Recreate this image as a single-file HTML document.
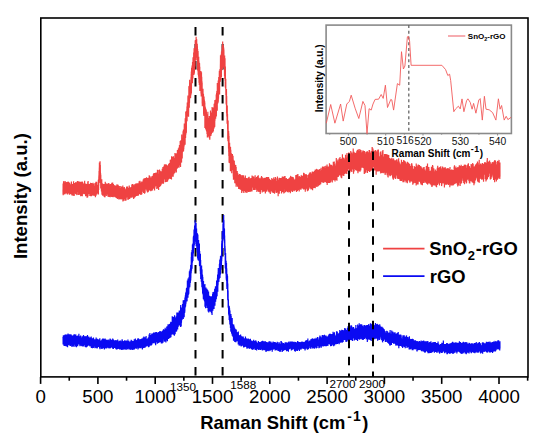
<!DOCTYPE html>
<html><head><meta charset="utf-8"><style>
html,body{margin:0;padding:0;background:#fff;}
body{width:550px;height:443px;overflow:hidden;}
svg{display:block;}
</style></head><body>
<svg width="550" height="443" viewBox="0 0 550 443">
<rect x="0" y="0" width="550" height="443" fill="#fff"/>
<line x1="195.5" y1="27.1" x2="195.5" y2="376.9" stroke="#000" stroke-width="2.0" stroke-dasharray="8.5 8.5"/>
<line x1="222.6" y1="27.1" x2="222.6" y2="376.9" stroke="#000" stroke-width="2.0" stroke-dasharray="8.5 8.5"/>
<polyline points="63.00,189.8 63.06,194.3 63.12,183.6 63.18,195.3 63.24,184.1 63.30,185.2 63.36,194.1 63.42,187.4 63.48,189.5 63.54,181.4 63.60,191.8 63.66,189.6 63.72,185.9 63.78,191.7 63.84,184.7 63.90,186.2 63.96,180.9 64.02,186.6 64.08,183.8 64.14,187.5 64.20,191.1 64.26,184.2 64.32,189.9 64.38,194.1 64.44,194.3 64.50,192.3 64.56,189.8 64.62,186.2 64.68,184.3 64.74,193.8 64.80,187.9 64.86,182.6 64.92,190.6 64.98,191.9 65.04,190.9 65.10,194.3 65.16,182.4 65.22,186.6 65.28,188.0 65.34,181.3 65.40,191.2 65.46,193.0 65.52,190.4 65.58,185.7 65.64,192.5 65.70,187.8 65.76,189.6 65.82,193.2 65.88,182.8 65.94,191.2 66.00,191.7 66.06,190.9 66.12,184.1 66.18,190.5 66.24,185.2 66.30,183.0 66.36,192.8 66.42,192.1 66.48,190.8 66.54,187.9 66.60,186.0 66.66,181.9 66.72,189.1 66.78,192.1 66.84,193.3 66.90,183.8 66.96,182.8 67.02,189.3 67.08,193.8 67.14,194.1 67.20,185.4 67.26,189.4 67.32,192.1 67.38,187.1 67.44,192.9 67.50,181.9 67.56,191.5 67.62,194.5 67.68,192.6 67.74,193.0 67.80,190.9 67.86,185.4 67.92,192.7 67.98,185.3 68.04,191.9 68.10,181.5 68.16,193.6 68.22,184.0 68.28,184.8 68.34,185.0 68.40,193.4 68.46,183.7 68.52,186.7 68.58,182.0 68.64,185.6 68.70,186.0 68.76,182.3 68.82,191.8 68.88,185.8 68.94,191.6 69.00,191.9 69.06,187.4 69.12,193.4 69.18,189.3 69.24,191.9 69.30,187.4 69.36,189.6 69.42,184.5 69.48,194.7 69.54,186.5 69.60,186.9 69.66,182.7 69.72,184.3 69.78,190.9 69.84,193.4 69.90,185.9 69.96,186.1 70.02,187.5 70.08,188.7 70.14,187.0 70.20,191.5 70.26,193.9 70.32,192.4 70.38,186.3 70.44,186.7 70.50,186.3 70.56,184.2 70.62,184.8 70.68,186.1 70.74,186.5 70.80,185.1 70.86,189.6 70.92,194.0 70.98,191.1 71.04,192.9 71.10,190.7 71.16,191.3 71.22,194.4 71.28,189.7 71.34,187.9 71.40,181.6 71.46,189.2 71.52,185.1 71.58,183.5 71.64,190.2 71.70,192.4 71.76,185.4 71.82,191.2 71.88,187.6 71.94,184.0 72.00,195.6 72.06,187.0 72.12,185.9 72.18,193.3 72.24,185.0 72.30,191.9 72.36,185.4 72.42,186.8 72.48,183.9 72.54,191.6 72.60,185.9 72.66,195.4 72.72,189.2 72.78,192.2 72.84,188.4 72.90,184.0 72.96,187.2 73.02,194.0 73.08,186.2 73.14,195.8 73.20,191.0 73.26,186.6 73.32,189.0 73.38,185.3 73.44,186.7 73.50,189.0 73.56,181.3 73.62,189.5 73.68,193.1 73.74,186.1 73.80,192.1 73.86,186.2 73.92,184.9 73.98,193.7 74.04,183.0 74.10,184.2 74.16,196.0 74.22,184.9 74.28,194.8 74.34,192.5 74.40,192.3 74.46,190.0 74.52,186.5 74.58,192.0 74.64,183.0 74.70,187.2 74.76,186.0 74.82,188.1 74.88,183.4 74.94,186.1 75.00,188.8 75.06,186.3 75.12,193.0 75.18,190.4 75.24,192.4 75.30,191.3 75.36,188.5 75.42,186.3 75.48,191.5 75.54,184.4 75.60,182.3 75.66,193.9 75.72,189.1 75.78,193.1 75.84,189.2 75.90,192.1 75.96,182.2 76.02,182.5 76.08,190.8 76.14,188.8 76.20,184.7 76.26,194.5 76.32,184.1 76.38,187.2 76.44,182.9 76.50,191.6 76.56,185.1 76.62,183.5 76.68,183.9 76.74,182.8 76.80,183.1 76.86,190.3 76.92,188.1 76.98,194.1 77.04,195.1 77.10,193.5 77.16,190.1 77.22,194.2 77.28,194.4 77.34,183.4 77.40,181.1 77.46,188.5 77.52,182.9 77.58,191.1 77.64,184.7 77.70,185.8 77.76,186.8 77.82,183.2 77.88,191.5 77.94,189.9 78.00,189.3 78.06,183.0 78.12,186.7 78.18,191.8 78.24,183.9 78.30,186.8 78.36,181.4 78.42,182.4 78.48,182.7 78.54,188.1 78.60,187.7 78.66,195.1 78.72,185.3 78.78,181.3 78.84,193.0 78.90,182.2 78.96,181.9 79.02,193.0 79.08,191.3 79.14,185.8 79.20,184.3 79.26,187.8 79.32,185.4 79.38,194.5 79.44,186.5 79.50,182.3 79.56,194.1 79.62,189.5 79.68,184.2 79.74,184.9 79.80,187.2 79.86,183.5 79.92,190.5 79.98,190.8 80.04,181.7 80.10,194.2 80.16,193.3 80.22,194.9 80.28,193.1 80.34,190.7 80.40,184.1 80.46,182.9 80.52,183.8 80.58,195.2 80.64,191.4 80.70,196.3 80.76,186.5 80.82,192.0 80.88,182.9 80.94,181.8 81.00,186.3 81.06,190.0 81.12,191.5 81.18,187.4 81.24,188.1 81.30,190.3 81.36,195.9 81.42,187.1 81.48,190.4 81.54,182.8 81.60,187.5 81.66,189.9 81.72,189.8 81.78,184.6 81.84,187.4 81.90,194.0 81.96,189.9 82.02,190.3 82.08,183.5 82.14,181.6 82.20,183.1 82.26,182.9 82.32,196.2 82.38,181.8 82.44,187.7 82.50,183.4 82.56,191.9 82.62,182.3 82.68,183.1 82.74,184.0 82.80,185.4 82.86,189.0 82.92,194.2 82.98,187.2 83.04,185.1 83.10,193.9 83.16,192.7 83.22,184.0 83.28,192.7 83.34,192.6 83.40,183.4 83.46,191.6 83.52,184.8 83.58,186.0 83.64,187.1 83.70,190.2 83.76,189.6 83.82,189.8 83.88,187.1 83.94,193.0 84.00,186.1 84.06,193.7 84.12,188.6 84.18,186.8 84.24,184.9 84.30,190.0 84.36,186.7 84.42,191.2 84.48,188.1 84.54,182.5 84.60,193.0 84.66,180.7 84.72,194.3 84.78,192.4 84.84,194.0 84.90,191.4 84.96,183.3 85.02,187.3 85.08,185.7 85.14,190.8 85.20,188.1 85.26,191.0 85.32,186.1 85.38,188.5 85.44,190.3 85.50,187.8 85.56,184.6 85.62,196.2 85.68,191.8 85.74,194.8 85.80,187.6 85.86,194.0 85.92,193.1 85.98,195.8 86.04,183.8 86.10,187.4 86.16,187.6 86.22,191.2 86.28,184.7 86.34,184.2 86.40,187.9 86.46,189.8 86.52,188.4 86.58,196.0 86.64,186.1 86.70,184.8 86.76,193.5 86.82,187.8 86.88,185.2 86.94,184.8 87.00,195.0 87.06,197.7 87.12,189.5 87.18,187.8 87.24,191.2 87.30,184.1 87.36,187.6 87.42,189.5 87.48,187.5 87.54,188.3 87.60,197.6 87.66,185.1 87.72,189.7 87.78,181.8 87.84,183.5 87.90,186.2 87.96,196.3 88.02,192.6 88.08,195.3 88.14,180.9 88.20,192.6 88.26,188.5 88.32,188.1 88.38,192.5 88.44,186.3 88.50,188.3 88.56,184.0 88.62,188.1 88.68,188.5 88.74,184.5 88.80,184.5 88.86,188.1 88.92,189.4 88.98,193.0 89.04,191.6 89.10,189.4 89.16,193.9 89.22,185.3 89.28,183.9 89.34,188.3 89.40,184.5 89.46,191.1 89.52,192.0 89.58,184.9 89.64,193.2 89.70,190.5 89.76,187.3 89.82,195.9 89.88,195.1 89.94,184.5 90.00,184.6 90.06,193.5 90.12,185.0 90.18,194.4 90.24,187.0 90.30,186.8 90.36,191.2 90.42,195.7 90.48,182.8 90.54,185.6 90.60,192.2 90.66,189.0 90.72,184.4 90.78,196.3 90.84,185.4 90.90,192.7 90.96,195.0 91.02,191.4 91.08,192.8 91.14,191.1 91.20,191.2 91.26,186.1 91.32,192.5 91.38,195.3 91.44,196.2 91.50,193.1 91.56,194.9 91.62,182.9 91.68,187.9 91.74,186.9 91.80,195.4 91.86,188.5 91.92,187.5 91.98,184.1 92.04,186.6 92.10,191.7 92.16,183.4 92.22,184.2 92.28,186.9 92.34,191.0 92.40,185.7 92.46,194.4 92.52,184.5 92.58,190.5 92.64,193.7 92.70,195.6 92.76,195.0 92.82,183.7 92.88,192.8 92.94,191.8 93.00,188.6 93.06,182.8 93.12,184.0 93.18,192.5 93.24,183.9 93.30,185.7 93.36,185.2 93.42,193.3 93.48,189.8 93.54,184.0 93.60,186.6 93.66,188.6 93.72,192.9 93.78,186.0 93.84,192.4 93.90,190.4 93.96,195.8 94.02,191.7 94.08,189.2 94.14,188.8 94.20,189.3 94.26,193.3 94.32,185.7 94.38,188.6 94.44,189.0 94.50,189.0 94.56,191.4 94.62,190.3 94.68,189.0 94.74,190.1 94.80,186.0 94.86,190.7 94.92,192.6 94.98,183.0 95.04,188.0 95.10,195.9 95.16,193.9 95.22,194.8 95.28,184.2 95.34,191.9 95.40,197.3 95.46,196.4 95.52,190.9 95.58,192.0 95.64,193.2 95.70,188.8 95.76,191.2 95.82,190.6 95.88,185.1 95.94,181.8 96.00,195.7 96.06,193.6 96.12,185.0 96.18,193.3 96.24,185.2 96.30,189.1 96.36,187.7 96.42,185.4 96.48,182.9 96.54,182.0 96.60,182.1 96.66,182.3 96.72,182.9 96.78,194.6 96.84,188.8 96.90,184.5 96.96,188.9 97.02,189.9 97.08,188.1 97.14,185.2 97.20,186.5 97.26,191.5 97.32,187.5 97.38,186.7 97.44,192.6 97.50,185.6 97.56,190.4 97.62,187.4 97.68,191.7 97.74,185.9 97.80,188.8 97.86,184.9 97.92,191.1 97.98,193.6 98.04,188.3 98.10,192.7 98.16,190.1 98.22,191.4 98.28,191.6 98.34,179.7 98.40,194.5 98.46,183.0 98.52,182.7 98.58,179.6 98.64,189.9 98.70,181.7 98.76,185.9 98.82,177.8 98.88,176.5 98.94,175.2 99.00,176.7 99.06,171.1 99.12,182.8 99.18,182.8 99.24,173.1 99.30,167.6 99.36,171.8 99.42,162.5 99.48,171.1 99.54,168.0 99.60,171.3 99.66,175.0 99.72,178.9 99.78,175.6 99.84,178.7 99.90,171.7 99.96,166.8 100.02,161.3 100.08,161.7 100.14,172.5 100.20,179.4 100.26,174.1 100.32,165.1 100.38,171.8 100.44,182.8 100.50,173.7 100.56,173.0 100.62,177.3 100.68,183.5 100.74,188.2 100.80,174.8 100.86,182.0 100.92,181.4 100.98,182.2 101.04,183.9 101.10,188.8 101.16,180.3 101.22,186.3 101.28,180.6 101.34,185.4 101.40,190.1 101.46,191.6 101.52,185.5 101.58,183.6 101.64,187.5 101.70,187.2 101.76,179.2 101.82,187.1 101.88,191.6 101.94,193.9 102.00,194.7 102.06,184.3 102.12,183.5 102.18,183.2 102.24,187.4 102.30,193.5 102.36,185.2 102.42,192.9 102.48,191.0 102.54,185.1 102.60,189.6 102.66,192.7 102.72,195.7 102.78,183.7 102.84,193.6 102.90,190.0 102.96,184.5 103.02,186.1 103.08,195.7 103.14,186.9 103.20,186.2 103.26,191.2 103.32,184.0 103.38,189.6 103.44,186.2 103.50,188.4 103.56,191.6 103.62,193.0 103.68,189.7 103.74,193.9 103.80,193.6 103.86,194.8 103.92,189.2 103.98,193.3 104.04,187.7 104.10,187.0 104.16,191.9 104.22,197.0 104.28,193.5 104.34,186.9 104.40,184.0 104.46,192.8 104.52,193.0 104.58,193.3 104.64,183.9 104.70,194.5 104.76,188.3 104.82,185.6 104.88,186.9 104.94,196.9 105.00,197.3 105.06,184.9 105.12,187.4 105.18,194.0 105.24,181.8 105.30,184.5 105.36,183.6 105.42,194.7 105.48,186.8 105.54,187.3 105.60,194.2 105.66,186.6 105.72,192.1 105.78,188.4 105.84,188.5 105.90,189.4 105.96,186.4 106.02,183.3 106.08,194.4 106.14,194.5 106.20,191.2 106.26,192.0 106.32,196.0 106.38,189.2 106.44,191.9 106.50,193.8 106.56,185.5 106.62,185.6 106.68,193.6 106.74,193.8 106.80,184.2 106.86,193.9 106.92,194.1 106.98,188.4 107.04,189.0 107.10,184.0 107.16,189.3 107.22,185.8 107.28,191.7 107.34,191.1 107.40,190.2 107.46,183.8 107.52,192.0 107.58,191.1 107.64,186.5 107.70,191.1 107.76,195.4 107.82,187.3 107.88,195.3 107.94,195.0 108.00,191.2 108.06,196.8 108.12,186.2 108.18,192.2 108.24,194.5 108.30,183.3 108.36,194.7 108.42,187.0 108.48,194.1 108.54,191.0 108.60,194.0 108.66,188.4 108.72,190.6 108.78,195.3 108.84,183.0 108.90,185.8 108.96,195.6 109.02,197.0 109.08,186.6 109.14,196.2 109.20,186.5 109.26,196.1 109.32,194.0 109.38,184.6 109.44,184.7 109.50,188.0 109.56,196.1 109.62,193.5 109.68,187.7 109.74,195.4 109.80,187.8 109.86,187.5 109.92,186.9 109.98,196.1 110.04,195.3 110.10,188.7 110.16,187.3 110.22,197.2 110.28,189.8 110.34,185.9 110.40,189.2 110.46,193.3 110.52,195.0 110.58,184.0 110.64,196.1 110.70,190.9 110.76,185.9 110.82,195.1 110.88,196.4 110.94,194.8 111.00,184.3 111.06,189.6 111.12,191.8 111.18,194.2 111.24,189.1 111.30,185.7 111.36,196.3 111.42,194.9 111.48,190.2 111.54,185.0 111.60,196.5 111.66,192.9 111.72,197.0 111.78,182.8 111.84,187.8 111.90,186.5 111.96,185.0 112.02,193.1 112.08,188.0 112.14,183.6 112.20,185.6 112.26,196.9 112.32,192.5 112.38,187.6 112.44,195.1 112.50,184.1 112.56,191.7 112.62,191.8 112.68,182.5 112.74,191.8 112.80,192.5 112.86,193.5 112.92,194.4 112.98,195.0 113.04,194.4 113.10,197.2 113.16,188.8 113.22,185.5 113.28,187.0 113.34,188.2 113.40,184.3 113.46,184.4 113.52,192.9 113.58,186.8 113.64,187.6 113.70,194.0 113.76,195.5 113.82,196.4 113.88,188.3 113.94,193.7 114.00,196.7 114.06,185.1 114.12,186.8 114.18,191.7 114.24,187.6 114.30,187.0 114.36,188.3 114.42,186.2 114.48,188.8 114.54,186.0 114.60,187.4 114.66,187.5 114.72,187.8 114.78,186.6 114.84,191.1 114.90,192.1 114.96,188.8 115.02,196.8 115.08,196.9 115.14,187.3 115.20,185.6 115.26,195.2 115.32,189.2 115.38,187.6 115.44,193.3 115.50,195.5 115.56,187.3 115.62,190.6 115.68,191.9 115.74,194.6 115.80,186.9 115.86,192.8 115.92,192.0 115.98,194.3 116.04,185.5 116.10,187.4 116.16,197.8 116.22,196.3 116.28,196.6 116.34,198.0 116.40,197.1 116.46,189.6 116.52,194.5 116.58,193.8 116.64,192.7 116.70,192.0 116.76,187.1 116.82,197.4 116.88,189.3 116.94,187.3 117.00,184.3 117.06,194.0 117.12,188.4 117.18,197.0 117.24,188.8 117.30,190.5 117.36,199.0 117.42,190.3 117.48,196.9 117.54,196.2 117.60,187.6 117.66,187.2 117.72,187.9 117.78,196.2 117.84,190.4 117.90,190.7 117.96,193.2 118.02,189.3 118.08,197.6 118.14,184.8 118.20,188.3 118.26,197.3 118.32,192.8 118.38,195.7 118.44,191.6 118.50,186.7 118.56,192.1 118.62,198.5 118.68,193.3 118.74,194.6 118.80,199.1 118.86,199.2 118.92,199.0 118.98,199.4 119.04,195.2 119.10,190.8 119.16,193.8 119.22,190.7 119.28,197.0 119.34,186.0 119.40,192.7 119.46,197.4 119.52,191.0 119.58,194.5 119.64,187.9 119.70,189.1 119.76,199.2 119.82,196.0 119.88,191.0 119.94,192.8 120.00,196.1 120.06,195.6 120.12,198.1 120.18,189.6 120.24,188.1 120.30,191.6 120.36,193.0 120.42,192.9 120.48,188.5 120.54,190.2 120.60,195.9 120.66,191.1 120.72,197.2 120.78,186.1 120.84,199.2 120.90,188.2 120.96,193.2 121.02,198.3 121.08,189.1 121.14,189.3 121.20,199.4 121.26,197.7 121.32,193.5 121.38,187.5 121.44,194.2 121.50,188.9 121.56,190.1 121.62,198.8 121.68,193.6 121.74,191.2 121.80,186.7 121.86,192.2 121.92,199.0 121.98,190.9 122.04,189.3 122.10,194.0 122.16,190.8 122.22,194.5 122.28,196.8 122.34,190.8 122.40,192.3 122.46,194.3 122.52,191.6 122.58,188.4 122.64,188.7 122.70,193.5 122.76,199.6 122.82,185.4 122.88,199.4 122.94,201.5 123.00,193.0 123.06,200.1 123.12,194.9 123.18,195.5 123.24,191.2 123.30,192.2 123.36,195.0 123.42,191.0 123.48,194.9 123.54,193.2 123.60,196.4 123.66,199.3 123.72,188.9 123.78,192.0 123.84,189.4 123.90,187.5 123.96,195.2 124.02,195.0 124.08,200.7 124.14,193.9 124.20,191.3 124.26,198.7 124.32,186.9 124.38,189.8 124.44,197.0 124.50,188.9 124.56,191.1 124.62,197.6 124.68,190.4 124.74,190.7 124.80,197.5 124.86,188.7 124.92,197.5 124.98,188.9 125.04,189.6 125.10,192.9 125.16,192.2 125.22,199.1 125.28,196.1 125.34,193.0 125.40,192.5 125.46,189.4 125.52,200.7 125.58,191.8 125.64,197.9 125.70,196.5 125.76,198.0 125.82,192.9 125.88,191.0 125.94,191.3 126.00,197.5 126.06,200.5 126.12,197.9 126.18,192.6 126.24,197.9 126.30,196.9 126.36,194.1 126.42,187.9 126.48,188.7 126.54,195.8 126.60,187.1 126.66,191.9 126.72,197.2 126.78,195.2 126.84,193.9 126.90,188.6 126.96,186.6 127.02,186.5 127.08,188.2 127.14,188.6 127.20,193.8 127.26,191.5 127.32,188.3 127.38,190.7 127.44,190.5 127.50,196.1 127.56,195.0 127.62,186.4 127.68,190.8 127.74,189.9 127.80,199.8 127.86,197.2 127.92,194.2 127.98,196.2 128.04,195.2 128.10,195.5 128.16,190.1 128.22,189.1 128.28,194.9 128.34,199.7 128.40,188.1 128.46,194.4 128.52,193.2 128.58,190.3 128.64,197.8 128.70,188.7 128.76,191.3 128.82,190.5 128.88,198.2 128.94,195.4 129.00,194.7 129.06,198.5 129.12,189.0 129.18,194.0 129.24,185.6 129.30,188.5 129.36,195.0 129.42,198.7 129.48,194.0 129.54,193.2 129.60,195.5 129.66,199.0 129.72,197.6 129.78,196.5 129.84,192.2 129.90,197.1 129.96,188.7 130.02,197.4 130.08,188.9 130.14,197.6 130.20,190.7 130.26,189.4 130.32,188.5 130.38,190.6 130.44,187.2 130.50,190.3 130.56,195.8 130.62,197.7 130.68,187.3 130.74,190.0 130.80,190.5 130.86,197.8 130.92,195.2 130.98,189.2 131.04,196.2 131.10,193.2 131.16,188.9 131.22,194.6 131.28,191.4 131.34,197.7 131.40,192.9 131.46,186.9 131.52,195.1 131.58,193.2 131.64,191.6 131.70,193.1 131.76,194.5 131.82,184.6 131.88,190.9 131.94,196.4 132.00,187.6 132.06,186.6 132.12,191.0 132.18,192.1 132.24,189.1 132.30,190.8 132.36,194.4 132.42,196.2 132.48,184.0 132.54,189.3 132.60,193.8 132.66,184.2 132.72,197.6 132.78,192.4 132.84,192.2 132.90,190.3 132.96,186.0 133.02,185.8 133.08,193.6 133.14,197.3 133.20,196.4 133.26,184.7 133.32,185.0 133.38,192.8 133.44,192.0 133.50,192.4 133.56,197.2 133.62,195.4 133.68,199.0 133.74,188.7 133.80,190.0 133.86,197.4 133.92,193.0 133.98,185.6 134.04,196.0 134.10,190.5 134.16,186.1 134.22,189.5 134.28,191.7 134.34,192.3 134.40,188.6 134.46,195.3 134.52,190.7 134.58,197.8 134.64,193.6 134.70,185.6 134.76,184.4 134.82,195.2 134.88,192.3 134.94,196.7 135.00,190.1 135.06,187.3 135.12,184.3 135.18,193.1 135.24,185.8 135.30,191.8 135.36,191.4 135.42,194.8 135.48,196.7 135.54,186.7 135.60,190.0 135.66,192.6 135.72,185.9 135.78,183.6 135.84,185.8 135.90,195.8 135.96,194.3 136.02,187.2 136.08,184.4 136.14,192.4 136.20,188.6 136.26,187.2 136.32,186.1 136.38,190.4 136.44,189.4 136.50,195.9 136.56,191.3 136.62,194.0 136.68,195.1 136.74,195.7 136.80,189.6 136.86,191.4 136.92,190.2 136.98,183.3 137.04,196.0 137.10,184.6 137.16,191.3 137.22,191.7 137.28,193.9 137.34,191.7 137.40,191.9 137.46,193.7 137.52,191.3 137.58,192.6 137.64,195.3 137.70,183.2 137.76,189.4 137.82,185.2 137.88,184.1 137.94,184.7 138.00,194.8 138.06,186.6 138.12,189.6 138.18,193.1 138.24,191.8 138.30,195.7 138.36,187.7 138.42,193.2 138.48,194.9 138.54,183.2 138.60,187.4 138.66,185.3 138.72,188.5 138.78,187.0 138.84,194.4 138.90,187.6 138.96,185.7 139.02,192.7 139.08,186.4 139.14,181.3 139.20,185.1 139.26,188.8 139.32,181.3 139.38,185.9 139.44,186.3 139.50,187.7 139.56,188.5 139.62,185.3 139.68,186.1 139.74,188.7 139.80,187.1 139.86,194.1 139.92,191.6 139.98,180.7 140.04,182.8 140.10,181.8 140.16,186.4 140.22,186.9 140.28,193.8 140.34,191.7 140.40,193.0 140.46,191.0 140.52,191.6 140.58,194.6 140.64,189.3 140.70,187.2 140.76,186.3 140.82,182.5 140.88,194.8 140.94,192.6 141.00,188.2 141.06,195.0 141.12,192.6 141.18,187.9 141.24,193.4 141.30,192.7 141.36,185.8 141.42,186.2 141.48,183.1 141.54,183.1 141.60,184.5 141.66,185.1 141.72,181.5 141.78,189.0 141.84,194.3 141.90,189.2 141.96,192.3 142.02,192.5 142.08,188.3 142.14,187.7 142.20,185.5 142.26,188.4 142.32,183.8 142.38,181.4 142.44,189.7 142.50,188.8 142.56,189.7 142.62,190.3 142.68,184.3 142.74,182.1 142.80,183.8 142.86,183.5 142.92,187.4 142.98,186.0 143.04,188.9 143.10,183.4 143.16,186.0 143.22,179.5 143.28,189.6 143.34,191.7 143.40,190.3 143.46,192.0 143.52,181.1 143.58,193.0 143.64,186.7 143.70,180.8 143.76,182.5 143.82,178.6 143.88,189.5 143.94,186.8 144.00,189.8 144.06,189.4 144.12,186.4 144.18,181.4 144.24,191.5 144.30,179.5 144.36,189.6 144.42,181.3 144.48,181.0 144.54,191.9 144.60,193.8 144.66,185.7 144.72,182.2 144.78,185.8 144.84,181.6 144.90,180.3 144.96,181.5 145.02,178.0 145.08,192.7 145.14,180.4 145.20,185.4 145.26,180.3 145.32,186.4 145.38,185.8 145.44,189.2 145.50,178.7 145.56,181.2 145.62,186.8 145.68,183.5 145.74,189.5 145.80,178.8 145.86,184.2 145.92,182.5 145.98,185.6 146.04,182.3 146.10,187.6 146.16,178.9 146.22,178.0 146.28,182.2 146.34,178.5 146.40,184.1 146.46,186.8 146.52,177.3 146.58,185.7 146.64,187.0 146.70,186.5 146.76,177.7 146.82,190.8 146.88,187.5 146.94,181.7 147.00,183.0 147.06,188.3 147.12,190.8 147.18,180.1 147.24,189.4 147.30,182.1 147.36,191.8 147.42,191.9 147.48,181.8 147.54,182.0 147.60,185.2 147.66,192.4 147.72,178.6 147.78,185.1 147.84,186.4 147.90,188.5 147.96,178.1 148.02,185.9 148.08,182.4 148.14,179.8 148.20,189.1 148.26,178.3 148.32,190.5 148.38,180.0 148.44,191.8 148.50,183.7 148.56,183.5 148.62,178.7 148.68,184.4 148.74,188.0 148.80,177.7 148.86,184.7 148.92,179.3 148.98,179.4 149.04,189.9 149.10,177.4 149.16,185.6 149.22,175.2 149.28,184.9 149.34,185.9 149.40,178.9 149.46,190.5 149.52,179.9 149.58,184.9 149.64,179.2 149.70,186.8 149.76,179.7 149.82,179.8 149.88,176.0 149.94,190.5 150.00,176.9 150.06,181.8 150.12,185.1 150.18,179.9 150.24,185.3 150.30,182.0 150.36,189.5 150.42,178.1 150.48,177.7 150.54,177.4 150.60,182.3 150.66,184.0 150.72,190.2 150.78,191.2 150.84,179.9 150.90,187.1 150.96,181.9 151.02,180.5 151.08,177.7 151.14,187.5 151.20,180.2 151.26,185.5 151.32,183.8 151.38,190.8 151.44,178.9 151.50,183.5 151.56,188.0 151.62,178.6 151.68,187.1 151.74,182.8 151.80,176.5 151.86,188.9 151.92,180.9 151.98,185.0 152.04,187.7 152.10,189.4 152.16,177.9 152.22,175.9 152.28,185.2 152.34,185.0 152.40,182.5 152.46,185.9 152.52,190.5 152.58,185.6 152.64,183.8 152.70,188.0 152.76,189.1 152.82,186.6 152.88,175.8 152.94,181.8 153.00,183.9 153.06,188.3 153.12,183.0 153.18,184.1 153.24,184.6 153.30,177.2 153.36,176.9 153.42,174.2 153.48,174.2 153.54,180.8 153.60,176.7 153.66,184.5 153.72,181.4 153.78,183.3 153.84,175.3 153.90,181.5 153.96,173.1 154.02,175.6 154.08,186.0 154.14,188.7 154.20,175.7 154.26,185.8 154.32,174.3 154.38,183.9 154.44,184.2 154.50,183.0 154.56,190.4 154.62,183.3 154.68,176.1 154.74,188.6 154.80,176.6 154.86,181.5 154.92,179.2 154.98,187.4 155.04,173.0 155.10,181.7 155.16,180.8 155.22,183.0 155.28,186.6 155.34,177.6 155.40,180.8 155.46,184.3 155.52,174.7 155.58,182.5 155.64,180.3 155.70,182.8 155.76,182.5 155.82,186.1 155.88,177.2 155.94,178.3 156.00,172.4 156.06,183.3 156.12,178.1 156.18,173.9 156.24,179.6 156.30,178.9 156.36,183.2 156.42,177.9 156.48,177.9 156.54,185.0 156.60,183.2 156.66,174.1 156.72,181.2 156.78,189.1 156.84,185.4 156.90,184.9 156.96,174.8 157.02,186.8 157.08,173.4 157.14,177.3 157.20,172.7 157.26,183.4 157.32,184.2 157.38,182.6 157.44,169.8 157.50,187.5 157.56,178.8 157.62,183.8 157.68,188.4 157.74,185.3 157.80,180.6 157.86,180.4 157.92,173.9 157.98,177.6 158.04,184.6 158.10,183.1 158.16,183.9 158.22,183.6 158.28,175.4 158.34,188.6 158.40,177.5 158.46,173.8 158.52,183.6 158.58,174.8 158.64,190.0 158.70,178.3 158.76,174.0 158.82,170.1 158.88,181.4 158.94,172.3 159.00,173.6 159.06,178.1 159.12,177.4 159.18,185.9 159.24,173.5 159.30,186.9 159.36,174.2 159.42,185.2 159.48,169.4 159.54,171.6 159.60,177.8 159.66,173.0 159.72,179.0 159.78,184.6 159.84,186.7 159.90,173.4 159.96,174.6 160.02,175.0 160.08,172.0 160.14,179.5 160.20,170.7 160.26,172.9 160.32,171.6 160.38,176.8 160.44,185.6 160.50,172.2 160.56,186.1 160.62,173.6 160.68,180.9 160.74,183.2 160.80,178.9 160.86,180.7 160.92,181.1 160.98,184.7 161.04,184.9 161.10,177.5 161.16,174.0 161.22,171.4 161.28,178.6 161.34,175.8 161.40,173.3 161.46,182.9 161.52,180.9 161.58,182.3 161.64,182.1 161.70,177.2 161.76,175.3 161.82,179.6 161.88,180.7 161.94,170.9 162.00,173.5 162.06,178.6 162.12,172.5 162.18,183.8 162.24,168.7 162.30,183.2 162.36,180.7 162.42,179.5 162.48,171.5 162.54,181.7 162.60,176.4 162.66,177.7 162.72,174.6 162.78,170.3 162.84,183.0 162.90,167.0 162.96,168.5 163.02,180.2 163.08,181.8 163.14,170.5 163.20,175.0 163.26,178.8 163.32,179.8 163.38,178.8 163.44,173.7 163.50,183.8 163.56,166.4 163.62,177.4 163.68,168.2 163.74,171.3 163.80,174.3 163.86,179.6 163.92,177.2 163.98,172.5 164.04,175.1 164.10,174.0 164.16,174.7 164.22,172.3 164.28,173.1 164.34,175.2 164.40,164.4 164.46,165.3 164.52,174.6 164.58,170.4 164.64,179.5 164.70,164.4 164.76,169.1 164.82,176.7 164.88,167.1 164.94,174.7 165.00,171.5 165.06,169.8 165.12,169.7 165.18,182.2 165.24,168.4 165.30,166.5 165.36,178.1 165.42,168.4 165.48,177.3 165.54,173.8 165.60,177.6 165.66,182.1 165.72,166.3 165.78,164.3 165.84,172.5 165.90,170.4 165.96,170.2 166.02,178.3 166.08,166.0 166.14,174.0 166.20,173.2 166.26,164.4 166.32,176.4 166.38,168.0 166.44,172.0 166.50,165.1 166.56,169.7 166.62,171.5 166.68,175.2 166.74,165.3 166.80,173.5 166.86,174.0 166.92,182.1 166.98,172.8 167.04,174.4 167.10,169.1 167.16,171.2 167.22,181.5 167.28,173.1 167.34,180.3 167.40,174.8 167.46,178.9 167.52,173.0 167.58,175.3 167.64,181.2 167.70,169.6 167.76,168.1 167.82,180.0 167.88,166.0 167.94,178.0 168.00,165.5 168.06,172.3 168.12,171.1 168.18,167.9 168.24,165.3 168.30,179.6 168.36,172.2 168.42,173.6 168.48,170.2 168.54,179.3 168.60,172.9 168.66,163.8 168.72,164.9 168.78,176.8 168.84,173.0 168.90,173.3 168.96,164.0 169.02,164.5 169.08,167.3 169.14,165.2 169.20,170.6 169.26,165.6 169.32,172.4 169.38,168.2 169.44,169.8 169.50,178.8 169.56,163.1 169.62,173.7 169.68,173.7 169.74,164.1 169.80,175.8 169.86,163.4 169.92,174.9 169.98,163.1 170.04,165.8 170.10,166.4 170.16,173.5 170.22,168.0 170.28,159.7 170.34,174.2 170.40,168.6 170.46,178.9 170.52,161.0 170.58,165.3 170.64,177.3 170.70,171.0 170.76,169.5 170.82,169.8 170.88,177.6 170.94,159.6 171.00,177.0 171.06,166.2 171.12,174.9 171.18,168.4 171.24,175.7 171.30,160.6 171.36,165.5 171.42,172.1 171.48,179.4 171.54,169.2 171.60,156.2 171.66,173.2 171.72,171.0 171.78,159.1 171.84,159.5 171.90,168.5 171.96,161.0 172.02,173.5 172.08,176.8 172.14,173.8 172.20,173.2 172.26,165.9 172.32,156.7 172.38,173.3 172.44,172.2 172.50,169.1 172.56,159.4 172.62,158.1 172.68,165.5 172.74,160.8 172.80,163.0 172.86,162.1 172.92,161.4 172.98,176.6 173.04,161.1 173.10,163.1 173.16,176.7 173.22,170.8 173.28,165.6 173.34,169.3 173.40,157.6 173.46,156.4 173.52,157.8 173.58,167.2 173.64,168.5 173.70,166.1 173.76,170.9 173.82,166.6 173.88,174.2 173.94,169.2 174.00,158.5 174.06,160.4 174.12,162.7 174.18,166.5 174.24,159.1 174.30,164.4 174.36,159.6 174.42,168.6 174.48,168.8 174.54,162.6 174.60,170.4 174.66,157.9 174.72,172.9 174.78,161.6 174.84,168.4 174.90,166.6 174.96,153.1 175.02,162.5 175.08,153.7 175.14,163.7 175.20,160.0 175.26,171.1 175.32,155.5 175.38,153.5 175.44,167.2 175.50,158.1 175.56,165.1 175.62,156.9 175.68,168.0 175.74,153.5 175.80,162.5 175.86,169.3 175.92,170.4 175.98,154.6 176.04,162.5 176.10,172.2 176.16,154.2 176.22,166.9 176.28,165.7 176.34,172.5 176.40,162.6 176.46,161.1 176.52,161.1 176.58,156.7 176.64,155.0 176.70,160.6 176.76,160.4 176.82,161.1 176.88,165.8 176.94,158.9 177.00,152.9 177.06,168.5 177.12,168.3 177.18,153.9 177.24,162.8 177.30,153.2 177.36,166.4 177.42,150.0 177.48,168.2 177.54,165.5 177.60,151.4 177.66,160.1 177.72,153.9 177.78,151.7 177.84,166.5 177.90,164.2 177.96,159.3 178.02,160.4 178.08,167.5 178.14,153.8 178.20,160.6 178.26,153.4 178.32,156.0 178.38,148.6 178.44,154.7 178.50,162.5 178.56,152.9 178.62,161.0 178.68,161.4 178.74,161.4 178.80,154.7 178.86,157.1 178.92,147.6 178.98,165.2 179.04,167.7 179.10,147.6 179.16,160.5 179.22,159.4 179.28,165.3 179.34,159.8 179.40,150.0 179.46,144.9 179.52,152.3 179.58,148.1 179.64,158.5 179.70,145.9 179.76,158.5 179.82,160.9 179.88,145.5 179.94,165.4 180.00,163.0 180.06,145.9 180.12,153.5 180.18,141.0 180.24,151.4 180.30,142.4 180.36,155.9 180.42,143.5 180.48,143.3 180.54,167.1 180.60,159.1 180.66,157.8 180.72,158.8 180.78,143.8 180.84,140.2 180.90,146.7 180.96,158.1 181.02,158.0 181.08,158.2 181.14,149.9 181.20,154.0 181.26,154.8 181.32,151.1 181.38,145.1 181.44,149.0 181.50,161.4 181.56,162.6 181.62,140.3 181.68,139.8 181.74,134.5 181.80,148.2 181.86,157.9 181.92,146.1 181.98,144.8 182.04,156.8 182.10,141.8 182.16,149.9 182.22,158.4 182.28,153.4 182.34,137.7 182.40,142.2 182.46,146.4 182.52,152.1 182.58,150.8 182.64,146.2 182.70,142.4 182.76,140.1 182.82,148.2 182.88,152.0 182.94,141.9 183.00,138.7 183.06,131.3 183.12,133.7 183.18,135.7 183.24,140.9 183.30,145.8 183.36,140.3 183.42,131.1 183.48,129.5 183.54,151.3 183.60,146.3 183.66,136.9 183.72,149.1 183.78,148.7 183.84,138.4 183.90,136.0 183.96,135.2 184.02,133.9 184.08,146.6 184.14,142.8 184.20,145.2 184.26,126.4 184.32,123.6 184.38,135.3 184.44,136.4 184.50,131.9 184.56,134.5 184.62,143.2 184.68,135.5 184.74,128.1 184.80,129.6 184.86,128.9 184.92,135.6 184.98,135.6 185.04,138.3 185.10,144.8 185.16,132.1 185.22,118.2 185.28,131.4 185.34,128.7 185.40,134.4 185.46,138.0 185.52,122.1 185.58,137.8 185.64,118.4 185.70,127.8 185.76,111.5 185.82,134.7 185.88,115.6 185.94,117.0 186.00,133.5 186.06,111.6 186.12,120.3 186.18,120.5 186.24,118.4 186.30,115.2 186.36,132.7 186.42,111.5 186.48,122.2 186.54,111.0 186.60,120.4 186.66,112.1 186.72,114.5 186.78,116.9 186.84,109.3 186.90,120.9 186.96,106.5 187.02,121.2 187.08,120.0 187.14,106.6 187.20,115.7 187.26,102.5 187.32,105.1 187.38,103.1 187.44,115.4 187.50,113.4 187.56,112.4 187.62,103.3 187.68,104.7 187.74,114.1 187.80,112.7 187.86,102.5 187.92,97.5 187.98,95.5 188.04,116.4 188.10,103.9 188.16,116.1 188.22,97.9 188.28,110.8 188.34,98.3 188.40,113.4 188.46,99.7 188.52,107.2 188.58,116.7 188.64,110.1 188.70,99.7 188.76,97.0 188.82,101.0 188.88,86.6 188.94,93.4 189.00,95.6 189.06,86.0 189.12,89.3 189.18,93.0 189.24,104.0 189.30,107.7 189.36,85.7 189.42,94.0 189.48,102.9 189.54,101.0 189.60,86.8 189.66,79.7 189.72,86.9 189.78,86.2 189.84,85.0 189.90,86.8 189.96,95.5 190.02,84.2 190.08,85.3 190.14,84.0 190.20,91.0 190.26,82.7 190.32,87.9 190.38,98.1 190.44,96.7 190.50,95.9 190.56,98.1 190.62,95.2 190.68,87.0 190.74,92.7 190.80,82.7 190.86,85.9 190.92,95.3 190.98,88.4 191.04,77.2 191.10,85.3 191.16,84.4 191.22,73.9 191.28,80.1 191.34,71.4 191.40,93.6 191.46,85.7 191.52,78.1 191.58,67.9 191.64,71.2 191.70,71.2 191.76,80.6 191.82,67.6 191.88,75.9 191.94,68.8 192.00,70.3 192.06,66.7 192.12,66.6 192.18,83.2 192.24,66.3 192.30,65.1 192.36,83.1 192.42,82.6 192.48,78.1 192.54,62.6 192.60,62.0 192.66,63.1 192.72,63.1 192.78,72.3 192.84,61.8 192.90,78.6 192.96,70.0 193.02,58.5 193.08,57.3 193.14,68.1 193.20,73.6 193.26,70.6 193.32,59.9 193.38,70.2 193.44,69.5 193.50,69.0 193.56,75.1 193.62,67.8 193.68,52.4 193.74,66.1 193.80,55.4 193.86,70.9 193.92,60.6 193.98,63.7 194.04,54.4 194.10,48.6 194.16,74.4 194.22,49.3 194.28,48.1 194.34,57.9 194.40,72.7 194.46,62.4 194.52,67.6 194.58,62.8 194.64,61.7 194.70,63.4 194.76,69.1 194.82,67.3 194.88,49.0 194.94,60.8 195.00,55.2 195.06,66.4 195.12,56.9 195.18,50.4 195.24,40.7 195.30,58.3 195.36,40.1 195.42,59.1 195.48,42.6 195.54,52.8 195.60,60.5 195.66,42.4 195.72,49.0 195.78,48.4 195.84,41.9 195.90,56.7 195.96,51.4 196.02,55.4 196.08,39.3 196.14,36.7 196.20,46.7 196.26,39.1 196.32,43.3 196.38,40.0 196.44,48.2 196.50,45.2 196.56,44.6 196.62,45.2 196.68,39.3 196.74,52.4 196.80,57.8 196.86,47.5 196.92,52.5 196.98,59.9 197.04,51.7 197.10,60.3 197.16,56.8 197.22,56.9 197.28,43.7 197.34,52.5 197.40,46.3 197.46,69.9 197.52,48.7 197.58,50.8 197.64,49.3 197.70,69.4 197.76,67.7 197.82,64.9 197.88,71.3 197.94,52.6 198.00,71.3 198.06,50.9 198.12,55.0 198.18,74.8 198.24,65.6 198.30,73.2 198.36,72.7 198.42,59.4 198.48,63.8 198.54,76.5 198.60,69.7 198.66,75.5 198.72,56.7 198.78,78.9 198.84,69.7 198.90,60.7 198.96,70.8 199.02,82.7 199.08,75.4 199.14,81.8 199.20,81.6 199.26,73.5 199.32,85.0 199.38,78.9 199.44,65.8 199.50,62.8 199.56,64.0 199.62,77.2 199.68,80.2 199.74,67.2 199.80,66.8 199.86,90.9 199.92,84.3 199.98,72.2 200.04,87.4 200.10,79.0 200.16,74.5 200.22,72.9 200.28,76.1 200.34,83.6 200.40,76.7 200.46,81.5 200.52,86.2 200.58,85.4 200.64,79.6 200.70,80.7 200.76,75.8 200.82,76.3 200.88,89.2 200.94,71.0 201.00,93.2 201.06,91.6 201.12,93.7 201.18,90.9 201.24,96.6 201.30,84.2 201.36,86.6 201.42,82.7 201.48,72.2 201.54,86.4 201.60,90.0 201.66,89.4 201.72,76.8 201.78,81.3 201.84,83.3 201.90,87.2 201.96,81.3 202.02,88.2 202.08,87.9 202.14,82.8 202.20,103.5 202.26,96.2 202.32,106.3 202.38,96.9 202.44,97.9 202.50,89.8 202.56,102.8 202.62,93.3 202.68,102.6 202.74,99.8 202.80,102.1 202.86,100.3 202.92,89.2 202.98,88.8 203.04,93.0 203.10,94.9 203.16,99.7 203.22,95.1 203.28,93.8 203.34,99.5 203.40,103.7 203.46,93.9 203.52,99.9 203.58,108.9 203.64,114.0 203.70,107.0 203.76,115.7 203.82,111.0 203.88,115.8 203.94,96.9 204.00,106.6 204.06,96.4 204.12,110.8 204.18,106.6 204.24,116.1 204.30,99.5 204.36,100.8 204.42,108.3 204.48,101.1 204.54,114.3 204.60,111.5 204.66,101.3 204.72,105.4 204.78,105.8 204.84,102.7 204.90,128.1 204.96,118.2 205.02,119.1 205.08,110.3 205.14,106.6 205.20,112.3 205.26,124.4 205.32,114.5 205.38,107.6 205.44,119.9 205.50,118.0 205.56,120.8 205.62,108.5 205.68,129.0 205.74,115.4 205.80,114.4 205.86,116.2 205.92,126.6 205.98,115.6 206.04,115.6 206.10,130.3 206.16,119.0 206.22,109.6 206.28,113.7 206.34,128.3 206.40,111.8 206.46,115.0 206.52,118.5 206.58,130.8 206.64,120.7 206.70,130.3 206.76,131.6 206.82,127.6 206.88,130.4 206.94,119.0 207.00,133.9 207.06,123.9 207.12,115.7 207.18,118.1 207.24,124.3 207.30,123.2 207.36,137.4 207.42,123.6 207.48,125.2 207.54,114.3 207.60,116.8 207.66,120.0 207.72,122.9 207.78,134.8 207.84,111.7 207.90,131.2 207.96,130.2 208.02,120.6 208.08,136.6 208.14,124.9 208.20,133.6 208.26,121.4 208.32,127.8 208.38,131.1 208.44,134.5 208.50,122.7 208.56,122.0 208.62,130.7 208.68,130.2 208.74,118.1 208.80,126.5 208.86,134.6 208.92,120.6 208.98,130.7 209.04,137.4 209.10,125.0 209.16,135.3 209.22,132.4 209.28,115.9 209.34,120.2 209.40,122.3 209.46,138.2 209.52,127.6 209.58,117.2 209.64,122.3 209.70,124.5 209.76,139.7 209.82,138.8 209.88,137.3 209.94,117.3 210.00,124.4 210.06,123.3 210.12,122.4 210.18,135.6 210.24,124.0 210.30,130.1 210.36,129.3 210.42,122.4 210.48,110.5 210.54,134.2 210.60,127.6 210.66,117.6 210.72,126.1 210.78,113.8 210.84,121.4 210.90,136.1 210.96,120.2 211.02,119.9 211.08,119.3 211.14,126.6 211.20,124.8 211.26,120.7 211.32,134.1 211.38,124.3 211.44,134.3 211.50,119.8 211.56,123.2 211.62,112.4 211.68,113.8 211.74,126.7 211.80,122.1 211.86,116.2 211.92,127.8 211.98,128.3 212.04,123.7 212.10,107.1 212.16,119.1 212.22,126.5 212.28,117.6 212.34,122.5 212.40,131.2 212.46,114.0 212.52,114.2 212.58,126.1 212.64,132.8 212.70,115.4 212.76,109.9 212.82,128.4 212.88,120.8 212.94,115.6 213.00,108.0 213.06,122.3 213.12,109.9 213.18,129.1 213.24,130.5 213.30,125.0 213.36,131.5 213.42,113.9 213.48,107.4 213.54,124.0 213.60,109.2 213.66,122.7 213.72,109.1 213.78,113.8 213.84,122.5 213.90,126.6 213.96,108.5 214.02,118.6 214.08,128.6 214.14,103.8 214.20,114.4 214.26,125.5 214.32,117.1 214.38,124.0 214.44,112.5 214.50,111.1 214.56,103.6 214.62,116.1 214.68,127.0 214.74,125.4 214.80,104.6 214.86,101.4 214.92,99.9 214.98,120.8 215.04,111.3 215.10,106.8 215.16,117.3 215.22,107.0 215.28,104.7 215.34,115.6 215.40,118.1 215.46,104.9 215.52,100.6 215.58,100.0 215.64,118.8 215.70,111.2 215.76,114.0 215.82,100.2 215.88,114.5 215.94,106.3 216.00,111.1 216.06,98.9 216.12,105.6 216.18,112.3 216.24,94.4 216.30,116.5 216.36,115.6 216.42,106.1 216.48,107.3 216.54,95.2 216.60,92.8 216.66,96.6 216.72,92.7 216.78,99.4 216.84,108.0 216.90,91.4 216.96,91.2 217.02,104.5 217.08,108.6 217.14,97.6 217.20,90.7 217.26,110.7 217.32,83.1 217.38,90.9 217.44,103.7 217.50,101.6 217.56,103.5 217.62,95.1 217.68,100.8 217.74,90.3 217.80,100.7 217.86,99.9 217.92,103.0 217.98,102.8 218.04,97.9 218.10,85.7 218.16,92.5 218.22,80.6 218.28,101.7 218.34,95.9 218.40,89.0 218.46,97.9 218.52,98.4 218.58,86.3 218.64,90.8 218.70,79.2 218.76,77.0 218.82,92.1 218.88,77.0 218.94,81.2 219.00,84.8 219.06,91.3 219.12,92.9 219.18,80.2 219.24,88.5 219.30,74.7 219.36,70.8 219.42,73.3 219.48,80.0 219.54,74.9 219.60,94.4 219.66,79.7 219.72,81.7 219.78,81.9 219.84,78.4 219.90,71.4 219.96,69.0 220.02,72.5 220.08,70.9 220.14,69.5 220.20,72.7 220.26,80.5 220.32,81.8 220.38,65.8 220.44,63.3 220.50,55.3 220.56,59.5 220.62,66.6 220.68,58.9 220.74,70.2 220.80,56.1 220.86,71.9 220.92,70.0 220.98,79.7 221.04,71.2 221.10,55.8 221.16,67.1 221.22,59.6 221.28,53.9 221.34,63.8 221.40,77.0 221.46,53.9 221.52,51.4 221.58,55.0 221.64,58.2 221.70,55.2 221.76,66.0 221.82,54.7 221.88,70.3 221.94,50.5 222.00,51.7 222.06,68.6 222.12,49.3 222.18,64.4 222.24,45.4 222.30,47.8 222.36,57.1 222.42,62.2 222.48,59.4 222.54,68.9 222.60,66.0 222.66,41.5 222.72,50.9 222.78,53.9 222.84,46.1 222.90,57.9 222.96,60.2 223.02,58.4 223.08,60.9 223.14,48.0 223.20,54.1 223.26,44.9 223.32,60.9 223.38,63.4 223.44,52.4 223.50,56.2 223.56,61.1 223.62,62.9 223.68,47.6 223.74,65.4 223.80,67.6 223.86,49.4 223.92,52.7 223.98,58.2 224.04,60.1 224.10,58.8 224.16,60.0 224.22,57.2 224.28,56.3 224.34,55.6 224.40,65.3 224.46,70.1 224.52,76.0 224.58,62.3 224.64,55.4 224.70,71.0 224.76,79.0 224.82,77.9 224.88,76.6 224.94,67.2 225.00,58.2 225.06,70.4 225.12,77.7 225.18,81.6 225.24,80.8 225.30,87.4 225.36,66.6 225.42,80.4 225.48,78.1 225.54,81.3 225.60,85.7 225.66,88.8 225.72,81.1 225.78,79.0 225.84,90.3 225.90,95.1 225.96,89.4 226.02,93.2 226.08,92.0 226.14,102.6 226.20,104.5 226.26,92.5 226.32,102.7 226.38,100.0 226.44,89.1 226.50,92.0 226.56,113.2 226.62,109.6 226.68,96.0 226.74,111.0 226.80,116.5 226.86,107.6 226.92,111.4 226.98,114.8 227.04,111.9 227.10,123.8 227.16,112.5 227.22,110.0 227.28,105.6 227.34,119.2 227.40,118.0 227.46,121.1 227.52,114.1 227.58,125.6 227.64,129.4 227.70,121.4 227.76,138.9 227.82,132.0 227.88,133.1 227.94,141.3 228.00,137.9 228.06,137.0 228.12,120.5 228.18,140.6 228.24,130.7 228.30,132.7 228.36,139.2 228.42,132.2 228.48,144.5 228.54,148.6 228.60,131.0 228.66,133.4 228.72,152.1 228.78,133.4 228.84,156.1 228.90,152.5 228.96,151.3 229.02,136.0 229.08,162.7 229.14,146.3 229.20,158.5 229.26,148.6 229.32,143.9 229.38,145.8 229.44,143.2 229.50,144.9 229.56,144.2 229.62,142.8 229.68,158.3 229.74,162.9 229.80,153.8 229.86,160.7 229.92,163.2 229.98,146.7 230.04,153.1 230.10,156.6 230.16,151.4 230.22,160.7 230.28,157.8 230.34,149.2 230.40,171.3 230.46,149.1 230.52,146.8 230.58,163.2 230.64,156.1 230.70,160.7 230.76,149.8 230.82,150.7 230.88,155.2 230.94,157.5 231.00,162.2 231.06,155.7 231.12,156.5 231.18,171.0 231.24,153.0 231.30,161.9 231.36,155.6 231.42,166.4 231.48,164.1 231.54,162.0 231.60,161.7 231.66,159.9 231.72,173.2 231.78,161.5 231.84,164.9 231.90,156.2 231.96,163.1 232.02,169.3 232.08,161.9 232.14,170.0 232.20,169.9 232.26,157.0 232.32,164.9 232.38,153.9 232.44,156.9 232.50,168.1 232.56,161.6 232.62,155.2 232.68,165.8 232.74,170.1 232.80,163.6 232.86,160.8 232.92,157.9 232.98,158.7 233.04,155.9 233.10,167.2 233.16,158.7 233.22,165.7 233.28,176.5 233.34,170.0 233.40,172.0 233.46,179.8 233.52,171.0 233.58,169.7 233.64,160.2 233.70,172.2 233.76,160.5 233.82,164.7 233.88,164.7 233.94,178.9 234.00,176.9 234.06,166.9 234.12,167.6 234.18,168.6 234.24,162.3 234.30,160.8 234.36,173.7 234.42,171.4 234.48,173.0 234.54,179.3 234.60,163.7 234.66,179.4 234.72,164.9 234.78,183.3 234.84,165.5 234.90,169.3 234.96,174.2 235.02,169.3 235.08,168.2 235.14,169.5 235.20,169.5 235.26,181.3 235.32,168.6 235.38,176.4 235.44,181.2 235.50,166.5 235.56,169.5 235.62,183.6 235.68,175.9 235.74,165.1 235.80,173.5 235.86,174.7 235.92,182.1 235.98,182.4 236.04,173.6 236.10,186.8 236.16,167.0 236.22,185.1 236.28,172.2 236.34,177.4 236.40,174.1 236.46,182.9 236.52,177.8 236.58,174.7 236.64,182.3 236.70,179.9 236.76,175.8 236.82,182.9 236.88,177.0 236.94,178.6 237.00,183.7 237.06,184.8 237.12,184.4 237.18,182.2 237.24,171.0 237.30,181.0 237.36,182.1 237.42,175.9 237.48,186.7 237.54,183.1 237.60,173.5 237.66,174.2 237.72,173.0 237.78,174.9 237.84,180.9 237.90,175.1 237.96,179.5 238.02,178.1 238.08,183.0 238.14,184.8 238.20,183.0 238.26,185.2 238.32,183.1 238.38,185.6 238.44,182.2 238.50,177.8 238.56,175.5 238.62,181.9 238.68,188.9 238.74,185.3 238.80,184.8 238.86,185.9 238.92,176.1 238.98,187.2 239.04,175.1 239.10,183.3 239.16,181.3 239.22,177.4 239.28,182.7 239.34,174.1 239.40,174.5 239.46,185.9 239.52,189.1 239.58,181.9 239.64,186.1 239.70,189.2 239.76,185.8 239.82,179.4 239.88,187.6 239.94,180.0 240.00,177.0 240.06,185.2 240.12,187.0 240.18,178.7 240.24,179.5 240.30,174.4 240.36,174.8 240.42,179.8 240.48,179.4 240.54,176.0 240.60,186.4 240.66,189.8 240.72,178.6 240.78,179.5 240.84,175.3 240.90,182.4 240.96,176.7 241.02,183.6 241.08,186.6 241.14,186.3 241.20,176.5 241.26,187.4 241.32,188.9 241.38,180.6 241.44,190.1 241.50,182.1 241.56,176.5 241.62,178.0 241.68,191.3 241.74,193.0 241.80,189.4 241.86,178.2 241.92,178.3 241.98,188.4 242.04,186.9 242.10,185.0 242.16,175.0 242.22,176.4 242.28,185.1 242.34,176.5 242.40,186.7 242.46,190.0 242.52,189.0 242.58,190.2 242.64,175.9 242.70,177.2 242.76,191.1 242.82,183.7 242.88,179.1 242.94,176.5 243.00,178.6 243.06,189.3 243.12,181.2 243.18,186.7 243.24,191.3 243.30,181.7 243.36,191.5 243.42,189.0 243.48,178.1 243.54,175.3 243.60,188.4 243.66,189.1 243.72,187.7 243.78,186.3 243.84,193.0 243.90,181.7 243.96,189.8 244.02,187.2 244.08,182.8 244.14,181.2 244.20,177.6 244.26,190.3 244.32,189.9 244.38,189.1 244.44,178.7 244.50,188.3 244.56,179.7 244.62,187.7 244.68,181.1 244.74,183.0 244.80,186.9 244.86,188.8 244.92,189.7 244.98,191.0 245.04,187.4 245.10,177.8 245.16,182.0 245.22,188.1 245.28,188.8 245.34,175.5 245.40,182.7 245.46,190.6 245.52,192.4 245.58,190.6 245.64,180.3 245.70,182.2 245.76,191.6 245.82,188.1 245.88,190.3 245.94,186.2 246.00,187.2 246.06,180.5 246.12,188.2 246.18,180.6 246.24,186.8 246.30,187.5 246.36,180.7 246.42,179.0 246.48,177.9 246.54,179.8 246.60,191.3 246.66,180.8 246.72,184.8 246.78,179.4 246.84,191.0 246.90,193.1 246.96,184.1 247.02,191.4 247.08,191.3 247.14,187.1 247.20,178.2 247.26,187.8 247.32,178.2 247.38,190.4 247.44,189.1 247.50,179.9 247.56,182.1 247.62,189.8 247.68,179.6 247.74,191.8 247.80,183.9 247.86,187.3 247.92,184.2 247.98,187.7 248.04,188.8 248.10,190.0 248.16,180.9 248.22,183.5 248.28,178.7 248.34,190.8 248.40,177.4 248.46,181.1 248.52,177.9 248.58,187.6 248.64,192.0 248.70,184.4 248.76,177.6 248.82,181.8 248.88,187.7 248.94,177.0 249.00,184.8 249.06,183.1 249.12,176.8 249.18,188.0 249.24,179.9 249.30,179.4 249.36,186.2 249.42,184.2 249.48,180.3 249.54,178.5 249.60,191.0 249.66,184.0 249.72,182.2 249.78,183.5 249.84,180.9 249.90,187.8 249.96,192.1 250.02,180.3 250.08,191.1 250.14,180.6 250.20,184.9 250.26,191.3 250.32,185.4 250.38,178.6 250.44,185.0 250.50,191.5 250.56,178.4 250.62,179.9 250.68,182.7 250.74,182.2 250.80,191.4 250.86,178.3 250.92,180.0 250.98,186.5 251.04,177.9 251.10,186.4 251.16,185.6 251.22,186.3 251.28,182.4 251.34,184.7 251.40,181.7 251.46,183.1 251.52,182.1 251.58,181.7 251.64,180.4 251.70,184.9 251.76,185.1 251.82,184.9 251.88,185.7 251.94,191.4 252.00,190.1 252.06,175.5 252.12,181.9 252.18,185.0 252.24,178.9 252.30,183.4 252.36,184.1 252.42,179.4 252.48,184.5 252.54,179.0 252.60,185.2 252.66,180.3 252.72,178.6 252.78,179.0 252.84,183.2 252.90,176.2 252.96,182.2 253.02,178.1 253.08,187.5 253.14,185.0 253.20,180.5 253.26,183.0 253.32,185.0 253.38,179.3 253.44,188.0 253.50,185.4 253.56,190.0 253.62,188.1 253.68,176.6 253.74,183.8 253.80,187.5 253.86,186.6 253.92,182.8 253.98,179.9 254.04,188.3 254.10,180.9 254.16,188.6 254.22,182.2 254.28,184.5 254.34,189.4 254.40,187.0 254.46,190.0 254.52,178.7 254.58,183.9 254.64,185.7 254.70,178.7 254.76,186.8 254.82,186.5 254.88,183.3 254.94,188.1 255.00,177.3 255.06,189.9 255.12,175.3 255.18,188.6 255.24,180.5 255.30,178.0 255.36,186.7 255.42,184.6 255.48,186.9 255.54,188.2 255.60,183.8 255.66,184.6 255.72,186.8 255.78,183.5 255.84,187.6 255.90,188.0 255.96,178.4 256.02,187.7 256.08,180.6 256.14,180.9 256.20,186.3 256.26,182.7 256.32,187.2 256.38,181.4 256.44,189.7 256.50,179.8 256.56,177.0 256.62,177.5 256.68,186.9 256.74,188.3 256.80,181.4 256.86,179.9 256.92,192.0 256.98,187.4 257.04,182.5 257.10,178.2 257.16,180.0 257.22,176.7 257.28,187.4 257.34,180.2 257.40,187.6 257.46,183.4 257.52,185.1 257.58,182.7 257.64,177.9 257.70,176.1 257.76,190.8 257.82,189.3 257.88,179.3 257.94,180.6 258.00,184.9 258.06,189.3 258.12,181.1 258.18,185.1 258.24,175.2 258.30,178.0 258.36,188.6 258.42,184.5 258.48,178.2 258.54,187.9 258.60,182.6 258.66,191.3 258.72,190.2 258.78,192.1 258.84,178.0 258.90,187.4 258.96,192.0 259.02,184.7 259.08,177.8 259.14,180.2 259.20,186.6 259.26,181.8 259.32,180.1 259.38,185.8 259.44,189.1 259.50,184.6 259.56,180.8 259.62,179.0 259.68,180.9 259.74,181.0 259.80,186.4 259.86,189.9 259.92,178.4 259.98,188.1 260.04,189.4 260.10,183.8 260.16,189.2 260.22,194.0 260.28,180.2 260.34,185.1 260.40,192.2 260.46,179.6 260.52,178.3 260.58,186.9 260.64,185.5 260.70,189.7 260.76,186.9 260.82,190.1 260.88,183.6 260.94,185.8 261.00,188.8 261.06,181.7 261.12,183.0 261.18,188.5 261.24,176.9 261.30,184.3 261.36,178.7 261.42,183.2 261.48,177.3 261.54,176.0 261.60,185.5 261.66,181.1 261.72,187.2 261.78,185.5 261.84,186.2 261.90,189.8 261.96,178.4 262.02,190.6 262.08,177.1 262.14,177.5 262.20,192.4 262.26,179.9 262.32,183.8 262.38,184.1 262.44,181.2 262.50,186.6 262.56,189.6 262.62,183.5 262.68,186.3 262.74,191.5 262.80,184.3 262.86,182.4 262.92,183.6 262.98,187.6 263.04,186.8 263.10,191.1 263.16,182.1 263.22,191.5 263.28,182.5 263.34,178.3 263.40,186.4 263.46,189.6 263.52,182.2 263.58,191.7 263.64,189.5 263.70,183.0 263.76,185.9 263.82,181.6 263.88,184.6 263.94,184.7 264.00,180.0 264.06,183.5 264.12,183.1 264.18,177.8 264.24,190.2 264.30,180.6 264.36,182.1 264.42,191.6 264.48,181.9 264.54,185.1 264.60,188.5 264.66,181.8 264.72,190.1 264.78,181.9 264.84,182.6 264.90,183.3 264.96,183.1 265.02,191.5 265.08,185.9 265.14,178.6 265.20,178.1 265.26,187.4 265.32,192.1 265.38,193.4 265.44,179.0 265.50,180.5 265.56,190.4 265.62,190.0 265.68,189.3 265.74,179.7 265.80,188.2 265.86,189.3 265.92,189.9 265.98,181.8 266.04,187.6 266.10,180.4 266.16,189.4 266.22,177.0 266.28,190.5 266.34,188.7 266.40,181.5 266.46,179.1 266.52,183.7 266.58,189.7 266.64,190.4 266.70,191.8 266.76,185.4 266.82,182.4 266.88,179.3 266.94,189.0 267.00,185.3 267.06,182.5 267.12,189.7 267.18,183.5 267.24,189.1 267.30,177.0 267.36,181.4 267.42,179.0 267.48,185.6 267.54,184.1 267.60,187.5 267.66,186.5 267.72,181.2 267.78,185.9 267.84,187.6 267.90,179.4 267.96,183.4 268.02,185.6 268.08,185.8 268.14,183.2 268.20,178.3 268.26,190.7 268.32,186.4 268.38,187.5 268.44,191.3 268.50,177.7 268.56,177.1 268.62,187.5 268.68,180.2 268.74,178.6 268.80,191.5 268.86,178.2 268.92,191.4 268.98,192.2 269.04,182.4 269.10,186.0 269.16,179.5 269.22,191.7 269.28,191.6 269.34,181.5 269.40,179.0 269.46,188.5 269.52,192.6 269.58,180.2 269.64,191.6 269.70,191.2 269.76,183.1 269.82,180.8 269.88,180.3 269.94,182.0 270.00,181.9 270.06,180.2 270.12,181.6 270.18,187.2 270.24,186.7 270.30,194.0 270.36,180.2 270.42,190.3 270.48,181.4 270.54,179.8 270.60,191.2 270.66,186.7 270.72,187.8 270.78,190.4 270.84,187.9 270.90,189.4 270.96,181.4 271.02,183.6 271.08,186.3 271.14,183.5 271.20,181.1 271.26,189.9 271.32,189.8 271.38,191.2 271.44,186.8 271.50,185.4 271.56,183.2 271.62,183.7 271.68,190.5 271.74,186.6 271.80,177.9 271.86,185.3 271.92,191.1 271.98,189.5 272.04,182.7 272.10,191.4 272.16,192.5 272.22,187.0 272.28,190.0 272.34,178.9 272.40,191.8 272.46,188.4 272.52,184.1 272.58,188.5 272.64,186.9 272.70,188.8 272.76,182.3 272.82,186.4 272.88,179.7 272.94,190.8 273.00,188.4 273.06,190.8 273.12,187.5 273.18,187.8 273.24,191.1 273.30,193.0 273.36,183.4 273.42,182.2 273.48,188.3 273.54,183.8 273.60,191.6 273.66,185.3 273.72,177.4 273.78,178.1 273.84,188.4 273.90,182.6 273.96,182.3 274.02,188.6 274.08,180.7 274.14,182.7 274.20,182.8 274.26,190.6 274.32,188.2 274.38,190.2 274.44,181.2 274.50,193.8 274.56,186.4 274.62,183.3 274.68,192.1 274.74,179.1 274.80,191.4 274.86,179.9 274.92,179.4 274.98,185.8 275.04,182.7 275.10,187.8 275.16,187.1 275.22,179.2 275.28,184.1 275.34,177.0 275.40,190.2 275.46,177.7 275.52,182.1 275.58,188.6 275.64,186.4 275.70,185.0 275.76,189.2 275.82,188.6 275.88,182.9 275.94,180.9 276.00,186.8 276.06,185.8 276.12,185.6 276.18,192.9 276.24,185.4 276.30,181.3 276.36,183.9 276.42,191.5 276.48,181.1 276.54,183.4 276.60,190.9 276.66,185.5 276.72,188.1 276.78,192.7 276.84,191.8 276.90,178.3 276.96,184.5 277.02,187.2 277.08,179.5 277.14,180.2 277.20,189.2 277.26,188.7 277.32,191.7 277.38,177.8 277.44,176.5 277.50,192.0 277.56,189.9 277.62,178.1 277.68,187.6 277.74,186.8 277.80,186.5 277.86,190.3 277.92,188.6 277.98,186.7 278.04,185.3 278.10,179.6 278.16,196.2 278.22,185.3 278.28,182.5 278.34,188.5 278.40,188.3 278.46,188.1 278.52,190.1 278.58,185.4 278.64,182.5 278.70,179.4 278.76,180.0 278.82,184.8 278.88,183.4 278.94,181.0 279.00,191.1 279.06,185.5 279.12,189.2 279.18,192.7 279.24,177.7 279.30,193.8 279.36,187.4 279.42,181.0 279.48,185.0 279.54,181.4 279.60,184.4 279.66,187.2 279.72,181.0 279.78,184.3 279.84,182.1 279.90,191.0 279.96,181.3 280.02,187.9 280.08,178.0 280.14,184.3 280.20,183.4 280.26,183.3 280.32,185.8 280.38,191.0 280.44,185.7 280.50,191.1 280.56,187.9 280.62,181.2 280.68,182.6 280.74,177.9 280.80,190.5 280.86,179.8 280.92,190.9 280.98,187.0 281.04,183.1 281.10,184.7 281.16,184.4 281.22,186.3 281.28,187.3 281.34,183.4 281.40,191.3 281.46,186.6 281.52,193.5 281.58,178.2 281.64,193.1 281.70,186.7 281.76,188.6 281.82,191.8 281.88,177.7 281.94,181.5 282.00,188.8 282.06,182.6 282.12,178.1 282.18,181.5 282.24,188.1 282.30,189.2 282.36,176.6 282.42,183.2 282.48,189.4 282.54,188.3 282.60,188.4 282.66,192.1 282.72,181.4 282.78,178.8 282.84,188.1 282.90,186.9 282.96,185.6 283.02,191.6 283.08,189.1 283.14,179.2 283.20,187.8 283.26,177.5 283.32,188.1 283.38,186.5 283.44,176.7 283.50,178.9 283.56,184.1 283.62,182.4 283.68,180.7 283.74,187.0 283.80,193.6 283.86,179.8 283.92,189.4 283.98,183.0 284.04,183.4 284.10,189.9 284.16,191.8 284.22,193.0 284.28,192.3 284.34,181.3 284.40,176.3 284.46,188.3 284.52,188.3 284.58,182.2 284.64,187.0 284.70,187.5 284.76,184.7 284.82,177.9 284.88,182.6 284.94,181.6 285.00,176.0 285.06,181.8 285.12,180.5 285.18,187.0 285.24,188.2 285.30,189.0 285.36,182.3 285.42,187.1 285.48,178.8 285.54,190.1 285.60,192.3 285.66,188.4 285.72,187.3 285.78,187.1 285.84,188.6 285.90,184.5 285.96,182.6 286.02,189.3 286.08,187.4 286.14,191.4 286.20,183.5 286.26,186.7 286.32,178.0 286.38,179.2 286.44,188.5 286.50,184.0 286.56,191.1 286.62,188.9 286.68,180.0 286.74,180.8 286.80,180.8 286.86,179.5 286.92,185.8 286.98,179.6 287.04,187.1 287.10,184.1 287.16,188.9 287.22,191.0 287.28,182.2 287.34,179.0 287.40,183.9 287.46,186.8 287.52,189.4 287.58,191.9 287.64,190.6 287.70,183.4 287.76,185.4 287.82,187.1 287.88,189.2 287.94,179.0 288.00,189.9 288.06,180.4 288.12,180.3 288.18,192.6 288.24,183.9 288.30,189.2 288.36,182.1 288.42,181.0 288.48,186.8 288.54,180.3 288.60,182.4 288.66,178.9 288.72,187.9 288.78,191.4 288.84,178.4 288.90,181.8 288.96,189.9 289.02,187.7 289.08,179.7 289.14,181.9 289.20,180.3 289.26,178.2 289.32,178.6 289.38,178.4 289.44,184.3 289.50,187.6 289.56,185.6 289.62,187.4 289.68,192.0 289.74,189.8 289.80,177.6 289.86,177.9 289.92,191.9 289.98,178.4 290.04,189.9 290.10,179.8 290.16,190.1 290.22,185.5 290.28,177.3 290.34,193.2 290.40,178.0 290.46,177.8 290.52,189.1 290.58,183.5 290.64,177.1 290.70,175.9 290.76,185.3 290.82,176.9 290.88,182.8 290.94,186.9 291.00,191.5 291.06,182.2 291.12,183.4 291.18,188.6 291.24,189.0 291.30,185.6 291.36,188.8 291.42,185.7 291.48,188.7 291.54,185.9 291.60,184.6 291.66,190.7 291.72,181.6 291.78,181.4 291.84,183.2 291.90,177.1 291.96,185.2 292.02,176.7 292.08,189.0 292.14,181.7 292.20,189.5 292.26,180.8 292.32,186.8 292.38,185.7 292.44,184.2 292.50,192.1 292.56,178.1 292.62,191.9 292.68,179.9 292.74,180.4 292.80,185.9 292.86,184.7 292.92,181.3 292.98,185.1 293.04,190.9 293.10,176.9 293.16,184.7 293.22,179.2 293.28,188.0 293.34,187.8 293.40,178.7 293.46,189.5 293.52,182.6 293.58,188.6 293.64,178.2 293.70,184.5 293.76,187.0 293.82,183.4 293.88,186.8 293.94,189.3 294.00,190.4 294.06,185.9 294.12,180.8 294.18,188.4 294.24,183.1 294.30,189.2 294.36,186.5 294.42,190.5 294.48,184.2 294.54,181.0 294.60,181.6 294.66,184.4 294.72,185.4 294.78,179.7 294.84,191.2 294.90,185.8 294.96,185.0 295.02,179.3 295.08,183.6 295.14,181.3 295.20,181.0 295.26,181.1 295.32,185.4 295.38,183.2 295.44,189.8 295.50,188.2 295.56,189.3 295.62,186.1 295.68,183.8 295.74,181.3 295.80,175.2 295.86,188.7 295.92,182.0 295.98,175.1 296.04,190.1 296.10,180.2 296.16,179.0 296.22,188.9 296.28,189.2 296.34,189.8 296.40,185.5 296.46,176.8 296.52,184.0 296.58,191.9 296.64,185.9 296.70,181.1 296.76,184.3 296.82,184.2 296.88,182.1 296.94,189.3 297.00,190.8 297.06,174.7 297.12,178.3 297.18,182.1 297.24,174.6 297.30,178.6 297.36,189.0 297.42,190.9 297.48,188.9 297.54,178.6 297.60,190.1 297.66,184.1 297.72,190.1 297.78,179.0 297.84,189.7 297.90,174.1 297.96,180.2 298.02,188.7 298.08,183.0 298.14,178.0 298.20,186.7 298.26,179.7 298.32,184.7 298.38,183.0 298.44,178.3 298.50,178.2 298.56,189.3 298.62,189.7 298.68,181.5 298.74,179.9 298.80,177.8 298.86,190.3 298.92,185.2 298.98,177.2 299.04,183.8 299.10,187.9 299.16,180.0 299.22,191.5 299.28,176.1 299.34,177.6 299.40,186.9 299.46,183.8 299.52,179.8 299.58,188.3 299.64,188.0 299.70,187.9 299.76,186.2 299.82,180.0 299.88,180.8 299.94,178.6 300.00,189.3 300.06,186.0 300.12,184.0 300.18,177.1 300.24,187.8 300.30,179.6 300.36,181.9 300.42,189.4 300.48,182.9 300.54,182.9 300.60,189.1 300.66,180.9 300.72,183.3 300.78,181.4 300.84,181.7 300.90,183.8 300.96,189.8 301.02,188.3 301.08,175.9 301.14,182.7 301.20,175.4 301.26,175.4 301.32,184.9 301.38,185.8 301.44,179.8 301.50,180.6 301.56,182.3 301.62,184.1 301.68,180.3 301.74,183.0 301.80,187.6 301.86,186.0 301.92,176.1 301.98,181.5 302.04,179.6 302.10,178.6 302.16,185.8 302.22,188.5 302.28,181.6 302.34,186.0 302.40,176.5 302.46,187.6 302.52,176.0 302.58,181.9 302.64,177.6 302.70,182.1 302.76,178.8 302.82,182.3 302.88,180.3 302.94,185.2 303.00,184.1 303.06,185.0 303.12,186.7 303.18,188.8 303.24,182.0 303.30,174.9 303.36,187.0 303.42,180.4 303.48,187.4 303.54,189.5 303.60,172.7 303.66,178.7 303.72,188.4 303.78,182.3 303.84,180.5 303.90,181.1 303.96,189.3 304.02,177.1 304.08,177.9 304.14,186.1 304.20,186.5 304.26,173.3 304.32,184.0 304.38,188.5 304.44,187.8 304.50,174.4 304.56,177.1 304.62,179.6 304.68,181.7 304.74,174.7 304.80,182.8 304.86,178.2 304.92,175.0 304.98,181.1 305.04,189.6 305.10,178.0 305.16,178.2 305.22,182.8 305.28,191.7 305.34,181.6 305.40,177.8 305.46,182.3 305.52,179.0 305.58,176.7 305.64,183.2 305.70,180.7 305.76,189.8 305.82,179.6 305.88,174.1 305.94,179.3 306.00,182.6 306.06,178.2 306.12,181.2 306.18,183.4 306.24,187.2 306.30,182.8 306.36,181.5 306.42,174.5 306.48,186.4 306.54,177.7 306.60,188.2 306.66,188.6 306.72,188.0 306.78,178.6 306.84,179.1 306.90,180.2 306.96,185.6 307.02,182.3 307.08,179.7 307.14,182.1 307.20,183.2 307.26,185.0 307.32,188.8 307.38,187.5 307.44,191.2 307.50,182.7 307.56,178.1 307.62,185.6 307.68,190.1 307.74,184.2 307.80,182.9 307.86,175.1 307.92,185.3 307.98,186.3 308.04,182.2 308.10,190.2 308.16,181.8 308.22,177.9 308.28,188.6 308.34,185.5 308.40,190.5 308.46,184.0 308.52,187.2 308.58,178.1 308.64,182.1 308.70,182.8 308.76,185.7 308.82,189.0 308.88,181.7 308.94,173.7 309.00,179.6 309.06,182.7 309.12,186.0 309.18,182.6 309.24,176.3 309.30,181.9 309.36,186.1 309.42,179.6 309.48,186.1 309.54,183.3 309.60,173.9 309.66,187.4 309.72,172.4 309.78,175.0 309.84,183.6 309.90,187.2 309.96,175.0 310.02,185.9 310.08,183.9 310.14,174.5 310.20,180.3 310.26,187.2 310.32,180.6 310.38,186.5 310.44,176.1 310.50,188.6 310.56,183.4 310.62,172.3 310.68,175.2 310.74,184.1 310.80,186.2 310.86,176.6 310.92,175.9 310.98,188.4 311.04,186.7 311.10,189.6 311.16,176.1 311.22,181.1 311.28,173.9 311.34,184.1 311.40,179.6 311.46,175.2 311.52,174.4 311.58,187.4 311.64,188.5 311.70,189.0 311.76,185.6 311.82,180.5 311.88,180.4 311.94,181.8 312.00,183.3 312.06,173.1 312.12,180.2 312.18,178.4 312.24,185.2 312.30,171.6 312.36,183.6 312.42,172.3 312.48,183.1 312.54,175.2 312.60,190.3 312.66,174.2 312.72,177.2 312.78,176.6 312.84,175.7 312.90,183.3 312.96,173.6 313.02,180.0 313.08,180.4 313.14,171.8 313.20,188.3 313.26,178.9 313.32,173.1 313.38,179.7 313.44,176.6 313.50,172.5 313.56,186.3 313.62,184.7 313.68,182.0 313.74,179.5 313.80,183.5 313.86,172.3 313.92,174.0 313.98,180.2 314.04,172.3 314.10,181.6 314.16,180.4 314.22,184.3 314.28,187.9 314.34,172.3 314.40,184.4 314.46,170.9 314.52,180.7 314.58,178.5 314.64,179.0 314.70,182.3 314.76,170.7 314.82,179.8 314.88,186.2 314.94,184.1 315.00,178.7 315.06,182.6 315.12,171.7 315.18,173.6 315.24,188.3 315.30,169.5 315.36,185.4 315.42,174.7 315.48,177.7 315.54,174.8 315.60,172.9 315.66,186.1 315.72,180.1 315.78,186.6 315.84,181.9 315.90,182.3 315.96,172.8 316.02,169.8 316.08,171.7 316.14,186.0 316.20,171.0 316.26,173.1 316.32,171.3 316.38,170.9 316.44,174.5 316.50,180.4 316.56,186.2 316.62,169.8 316.68,168.9 316.74,186.7 316.80,171.8 316.86,180.4 316.92,185.3 316.98,178.6 317.04,187.1 317.10,173.3 317.16,172.2 317.22,182.2 317.28,180.7 317.34,174.2 317.40,171.1 317.46,173.9 317.52,179.1 317.58,179.3 317.64,176.6 317.70,175.7 317.76,176.0 317.82,169.5 317.88,179.3 317.94,179.0 318.00,183.9 318.06,184.1 318.12,176.9 318.18,183.3 318.24,180.0 318.30,186.2 318.36,173.0 318.42,175.0 318.48,175.3 318.54,171.3 318.60,179.3 318.66,176.4 318.72,181.8 318.78,183.8 318.84,169.8 318.90,185.1 318.96,182.7 319.02,181.7 319.08,173.1 319.14,171.0 319.20,182.4 319.26,171.2 319.32,171.6 319.38,179.7 319.44,174.6 319.50,177.7 319.56,179.3 319.62,175.0 319.68,185.3 319.74,169.1 319.80,181.7 319.86,172.7 319.92,184.6 319.98,172.1 320.04,172.9 320.10,174.3 320.16,172.0 320.22,173.2 320.28,174.3 320.34,182.2 320.40,180.7 320.46,183.9 320.52,178.3 320.58,174.0 320.64,171.0 320.70,184.2 320.76,178.1 320.82,173.2 320.88,172.0 320.94,178.6 321.00,177.2 321.06,167.8 321.12,175.7 321.18,178.7 321.24,182.2 321.30,170.7 321.36,173.8 321.42,173.5 321.48,173.5 321.54,182.1 321.60,179.5 321.66,171.7 321.72,175.8 321.78,178.4 321.84,171.8 321.90,179.9 321.96,182.3 322.02,171.7 322.08,174.1 322.14,169.7 322.20,174.0 322.26,180.8 322.32,181.1 322.38,182.3 322.44,175.9 322.50,166.5 322.56,168.7 322.62,177.0 322.68,169.3 322.74,180.9 322.80,170.6 322.86,175.0 322.92,174.9 322.98,173.4 323.04,182.2 323.10,168.3 323.16,182.9 323.22,167.3 323.28,166.9 323.34,169.7 323.40,181.0 323.46,182.3 323.52,170.3 323.58,177.9 323.64,177.3 323.70,172.0 323.76,181.6 323.82,175.6 323.88,168.7 323.94,170.7 324.00,179.8 324.06,166.5 324.12,182.5 324.18,181.9 324.24,175.6 324.30,166.2 324.36,179.5 324.42,171.5 324.48,167.8 324.54,172.1 324.60,172.7 324.66,167.9 324.72,181.8 324.78,171.7 324.84,179.6 324.90,180.1 324.96,173.1 325.02,175.5 325.08,174.8 325.14,173.5 325.20,170.0 325.26,180.7 325.32,174.7 325.38,175.9 325.44,174.6 325.50,174.4 325.56,179.9 325.62,181.8 325.68,182.0 325.74,165.8 325.80,173.6 325.86,180.1 325.92,176.9 325.98,181.6 326.04,170.1 326.10,178.5 326.16,171.0 326.22,175.0 326.28,170.5 326.34,179.6 326.40,167.7 326.46,179.4 326.52,177.9 326.58,169.7 326.64,183.0 326.70,166.9 326.76,172.9 326.82,180.6 326.88,171.0 326.94,177.1 327.00,174.5 327.06,164.4 327.12,172.7 327.18,184.9 327.24,167.5 327.30,167.0 327.36,166.6 327.42,173.6 327.48,172.9 327.54,166.6 327.60,168.1 327.66,166.4 327.72,177.7 327.78,169.3 327.84,180.0 327.90,173.8 327.96,172.4 328.02,181.1 328.08,179.5 328.14,170.0 328.20,177.5 328.26,174.0 328.32,178.9 328.38,182.9 328.44,178.8 328.50,166.7 328.56,173.2 328.62,166.4 328.68,172.5 328.74,178.6 328.80,178.8 328.86,170.2 328.92,171.2 328.98,179.2 329.04,181.4 329.10,180.0 329.16,178.1 329.22,173.5 329.28,167.5 329.34,179.8 329.40,176.3 329.46,163.2 329.52,173.3 329.58,182.9 329.64,169.1 329.70,182.1 329.76,179.2 329.82,173.1 329.88,167.2 329.94,173.1 330.00,181.9 330.06,164.6 330.12,171.1 330.18,170.3 330.24,179.4 330.30,165.6 330.36,168.8 330.42,182.6 330.48,177.1 330.54,167.8 330.60,175.8 330.66,182.0 330.72,181.5 330.78,181.6 330.84,175.7 330.90,166.8 330.96,172.9 331.02,166.2 331.08,174.0 331.14,166.4 331.20,176.6 331.26,164.7 331.32,166.2 331.38,180.2 331.44,165.0 331.50,165.7 331.56,168.0 331.62,170.6 331.68,176.5 331.74,167.7 331.80,168.1 331.86,177.7 331.92,175.8 331.98,179.7 332.04,165.5 332.10,180.5 332.16,168.2 332.22,180.6 332.28,182.6 332.34,171.3 332.40,170.1 332.46,172.3 332.52,180.2 332.58,172.0 332.64,177.8 332.70,169.2 332.76,177.9 332.82,176.5 332.88,174.2 332.94,176.1 333.00,169.9 333.06,168.3 333.12,172.2 333.18,174.1 333.24,173.0 333.30,161.8 333.36,165.9 333.42,175.8 333.48,176.9 333.54,165.2 333.60,178.2 333.66,180.0 333.72,179.8 333.78,172.7 333.84,164.5 333.90,177.8 333.96,171.6 334.02,177.9 334.08,171.1 334.14,166.0 334.20,164.3 334.26,161.6 334.32,178.5 334.38,179.7 334.44,163.9 334.50,174.0 334.56,166.4 334.62,180.1 334.68,178.8 334.74,170.1 334.80,169.4 334.86,178.0 334.92,167.8 334.98,177.2 335.04,181.4 335.10,166.7 335.16,168.9 335.22,176.6 335.28,165.4 335.34,175.6 335.40,170.9 335.46,179.0 335.52,178.3 335.58,179.2 335.64,174.1 335.70,174.6 335.76,167.3 335.82,174.9 335.88,163.5 335.94,165.8 336.00,175.0 336.06,179.9 336.12,163.3 336.18,167.4 336.24,165.3 336.30,158.0 336.36,167.8 336.42,169.7 336.48,160.7 336.54,161.5 336.60,173.3 336.66,177.2 336.72,162.4 336.78,173.2 336.84,167.6 336.90,167.3 336.96,180.8 337.02,167.0 337.08,162.6 337.14,176.3 337.20,163.4 337.26,173.8 337.32,171.5 337.38,162.2 337.44,175.7 337.50,175.0 337.56,161.3 337.62,173.7 337.68,165.2 337.74,167.8 337.80,172.8 337.86,159.5 337.92,174.2 337.98,171.4 338.04,174.7 338.10,172.9 338.16,175.3 338.22,177.0 338.28,165.7 338.34,170.9 338.40,171.6 338.46,176.2 338.52,175.0 338.58,164.6 338.64,168.4 338.70,170.4 338.76,162.5 338.82,174.9 338.88,169.8 338.94,161.7 339.00,164.4 339.06,161.8 339.12,167.4 339.18,158.2 339.24,173.7 339.30,175.2 339.36,166.0 339.42,169.6 339.48,164.2 339.54,159.3 339.60,165.5 339.66,173.1 339.72,168.3 339.78,168.0 339.84,168.6 339.90,174.1 339.96,175.6 340.02,157.0 340.08,163.0 340.14,173.0 340.20,171.8 340.26,166.6 340.32,160.2 340.38,165.8 340.44,168.1 340.50,168.5 340.56,167.3 340.62,169.1 340.68,172.0 340.74,169.1 340.80,162.4 340.86,162.7 340.92,167.6 340.98,175.8 341.04,177.6 341.10,159.0 341.16,172.8 341.22,164.3 341.28,162.9 341.34,166.7 341.40,175.6 341.46,162.0 341.52,159.3 341.58,165.5 341.64,161.8 341.70,178.2 341.76,168.5 341.82,175.9 341.88,167.5 341.94,168.0 342.00,170.8 342.06,158.1 342.12,170.3 342.18,169.7 342.24,160.0 342.30,170.4 342.36,163.9 342.42,154.3 342.48,170.0 342.54,168.0 342.60,167.8 342.66,161.4 342.72,157.2 342.78,162.6 342.84,163.1 342.90,162.1 342.96,165.3 343.02,164.4 343.08,175.5 343.14,163.8 343.20,175.4 343.26,158.2 343.32,173.6 343.38,172.6 343.44,169.6 343.50,164.7 343.56,173.9 343.62,167.6 343.68,163.0 343.74,174.1 343.80,176.1 343.86,169.5 343.92,162.9 343.98,157.8 344.04,160.7 344.10,172.9 344.16,167.0 344.22,161.0 344.28,170.9 344.34,163.2 344.40,169.7 344.46,173.9 344.52,169.6 344.58,172.8 344.64,160.5 344.70,174.0 344.76,163.4 344.82,168.3 344.88,159.2 344.94,163.5 345.00,169.7 345.06,159.5 345.12,166.2 345.18,167.4 345.24,169.3 345.30,166.2 345.36,163.2 345.42,163.2 345.48,165.8 345.54,154.7 345.60,159.8 345.66,173.5 345.72,157.4 345.78,163.7 345.84,172.4 345.90,169.2 345.96,159.9 346.02,164.0 346.08,163.4 346.14,157.9 346.20,161.1 346.26,172.7 346.32,168.3 346.38,167.5 346.44,167.3 346.50,164.1 346.56,168.9 346.62,170.2 346.68,163.6 346.74,170.2 346.80,174.0 346.86,166.4 346.92,166.5 346.98,152.9 347.04,160.3 347.10,163.2 347.16,163.1 347.22,169.3 347.28,155.3 347.34,158.8 347.40,162.3 347.46,171.3 347.52,163.1 347.58,167.8 347.64,161.5 347.70,162.7 347.76,164.8 347.82,156.9 347.88,159.6 347.94,162.0 348.00,165.4 348.06,157.3 348.12,169.1 348.18,167.3 348.24,166.8 348.30,157.6 348.36,169.6 348.42,159.6 348.48,159.1 348.54,160.1 348.60,152.6 348.66,166.0 348.72,163.4 348.78,160.9 348.84,160.8 348.90,163.1 348.96,158.0 349.02,156.8 349.08,153.6 349.14,158.2 349.20,152.8 349.26,160.6 349.32,156.2 349.38,165.2 349.44,174.9 349.50,162.8 349.56,160.4 349.62,171.1 349.68,162.3 349.74,163.8 349.80,159.0 349.86,171.6 349.92,172.6 349.98,154.2 350.04,159.0 350.10,170.4 350.16,157.6 350.22,168.2 350.28,166.6 350.34,165.3 350.40,158.4 350.46,166.3 350.52,165.0 350.58,165.6 350.64,159.9 350.70,166.7 350.76,151.0 350.82,152.2 350.88,156.8 350.94,156.8 351.00,162.7 351.06,165.8 351.12,151.9 351.18,164.8 351.24,171.2 351.30,164.7 351.36,165.5 351.42,169.3 351.48,160.4 351.54,153.5 351.60,157.5 351.66,153.1 351.72,157.4 351.78,171.9 351.84,165.4 351.90,166.1 351.96,168.7 352.02,165.1 352.08,158.0 352.14,163.2 352.20,159.2 352.26,154.0 352.32,166.9 352.38,155.1 352.44,166.5 352.50,166.5 352.56,169.6 352.62,160.9 352.68,168.8 352.74,167.4 352.80,163.4 352.86,163.8 352.92,162.6 352.98,152.0 353.04,160.8 353.10,156.1 353.16,166.4 353.22,148.4 353.28,156.2 353.34,161.3 353.40,159.4 353.46,167.8 353.52,173.7 353.58,160.3 353.64,169.8 353.70,166.8 353.76,151.7 353.82,154.8 353.88,159.0 353.94,170.5 354.00,151.7 354.06,153.2 354.12,171.4 354.18,167.2 354.24,166.3 354.30,165.6 354.36,168.2 354.42,153.3 354.48,163.7 354.54,157.6 354.60,162.5 354.66,155.6 354.72,159.2 354.78,154.5 354.84,152.8 354.90,161.2 354.96,168.4 355.02,163.5 355.08,160.7 355.14,168.9 355.20,158.8 355.26,161.0 355.32,169.0 355.38,158.6 355.44,155.6 355.50,156.8 355.56,163.9 355.62,169.7 355.68,166.1 355.74,170.3 355.80,163.4 355.86,159.7 355.92,156.5 355.98,152.9 356.04,169.0 356.10,153.2 356.16,155.6 356.22,156.0 356.28,162.1 356.34,163.6 356.40,155.1 356.46,152.4 356.52,156.0 356.58,158.4 356.64,158.9 356.70,164.8 356.76,170.8 356.82,166.0 356.88,150.8 356.94,160.2 357.00,160.4 357.06,169.0 357.12,157.3 357.18,167.2 357.24,168.1 357.30,158.6 357.36,160.4 357.42,152.7 357.48,150.0 357.54,167.2 357.60,163.7 357.66,156.7 357.72,168.1 357.78,151.1 357.84,172.3 357.90,156.5 357.96,173.2 358.02,157.7 358.08,172.2 358.14,151.5 358.20,154.3 358.26,149.2 358.32,155.8 358.38,167.9 358.44,154.9 358.50,154.1 358.56,165.3 358.62,159.6 358.68,150.7 358.74,157.6 358.80,163.8 358.86,162.4 358.92,169.1 358.98,165.8 359.04,164.2 359.10,169.4 359.16,152.2 359.22,157.6 359.28,171.2 359.34,155.4 359.40,160.0 359.46,164.5 359.52,152.8 359.58,165.2 359.64,156.3 359.70,167.7 359.76,159.3 359.82,149.0 359.88,166.5 359.94,162.5 360.00,171.8 360.06,168.8 360.12,161.8 360.18,166.8 360.24,154.7 360.30,167.6 360.36,166.0 360.42,162.3 360.48,150.6 360.54,161.0 360.60,158.5 360.66,163.6 360.72,170.5 360.78,158.0 360.84,169.6 360.90,165.9 360.96,149.9 361.02,163.6 361.08,159.3 361.14,156.4 361.20,152.6 361.26,155.2 361.32,167.0 361.38,162.1 361.44,163.6 361.50,164.5 361.56,156.5 361.62,156.8 361.68,165.0 361.74,157.0 361.80,153.2 361.86,167.7 361.92,156.2 361.98,154.2 362.04,163.0 362.10,155.9 362.16,152.5 362.22,154.4 362.28,160.4 362.34,156.7 362.40,151.4 362.46,160.7 362.52,156.0 362.58,152.1 362.64,159.0 362.70,157.2 362.76,159.7 362.82,164.5 362.88,159.9 362.94,167.8 363.00,150.6 363.06,163.4 363.12,150.8 363.18,150.4 363.24,164.9 363.30,167.7 363.36,155.1 363.42,161.5 363.48,168.0 363.54,151.9 363.60,159.0 363.66,160.9 363.72,165.2 363.78,161.2 363.84,151.7 363.90,168.6 363.96,167.3 364.02,163.4 364.08,164.4 364.14,158.5 364.20,165.3 364.26,173.0 364.32,174.0 364.38,151.1 364.44,162.9 364.50,171.3 364.56,151.1 364.62,162.6 364.68,152.3 364.74,153.2 364.80,160.5 364.86,159.8 364.92,164.4 364.98,160.2 365.04,173.2 365.10,159.5 365.16,165.2 365.22,154.8 365.28,165.4 365.34,166.5 365.40,164.3 365.46,166.1 365.52,161.2 365.58,168.9 365.64,168.5 365.70,155.7 365.76,158.2 365.82,153.8 365.88,172.4 365.94,161.4 366.00,154.8 366.06,167.7 366.12,152.1 366.18,154.1 366.24,163.7 366.30,160.8 366.36,156.9 366.42,163.6 366.48,154.3 366.54,154.9 366.60,163.7 366.66,168.1 366.72,163.4 366.78,164.0 366.84,164.7 366.90,156.4 366.96,170.3 367.02,159.8 367.08,154.9 367.14,151.0 367.20,151.5 367.26,153.3 367.32,164.8 367.38,168.6 367.44,172.9 367.50,161.8 367.56,153.7 367.62,169.0 367.68,167.9 367.74,163.0 367.80,151.9 367.86,158.1 367.92,153.4 367.98,170.8 368.04,164.5 368.10,153.2 368.16,161.2 368.22,170.9 368.28,160.2 368.34,170.5 368.40,165.4 368.46,158.3 368.52,160.0 368.58,155.2 368.64,156.9 368.70,153.9 368.76,169.0 368.82,162.3 368.88,170.5 368.94,155.8 369.00,163.2 369.06,168.3 369.12,149.9 369.18,154.9 369.24,157.9 369.30,171.0 369.36,165.9 369.42,150.1 369.48,171.9 369.54,163.9 369.60,150.3 369.66,163.8 369.72,168.4 369.78,152.5 369.84,158.6 369.90,153.7 369.96,164.1 370.02,165.7 370.08,165.3 370.14,171.4 370.20,153.1 370.26,164.6 370.32,165.8 370.38,153.9 370.44,169.5 370.50,161.2 370.56,168.2 370.62,170.1 370.68,169.6 370.74,159.6 370.80,156.6 370.86,161.9 370.92,159.8 370.98,157.6 371.04,152.4 371.10,170.7 371.16,164.8 371.22,170.5 371.28,158.8 371.34,151.1 371.40,168.7 371.46,154.2 371.52,155.0 371.58,168.5 371.64,163.6 371.70,165.0 371.76,167.6 371.82,166.6 371.88,159.1 371.94,160.9 372.00,154.7 372.06,162.7 372.12,147.1 372.18,161.7 372.24,147.3 372.30,150.8 372.36,170.1 372.42,163.2 372.48,152.4 372.54,166.6 372.60,156.9 372.66,153.6 372.72,169.7 372.78,152.9 372.84,148.6 372.90,154.2 372.96,148.5 373.02,152.6 373.08,163.2 373.14,150.0 373.20,160.7 373.26,152.2 373.32,167.0 373.38,153.3 373.44,159.9 373.50,164.0 373.56,158.3 373.62,165.9 373.68,156.9 373.74,156.4 373.80,158.7 373.86,155.2 373.92,161.3 373.98,152.1 374.04,158.3 374.10,153.8 374.16,153.8 374.22,167.3 374.28,165.4 374.34,169.8 374.40,168.9 374.46,154.4 374.52,154.4 374.58,167.1 374.64,150.8 374.70,170.4 374.76,152.5 374.82,153.2 374.88,158.3 374.94,161.8 375.00,167.9 375.06,153.0 375.12,150.5 375.18,168.5 375.24,159.1 375.30,162.5 375.36,158.2 375.42,166.1 375.48,170.5 375.54,162.0 375.60,156.4 375.66,153.8 375.72,150.0 375.78,164.0 375.84,151.8 375.90,154.1 375.96,157.8 376.02,160.4 376.08,162.1 376.14,174.8 376.20,153.6 376.26,164.5 376.32,151.3 376.38,152.9 376.44,155.3 376.50,155.3 376.56,160.2 376.62,163.3 376.68,151.4 376.74,161.7 376.80,151.8 376.86,160.7 376.92,168.0 376.98,158.1 377.04,164.5 377.10,154.2 377.16,164.3 377.22,170.6 377.28,162.9 377.34,171.6 377.40,168.3 377.46,166.2 377.52,160.7 377.58,160.5 377.64,155.8 377.70,169.2 377.76,149.7 377.82,167.2 377.88,168.7 377.94,157.3 378.00,165.7 378.06,161.9 378.12,167.3 378.18,164.3 378.24,150.9 378.30,159.5 378.36,149.5 378.42,166.1 378.48,168.0 378.54,171.3 378.60,161.8 378.66,162.1 378.72,163.7 378.78,158.2 378.84,156.8 378.90,171.4 378.96,160.7 379.02,170.6 379.08,162.7 379.14,168.7 379.20,165.7 379.26,159.9 379.32,166.9 379.38,167.0 379.44,168.9 379.50,158.2 379.56,162.3 379.62,166.1 379.68,162.0 379.74,163.4 379.80,155.9 379.86,171.0 379.92,165.9 379.98,163.2 380.04,168.7 380.10,167.9 380.16,152.4 380.22,160.5 380.28,167.4 380.34,170.6 380.40,161.0 380.46,151.4 380.52,172.6 380.58,163.2 380.64,153.6 380.70,157.9 380.76,173.5 380.82,158.5 380.88,166.7 380.94,157.4 381.00,164.3 381.06,162.1 381.12,157.9 381.18,154.9 381.24,155.6 381.30,163.7 381.36,165.6 381.42,160.7 381.48,163.6 381.54,161.7 381.60,161.6 381.66,161.2 381.72,166.1 381.78,170.3 381.84,159.1 381.90,173.0 381.96,171.9 382.02,170.3 382.08,168.4 382.14,151.3 382.20,169.0 382.26,163.5 382.32,158.7 382.38,159.1 382.44,160.5 382.50,159.3 382.56,160.3 382.62,165.5 382.68,168.1 382.74,164.0 382.80,152.3 382.86,166.6 382.92,149.9 382.98,163.8 383.04,165.5 383.10,165.0 383.16,169.0 383.22,173.2 383.28,157.9 383.34,166.0 383.40,170.5 383.46,170.4 383.52,168.9 383.58,162.7 383.64,172.7 383.70,156.6 383.76,163.3 383.82,164.7 383.88,157.9 383.94,171.4 384.00,157.9 384.06,163.5 384.12,164.8 384.18,165.1 384.24,159.5 384.30,166.9 384.36,160.8 384.42,165.1 384.48,154.0 384.54,154.3 384.60,155.9 384.66,167.2 384.72,163.7 384.78,159.3 384.84,163.7 384.90,173.6 384.96,167.0 385.02,159.6 385.08,161.8 385.14,175.0 385.20,162.9 385.26,163.9 385.32,169.6 385.38,161.5 385.44,167.5 385.50,160.1 385.56,173.5 385.62,163.3 385.68,173.4 385.74,154.0 385.80,165.7 385.86,163.8 385.92,160.0 385.98,154.4 386.04,154.2 386.10,171.2 386.16,160.3 386.22,154.0 386.28,165.5 386.34,157.7 386.40,164.8 386.46,172.7 386.52,165.2 386.58,157.2 386.64,155.9 386.70,167.0 386.76,171.8 386.82,166.9 386.88,167.0 386.94,170.2 387.00,157.8 387.06,167.9 387.12,175.3 387.18,169.1 387.24,170.6 387.30,154.7 387.36,166.7 387.42,158.0 387.48,172.8 387.54,165.5 387.60,154.5 387.66,159.9 387.72,162.0 387.78,158.8 387.84,160.7 387.90,176.9 387.96,159.6 388.02,165.6 388.08,155.1 388.14,177.5 388.20,170.7 388.26,156.8 388.32,160.0 388.38,169.1 388.44,158.0 388.50,163.2 388.56,173.5 388.62,169.4 388.68,170.4 388.74,155.0 388.80,161.8 388.86,159.2 388.92,166.1 388.98,169.0 389.04,168.0 389.10,171.7 389.16,160.1 389.22,160.4 389.28,158.2 389.34,165.1 389.40,161.3 389.46,175.3 389.52,158.1 389.58,173.1 389.64,158.4 389.70,161.3 389.76,162.1 389.82,173.8 389.88,175.4 389.94,169.9 390.00,163.5 390.06,176.3 390.12,167.4 390.18,159.2 390.24,162.8 390.30,160.2 390.36,173.8 390.42,161.9 390.48,162.6 390.54,171.2 390.60,167.8 390.66,173.8 390.72,171.8 390.78,175.7 390.84,169.3 390.90,165.1 390.96,158.6 391.02,158.7 391.08,162.4 391.14,160.2 391.20,158.8 391.26,167.2 391.32,160.8 391.38,165.3 391.44,164.0 391.50,165.0 391.56,167.8 391.62,163.8 391.68,161.7 391.74,169.8 391.80,160.9 391.86,161.9 391.92,162.2 391.98,157.8 392.04,175.1 392.10,172.6 392.16,174.7 392.22,167.9 392.28,173.1 392.34,166.4 392.40,167.5 392.46,168.4 392.52,159.2 392.58,176.6 392.64,177.4 392.70,177.0 392.76,173.2 392.82,176.0 392.88,178.8 392.94,168.0 393.00,159.5 393.06,170.4 393.12,173.5 393.18,174.0 393.24,162.1 393.30,164.7 393.36,179.8 393.42,173.1 393.48,161.5 393.54,177.7 393.60,158.8 393.66,158.8 393.72,164.9 393.78,160.5 393.84,165.6 393.90,171.2 393.96,176.9 394.02,166.3 394.08,162.2 394.14,170.0 394.20,163.7 394.26,175.5 394.32,164.6 394.38,170.5 394.44,177.7 394.50,169.6 394.56,167.5 394.62,169.4 394.68,174.0 394.74,160.2 394.80,174.3 394.86,164.8 394.92,162.5 394.98,176.1 395.04,177.4 395.10,163.4 395.16,169.6 395.22,178.8 395.28,173.6 395.34,165.8 395.40,160.4 395.46,178.9 395.52,170.0 395.58,166.7 395.64,163.6 395.70,177.7 395.76,174.5 395.82,160.3 395.88,174.8 395.94,174.9 396.00,169.2 396.06,161.7 396.12,170.0 396.18,170.0 396.24,172.4 396.30,163.4 396.36,166.9 396.42,168.8 396.48,162.9 396.54,160.4 396.60,162.8 396.66,170.9 396.72,159.2 396.78,161.3 396.84,165.8 396.90,168.1 396.96,170.1 397.02,171.1 397.08,159.4 397.14,175.9 397.20,175.0 397.26,168.3 397.32,178.7 397.38,177.3 397.44,177.4 397.50,163.8 397.56,169.4 397.62,178.3 397.68,170.8 397.74,174.8 397.80,171.0 397.86,177.5 397.92,168.6 397.98,174.7 398.04,164.1 398.10,173.4 398.16,161.4 398.22,172.7 398.28,169.4 398.34,177.3 398.40,165.3 398.46,178.4 398.52,178.9 398.58,173.2 398.64,158.2 398.70,178.7 398.76,172.3 398.82,164.9 398.88,172.8 398.94,169.1 399.00,162.0 399.06,170.3 399.12,162.5 399.18,161.5 399.24,176.2 399.30,169.1 399.36,179.0 399.42,174.0 399.48,163.3 399.54,171.7 399.60,174.4 399.66,163.3 399.72,169.6 399.78,179.5 399.84,169.2 399.90,166.9 399.96,165.8 400.02,176.6 400.08,171.2 400.14,167.1 400.20,181.0 400.26,176.8 400.32,174.0 400.38,164.4 400.44,171.3 400.50,166.5 400.56,177.0 400.62,173.1 400.68,175.5 400.74,173.1 400.80,173.8 400.86,180.2 400.92,171.3 400.98,180.2 401.04,165.2 401.10,163.7 401.16,180.8 401.22,174.7 401.28,162.3 401.34,177.2 401.40,174.6 401.46,159.7 401.52,169.0 401.58,181.0 401.64,167.8 401.70,177.9 401.76,172.2 401.82,176.1 401.88,176.5 401.94,172.3 402.00,175.2 402.06,175.9 402.12,168.8 402.18,172.8 402.24,171.0 402.30,176.6 402.36,178.7 402.42,166.1 402.48,179.8 402.54,164.3 402.60,171.1 402.66,161.9 402.72,175.9 402.78,173.3 402.84,167.4 402.90,170.3 402.96,182.2 403.02,167.6 403.08,168.1 403.14,172.3 403.20,175.6 403.26,177.5 403.32,167.4 403.38,161.5 403.44,164.0 403.50,162.7 403.56,169.4 403.62,164.3 403.68,160.1 403.74,177.9 403.80,176.5 403.86,165.3 403.92,167.6 403.98,182.2 404.04,175.4 404.10,172.5 404.16,166.0 404.22,172.2 404.28,174.9 404.34,164.2 404.40,163.4 404.46,160.7 404.52,168.0 404.58,176.6 404.64,164.8 404.70,174.2 404.76,178.0 404.82,169.3 404.88,180.6 404.94,168.8 405.00,176.5 405.06,161.2 405.12,176.1 405.18,164.5 405.24,169.3 405.30,171.5 405.36,173.1 405.42,180.7 405.48,174.3 405.54,164.2 405.60,176.5 405.66,164.4 405.72,167.3 405.78,162.8 405.84,162.8 405.90,175.8 405.96,169.3 406.02,182.4 406.08,169.5 406.14,177.4 406.20,179.0 406.26,180.7 406.32,169.9 406.38,171.1 406.44,163.9 406.50,175.3 406.56,167.7 406.62,176.5 406.68,172.7 406.74,175.9 406.80,178.7 406.86,175.9 406.92,173.8 406.98,165.0 407.04,173.2 407.10,181.4 407.16,178.1 407.22,172.8 407.28,163.1 407.34,183.3 407.40,161.8 407.46,163.4 407.52,163.9 407.58,173.5 407.64,171.1 407.70,179.9 407.76,175.3 407.82,175.4 407.88,162.2 407.94,180.4 408.00,170.7 408.06,166.9 408.12,173.0 408.18,179.6 408.24,179.5 408.30,163.0 408.36,174.6 408.42,173.8 408.48,167.0 408.54,175.0 408.60,164.8 408.66,174.5 408.72,173.9 408.78,167.2 408.84,163.3 408.90,176.1 408.96,173.8 409.02,169.0 409.08,167.3 409.14,177.7 409.20,173.8 409.26,169.7 409.32,169.8 409.38,181.6 409.44,164.1 409.50,179.7 409.56,169.0 409.62,164.6 409.68,177.5 409.74,169.1 409.80,172.1 409.86,171.2 409.92,182.7 409.98,175.5 410.04,181.3 410.10,179.4 410.16,176.8 410.22,181.8 410.28,166.1 410.34,178.7 410.40,176.6 410.46,180.4 410.52,176.9 410.58,177.5 410.64,172.9 410.70,174.6 410.76,175.2 410.82,166.6 410.88,166.3 410.94,176.5 411.00,173.8 411.06,181.1 411.12,180.0 411.18,179.0 411.24,174.5 411.30,170.1 411.36,164.1 411.42,180.7 411.48,177.1 411.54,179.4 411.60,173.8 411.66,163.2 411.72,163.5 411.78,165.8 411.84,169.8 411.90,174.0 411.96,167.9 412.02,181.7 412.08,164.4 412.14,169.4 412.20,171.5 412.26,177.2 412.32,172.5 412.38,166.0 412.44,170.0 412.50,179.3 412.56,179.6 412.62,181.1 412.68,170.1 412.74,181.1 412.80,184.7 412.86,172.2 412.92,172.0 412.98,171.1 413.04,177.9 413.10,181.5 413.16,176.9 413.22,173.3 413.28,170.8 413.34,182.6 413.40,176.3 413.46,181.3 413.52,175.8 413.58,169.1 413.64,179.4 413.70,183.4 413.76,173.7 413.82,178.1 413.88,171.9 413.94,178.7 414.00,168.3 414.06,178.6 414.12,181.6 414.18,173.9 414.24,166.0 414.30,179.1 414.36,174.7 414.42,168.0 414.48,168.8 414.54,170.4 414.60,175.8 414.66,173.5 414.72,170.5 414.78,175.8 414.84,178.6 414.90,171.1 414.96,180.0 415.02,182.9 415.08,166.9 415.14,170.2 415.20,177.6 415.26,178.2 415.32,181.6 415.38,171.3 415.44,178.6 415.50,181.5 415.56,167.4 415.62,181.1 415.68,182.4 415.74,171.4 415.80,175.3 415.86,177.2 415.92,166.7 415.98,173.5 416.04,170.4 416.10,178.0 416.16,185.5 416.22,163.6 416.28,180.6 416.34,174.7 416.40,179.4 416.46,178.1 416.52,180.8 416.58,180.0 416.64,170.8 416.70,181.4 416.76,168.6 416.82,177.9 416.88,175.6 416.94,165.4 417.00,173.5 417.06,169.8 417.12,182.1 417.18,177.0 417.24,179.0 417.30,184.4 417.36,182.4 417.42,178.6 417.48,182.6 417.54,183.1 417.60,182.1 417.66,167.0 417.72,168.4 417.78,179.3 417.84,170.6 417.90,177.1 417.96,171.6 418.02,173.9 418.08,184.4 418.14,181.1 418.20,173.1 418.26,164.4 418.32,177.1 418.38,174.8 418.44,179.2 418.50,180.1 418.56,177.6 418.62,177.0 418.68,176.5 418.74,178.5 418.80,171.6 418.86,181.3 418.92,172.4 418.98,170.4 419.04,173.5 419.10,174.3 419.16,174.4 419.22,166.6 419.28,175.8 419.34,177.9 419.40,181.7 419.46,164.9 419.52,170.8 419.58,170.6 419.64,173.3 419.70,166.4 419.76,174.5 419.82,180.8 419.88,168.4 419.94,178.0 420.00,166.4 420.06,175.3 420.12,177.5 420.18,181.5 420.24,171.9 420.30,166.7 420.36,182.1 420.42,180.5 420.48,175.3 420.54,179.7 420.60,183.4 420.66,168.9 420.72,181.3 420.78,166.0 420.84,172.9 420.90,174.0 420.96,180.3 421.02,183.3 421.08,181.1 421.14,177.1 421.20,184.7 421.26,179.4 421.32,167.2 421.38,179.2 421.44,174.7 421.50,176.6 421.56,168.8 421.62,180.0 421.68,178.5 421.74,177.8 421.80,176.6 421.86,173.3 421.92,167.6 421.98,171.2 422.04,171.9 422.10,169.4 422.16,168.4 422.22,171.1 422.28,173.7 422.34,179.7 422.40,185.3 422.46,172.1 422.52,175.6 422.58,178.1 422.64,170.1 422.70,175.4 422.76,181.7 422.82,178.2 422.88,174.1 422.94,174.2 423.00,175.6 423.06,174.0 423.12,183.1 423.18,169.1 423.24,174.2 423.30,172.2 423.36,181.4 423.42,178.0 423.48,167.6 423.54,180.8 423.60,175.7 423.66,176.3 423.72,167.2 423.78,167.6 423.84,181.4 423.90,176.9 423.96,174.5 424.02,183.1 424.08,175.4 424.14,166.9 424.20,179.3 424.26,173.9 424.32,178.0 424.38,174.9 424.44,169.6 424.50,175.9 424.56,179.8 424.62,175.5 424.68,179.2 424.74,179.5 424.80,178.7 424.86,172.2 424.92,172.4 424.98,171.1 425.04,172.3 425.10,178.3 425.16,181.4 425.22,172.0 425.28,171.0 425.34,177.5 425.40,176.4 425.46,182.4 425.52,174.4 425.58,181.5 425.64,181.1 425.70,173.9 425.76,175.1 425.82,169.6 425.88,181.2 425.94,182.6 426.00,182.4 426.06,177.0 426.12,182.3 426.18,169.7 426.24,172.5 426.30,166.6 426.36,174.7 426.42,166.1 426.48,176.4 426.54,169.5 426.60,183.5 426.66,178.9 426.72,171.3 426.78,179.7 426.84,182.2 426.90,178.5 426.96,183.8 427.02,177.9 427.08,173.8 427.14,173.9 427.20,169.2 427.26,165.4 427.32,171.8 427.38,176.0 427.44,178.7 427.50,163.6 427.56,184.6 427.62,183.9 427.68,178.3 427.74,183.1 427.80,166.7 427.86,170.8 427.92,168.7 427.98,179.4 428.04,182.2 428.10,183.5 428.16,176.6 428.22,172.7 428.28,169.1 428.34,169.4 428.40,173.5 428.46,171.7 428.52,183.3 428.58,170.9 428.64,167.9 428.70,169.5 428.76,169.7 428.82,166.9 428.88,171.3 428.94,182.3 429.00,179.4 429.06,169.3 429.12,176.0 429.18,179.1 429.24,182.7 429.30,179.2 429.36,183.4 429.42,183.1 429.48,182.4 429.54,180.4 429.60,180.1 429.66,183.3 429.72,177.9 429.78,171.1 429.84,175.9 429.90,177.7 429.96,171.2 430.02,171.3 430.08,179.7 430.14,181.6 430.20,178.9 430.26,172.8 430.32,183.7 430.38,180.5 430.44,184.4 430.50,183.0 430.56,173.4 430.62,180.0 430.68,172.1 430.74,176.8 430.80,178.1 430.86,170.9 430.92,174.4 430.98,181.8 431.04,180.7 431.10,170.1 431.16,170.9 431.22,182.9 431.28,172.0 431.34,185.5 431.40,173.0 431.46,166.8 431.52,185.2 431.58,173.5 431.64,177.8 431.70,173.2 431.76,179.3 431.82,180.4 431.88,186.9 431.94,166.7 432.00,183.6 432.06,176.8 432.12,172.1 432.18,186.6 432.24,179.5 432.30,172.0 432.36,179.4 432.42,179.5 432.48,175.3 432.54,165.7 432.60,165.0 432.66,168.6 432.72,185.4 432.78,176.0 432.84,166.1 432.90,167.8 432.96,177.3 433.02,180.7 433.08,182.2 433.14,169.1 433.20,174.4 433.26,171.0 433.32,184.1 433.38,181.2 433.44,170.7 433.50,185.2 433.56,175.3 433.62,181.7 433.68,168.3 433.74,171.4 433.80,168.4 433.86,175.4 433.92,177.1 433.98,173.5 434.04,171.2 434.10,182.0 434.16,181.8 434.22,177.8 434.28,178.1 434.34,184.8 434.40,185.5 434.46,179.3 434.52,174.3 434.58,175.0 434.64,178.9 434.70,180.2 434.76,171.4 434.82,178.7 434.88,180.9 434.94,177.3 435.00,177.6 435.06,185.6 435.12,172.2 435.18,180.6 435.24,182.1 435.30,169.5 435.36,171.2 435.42,170.7 435.48,176.9 435.54,174.3 435.60,176.3 435.66,177.6 435.72,183.1 435.78,175.6 435.84,184.5 435.90,185.6 435.96,182.0 436.02,182.8 436.08,180.9 436.14,174.3 436.20,180.0 436.26,186.9 436.32,175.1 436.38,179.6 436.44,170.8 436.50,171.3 436.56,187.2 436.62,176.1 436.68,182.3 436.74,183.8 436.80,180.1 436.86,180.5 436.92,174.2 436.98,179.8 437.04,184.4 437.10,172.9 437.16,169.0 437.22,183.1 437.28,167.7 437.34,169.0 437.40,172.4 437.46,171.4 437.52,185.0 437.58,175.4 437.64,172.2 437.70,165.8 437.76,174.7 437.82,178.8 437.88,171.9 437.94,174.8 438.00,176.9 438.06,169.9 438.12,182.8 438.18,174.7 438.24,173.5 438.30,171.3 438.36,172.5 438.42,179.6 438.48,174.6 438.54,169.8 438.60,176.6 438.66,182.8 438.72,171.7 438.78,175.7 438.84,167.9 438.90,174.2 438.96,182.6 439.02,184.1 439.08,182.0 439.14,171.4 439.20,173.7 439.26,167.3 439.32,177.3 439.38,179.9 439.44,171.7 439.50,185.4 439.56,176.7 439.62,174.4 439.68,174.7 439.74,180.6 439.80,173.6 439.86,171.0 439.92,177.7 439.98,172.4 440.04,182.2 440.10,172.8 440.16,171.3 440.22,167.1 440.28,169.4 440.34,170.4 440.40,173.9 440.46,175.8 440.52,182.9 440.58,171.4 440.64,167.9 440.70,172.6 440.76,166.2 440.82,174.6 440.88,175.7 440.94,169.9 441.00,168.8 441.06,178.6 441.12,181.7 441.18,182.3 441.24,174.8 441.30,174.3 441.36,183.2 441.42,175.9 441.48,171.6 441.54,181.0 441.60,186.1 441.66,185.5 441.72,178.3 441.78,185.3 441.84,183.3 441.90,173.7 441.96,182.8 442.02,179.1 442.08,172.7 442.14,180.4 442.20,171.7 442.26,168.0 442.32,171.6 442.38,169.3 442.44,170.5 442.50,174.2 442.56,166.6 442.62,172.1 442.68,170.9 442.74,181.8 442.80,178.1 442.86,171.9 442.92,182.1 442.98,169.0 443.04,170.7 443.10,177.5 443.16,183.6 443.22,178.4 443.28,182.5 443.34,179.8 443.40,182.9 443.46,172.6 443.52,180.4 443.58,170.0 443.64,169.4 443.70,173.4 443.76,175.1 443.82,167.5 443.88,182.4 443.94,179.9 444.00,174.7 444.06,173.4 444.12,169.2 444.18,182.9 444.24,173.8 444.30,183.0 444.36,173.4 444.42,187.6 444.48,183.1 444.54,180.9 444.60,185.2 444.66,175.9 444.72,172.6 444.78,167.6 444.84,184.3 444.90,169.9 444.96,169.7 445.02,177.1 445.08,169.2 445.14,171.1 445.20,173.0 445.26,173.1 445.32,167.3 445.38,176.6 445.44,171.7 445.50,174.6 445.56,179.6 445.62,173.4 445.68,184.5 445.74,169.1 445.80,173.8 445.86,180.4 445.92,180.1 445.98,181.2 446.04,184.8 446.10,174.4 446.16,174.2 446.22,183.9 446.28,172.0 446.34,170.0 446.40,177.1 446.46,183.0 446.52,171.9 446.58,169.5 446.64,179.5 446.70,184.7 446.76,182.5 446.82,168.8 446.88,175.0 446.94,176.7 447.00,168.2 447.06,169.9 447.12,172.6 447.18,174.8 447.24,176.4 447.30,177.2 447.36,177.6 447.42,182.4 447.48,172.8 447.54,178.4 447.60,171.0 447.66,176.8 447.72,168.5 447.78,179.2 447.84,172.3 447.90,174.6 447.96,184.2 448.02,172.4 448.08,168.1 448.14,178.6 448.20,176.7 448.26,182.3 448.32,172.1 448.38,183.7 448.44,179.2 448.50,185.1 448.56,171.7 448.62,181.3 448.68,179.0 448.74,176.4 448.80,181.9 448.86,181.6 448.92,183.4 448.98,183.5 449.04,177.5 449.10,179.5 449.16,180.8 449.22,169.8 449.28,168.8 449.34,171.8 449.40,178.7 449.46,171.8 449.52,178.3 449.58,173.2 449.64,173.0 449.70,170.9 449.76,169.3 449.82,187.3 449.88,172.4 449.94,173.2 450.00,167.1 450.06,175.5 450.12,180.1 450.18,172.5 450.24,183.4 450.30,179.6 450.36,181.4 450.42,176.5 450.48,181.2 450.54,171.0 450.60,177.0 450.66,170.1 450.72,176.2 450.78,175.0 450.84,178.1 450.90,184.2 450.96,175.8 451.02,177.8 451.08,185.4 451.14,180.2 451.20,182.1 451.26,179.9 451.32,170.9 451.38,184.7 451.44,175.9 451.50,180.5 451.56,177.0 451.62,172.3 451.68,181.4 451.74,171.1 451.80,178.5 451.86,169.3 451.92,178.0 451.98,180.7 452.04,172.0 452.10,170.6 452.16,177.5 452.22,180.9 452.28,185.4 452.34,170.6 452.40,184.2 452.46,170.3 452.52,175.1 452.58,170.4 452.64,181.2 452.70,184.2 452.76,170.1 452.82,182.7 452.88,182.4 452.94,178.5 453.00,182.9 453.06,185.6 453.12,178.3 453.18,179.2 453.24,171.4 453.30,181.0 453.36,178.0 453.42,185.1 453.48,177.8 453.54,170.0 453.60,177.3 453.66,177.7 453.72,170.3 453.78,172.5 453.84,184.4 453.90,184.5 453.96,175.1 454.02,174.0 454.08,181.4 454.14,166.6 454.20,183.8 454.26,174.5 454.32,168.1 454.38,174.9 454.44,180.0 454.50,165.3 454.56,183.9 454.62,171.6 454.68,174.5 454.74,172.2 454.80,177.9 454.86,172.6 454.92,173.1 454.98,177.1 455.04,173.3 455.10,181.4 455.16,172.4 455.22,167.8 455.28,178.7 455.34,183.3 455.40,183.4 455.46,172.1 455.52,176.2 455.58,180.7 455.64,175.8 455.70,182.9 455.76,174.9 455.82,169.1 455.88,181.8 455.94,166.5 456.00,174.2 456.06,168.5 456.12,182.9 456.18,181.1 456.24,181.5 456.30,174.9 456.36,179.5 456.42,181.3 456.48,172.3 456.54,172.6 456.60,182.0 456.66,180.5 456.72,171.1 456.78,175.2 456.84,177.4 456.90,168.1 456.96,177.5 457.02,181.2 457.08,180.5 457.14,181.6 457.20,184.6 457.26,175.9 457.32,181.6 457.38,183.6 457.44,180.7 457.50,178.0 457.56,173.5 457.62,175.7 457.68,180.3 457.74,186.5 457.80,167.1 457.86,177.6 457.92,178.7 457.98,170.8 458.04,170.6 458.10,182.0 458.16,170.3 458.22,182.5 458.28,180.9 458.34,167.6 458.40,177.4 458.46,178.5 458.52,175.2 458.58,179.9 458.64,185.5 458.70,174.3 458.76,179.7 458.82,168.1 458.88,174.4 458.94,176.8 459.00,167.6 459.06,172.4 459.12,179.1 459.18,166.2 459.24,170.8 459.30,175.6 459.36,165.3 459.42,179.7 459.48,175.1 459.54,182.7 459.60,179.3 459.66,173.1 459.72,181.9 459.78,176.8 459.84,170.7 459.90,175.0 459.96,170.8 460.02,173.9 460.08,172.8 460.14,185.9 460.20,173.3 460.26,169.9 460.32,169.3 460.38,181.6 460.44,176.3 460.50,165.9 460.56,171.3 460.62,166.9 460.68,178.5 460.74,181.0 460.80,180.7 460.86,168.6 460.92,168.2 460.98,180.1 461.04,183.8 461.10,166.0 461.16,164.7 461.22,179.6 461.28,175.1 461.34,182.4 461.40,175.5 461.46,175.2 461.52,178.0 461.58,182.9 461.64,181.6 461.70,179.2 461.76,176.5 461.82,172.3 461.88,168.7 461.94,177.6 462.00,177.0 462.06,169.2 462.12,171.6 462.18,175.6 462.24,174.7 462.30,176.3 462.36,175.2 462.42,166.1 462.48,177.3 462.54,171.8 462.60,174.9 462.66,176.4 462.72,167.9 462.78,178.5 462.84,175.1 462.90,167.8 462.96,167.5 463.02,175.3 463.08,180.8 463.14,180.0 463.20,174.2 463.26,173.2 463.32,172.2 463.38,176.0 463.44,178.9 463.50,166.5 463.56,175.2 463.62,176.2 463.68,166.1 463.74,183.0 463.80,182.5 463.86,181.2 463.92,182.0 463.98,168.2 464.04,181.0 464.10,171.7 464.16,172.0 464.22,164.7 464.28,180.3 464.34,177.7 464.40,182.1 464.46,184.2 464.52,178.2 464.58,175.9 464.64,173.7 464.70,166.2 464.76,173.8 464.82,175.1 464.88,172.5 464.94,181.6 465.00,171.9 465.06,164.4 465.12,166.9 465.18,175.1 465.24,178.2 465.30,179.0 465.36,175.5 465.42,178.2 465.48,168.1 465.54,172.5 465.60,172.4 465.66,181.8 465.72,165.5 465.78,175.6 465.84,177.2 465.90,165.0 465.96,175.0 466.02,179.9 466.08,169.9 466.14,175.8 466.20,175.5 466.26,183.5 466.32,181.4 466.38,170.3 466.44,172.6 466.50,177.9 466.56,182.9 466.62,168.3 466.68,181.6 466.74,180.1 466.80,167.7 466.86,173.0 466.92,171.0 466.98,168.3 467.04,172.6 467.10,168.8 467.16,168.8 467.22,175.6 467.28,177.2 467.34,165.8 467.40,176.1 467.46,179.7 467.52,178.8 467.58,178.5 467.64,166.5 467.70,164.4 467.76,169.9 467.82,170.4 467.88,168.8 467.94,167.2 468.00,169.7 468.06,166.4 468.12,166.3 468.18,164.2 468.24,165.5 468.30,174.0 468.36,163.2 468.42,167.4 468.48,170.5 468.54,174.2 468.60,179.6 468.66,175.7 468.72,173.9 468.78,166.9 468.84,167.2 468.90,181.0 468.96,167.8 469.02,171.9 469.08,180.4 469.14,168.4 469.20,165.9 469.26,176.3 469.32,181.0 469.38,183.3 469.44,177.3 469.50,171.3 469.56,166.6 469.62,178.9 469.68,173.4 469.74,173.5 469.80,183.5 469.86,169.7 469.92,177.5 469.98,168.4 470.04,172.2 470.10,178.7 470.16,168.7 470.22,181.1 470.28,171.0 470.34,180.4 470.40,177.7 470.46,178.5 470.52,168.4 470.58,168.4 470.64,179.3 470.70,168.0 470.76,176.5 470.82,181.2 470.88,176.1 470.94,181.3 471.00,167.8 471.06,178.4 471.12,163.9 471.18,170.8 471.24,180.6 471.30,173.5 471.36,172.0 471.42,172.9 471.48,164.5 471.54,165.4 471.60,168.9 471.66,167.5 471.72,176.0 471.78,174.0 471.84,172.4 471.90,166.7 471.96,167.7 472.02,175.4 472.08,182.2 472.14,177.1 472.20,168.7 472.26,170.5 472.32,174.3 472.38,176.9 472.44,166.1 472.50,180.7 472.56,181.7 472.62,175.5 472.68,163.0 472.74,179.3 472.80,165.5 472.86,176.6 472.92,164.7 472.98,177.0 473.04,165.0 473.10,183.0 473.16,163.9 473.22,174.8 473.28,176.2 473.34,180.5 473.40,172.7 473.46,166.7 473.52,170.6 473.58,180.3 473.64,167.5 473.70,167.6 473.76,174.0 473.82,171.7 473.88,179.1 473.94,185.3 474.00,174.9 474.06,173.1 474.12,171.4 474.18,167.1 474.24,178.7 474.30,167.4 474.36,170.5 474.42,166.5 474.48,174.7 474.54,183.6 474.60,176.9 474.66,183.1 474.72,170.1 474.78,180.9 474.84,175.1 474.90,173.8 474.96,167.6 475.02,177.1 475.08,166.3 475.14,166.3 475.20,167.6 475.26,176.1 475.32,177.0 475.38,180.6 475.44,164.5 475.50,167.1 475.56,168.3 475.62,167.4 475.68,171.7 475.74,178.7 475.80,179.5 475.86,176.3 475.92,171.1 475.98,178.4 476.04,173.6 476.10,165.5 476.16,164.6 476.22,177.9 476.28,174.7 476.34,165.5 476.40,175.8 476.46,169.9 476.52,163.9 476.58,171.9 476.64,166.6 476.70,176.2 476.76,168.5 476.82,166.0 476.88,163.1 476.94,176.5 477.00,173.1 477.06,170.8 477.12,177.3 477.18,173.5 477.24,168.8 477.30,173.8 477.36,166.4 477.42,174.0 477.48,161.4 477.54,181.5 477.60,165.3 477.66,171.9 477.72,167.8 477.78,173.6 477.84,171.5 477.90,180.4 477.96,181.2 478.02,176.8 478.08,164.5 478.14,167.9 478.20,180.6 478.26,180.7 478.32,170.6 478.38,182.3 478.44,177.4 478.50,169.5 478.56,173.8 478.62,175.8 478.68,168.2 478.74,173.3 478.80,178.5 478.86,162.8 478.92,175.5 478.98,170.3 479.04,166.1 479.10,177.2 479.16,171.2 479.22,159.8 479.28,182.7 479.34,177.3 479.40,172.9 479.46,172.6 479.52,178.8 479.58,177.4 479.64,164.8 479.70,177.2 479.76,168.7 479.82,174.5 479.88,167.5 479.94,176.2 480.00,171.6 480.06,175.2 480.12,174.2 480.18,177.0 480.24,171.7 480.30,165.4 480.36,165.1 480.42,164.9 480.48,172.3 480.54,168.1 480.60,163.8 480.66,177.6 480.72,173.4 480.78,171.0 480.84,163.4 480.90,179.0 480.96,165.0 481.02,164.5 481.08,174.6 481.14,168.1 481.20,171.9 481.26,176.9 481.32,166.0 481.38,167.7 481.44,178.2 481.50,169.1 481.56,178.8 481.62,173.4 481.68,173.4 481.74,179.8 481.80,176.2 481.86,164.4 481.92,172.8 481.98,170.1 482.04,172.6 482.10,175.0 482.16,170.6 482.22,166.8 482.28,173.2 482.34,173.6 482.40,167.5 482.46,163.0 482.52,178.6 482.58,177.4 482.64,170.4 482.70,167.6 482.76,166.7 482.82,164.9 482.88,178.3 482.94,164.3 483.00,170.6 483.06,179.6 483.12,163.8 483.18,164.8 483.24,167.3 483.30,167.9 483.36,171.4 483.42,167.5 483.48,173.5 483.54,181.7 483.60,166.9 483.66,164.6 483.72,163.9 483.78,172.2 483.84,171.3 483.90,165.3 483.96,172.7 484.02,173.9 484.08,164.5 484.14,171.0 484.20,174.8 484.26,174.0 484.32,165.5 484.38,170.8 484.44,165.0 484.50,170.1 484.56,162.5 484.62,165.9 484.68,166.4 484.74,174.7 484.80,165.7 484.86,162.8 484.92,170.6 484.98,168.0 485.04,162.1 485.10,174.4 485.16,179.1 485.22,173.5 485.28,166.2 485.34,166.9 485.40,179.2 485.46,178.7 485.52,177.0 485.58,167.2 485.64,173.8 485.70,169.6 485.76,166.0 485.82,179.0 485.88,175.9 485.94,181.4 486.00,162.7 486.06,180.9 486.12,175.1 486.18,166.3 486.24,177.8 486.30,177.3 486.36,168.4 486.42,176.8 486.48,171.5 486.54,178.8 486.60,177.8 486.66,166.1 486.72,171.8 486.78,179.9 486.84,169.9 486.90,163.1 486.96,175.1 487.02,160.5 487.08,178.5 487.14,162.6 487.20,171.1 487.26,176.5 487.32,158.1 487.38,178.9 487.44,161.7 487.50,173.7 487.56,169.2 487.62,167.3 487.68,177.7 487.74,170.4 487.80,164.7 487.86,164.7 487.92,168.1 487.98,169.6 488.04,165.7 488.10,168.5 488.16,167.8 488.22,163.9 488.28,176.4 488.34,172.1 488.40,177.0 488.46,173.4 488.52,163.1 488.58,165.8 488.64,161.4 488.70,176.0 488.76,164.5 488.82,170.9 488.88,162.7 488.94,173.9 489.00,165.0 489.06,168.3 489.12,165.9 489.18,166.5 489.24,170.1 489.30,169.5 489.36,163.2 489.42,168.5 489.48,167.1 489.54,163.8 489.60,160.6 489.66,173.1 489.72,168.4 489.78,170.7 489.84,166.6 489.90,164.1 489.96,162.0 490.02,166.4 490.08,164.5 490.14,171.3 490.20,162.2 490.26,179.2 490.32,178.1 490.38,176.4 490.44,179.4 490.50,176.5 490.56,172.1 490.62,173.3 490.68,164.8 490.74,175.3 490.80,169.6 490.86,172.6 490.92,165.4 490.98,178.9 491.04,167.4 491.10,178.4 491.16,169.6 491.22,173.1 491.28,177.3 491.34,167.4 491.40,176.7 491.46,163.4 491.52,173.9 491.58,174.5 491.64,166.7 491.70,165.5 491.76,171.8 491.82,171.4 491.88,170.1 491.94,172.8 492.00,164.5 492.06,169.0 492.12,166.9 492.18,174.1 492.24,174.8 492.30,162.1 492.36,171.0 492.42,166.7 492.48,168.4 492.54,163.2 492.60,169.7 492.66,167.8 492.72,162.8 492.78,175.9 492.84,172.1 492.90,175.8 492.96,165.7 493.02,177.6 493.08,164.8 493.14,166.6 493.20,165.8 493.26,172.2 493.32,172.6 493.38,168.4 493.44,172.6 493.50,176.7 493.56,175.1 493.62,179.9 493.68,179.6 493.74,161.8 493.80,179.1 493.86,177.9 493.92,169.5 493.98,176.8 494.04,164.9 494.10,165.9 494.16,170.0 494.22,162.9 494.28,161.6 494.34,177.3 494.40,179.0 494.46,172.8 494.52,160.8 494.58,165.5 494.64,182.2 494.70,172.9 494.76,177.1 494.82,171.4 494.88,159.9 494.94,171.0 495.00,169.8 495.06,176.4 495.12,170.5 495.18,172.4 495.24,172.8 495.30,170.0 495.36,173.5 495.42,167.7 495.48,166.5 495.54,160.7 495.60,177.0 495.66,179.5 495.72,164.1 495.78,178.0 495.84,172.6 495.90,171.2 495.96,178.1 496.02,164.8 496.08,174.3 496.14,178.7 496.20,172.7 496.26,165.7 496.32,174.4 496.38,181.5 496.44,169.0 496.50,171.6 496.56,164.8 496.62,171.1 496.68,173.3 496.74,174.7 496.80,173.6 496.86,169.3 496.92,173.8 496.98,172.6 497.04,166.4 497.10,161.9 497.16,166.6 497.22,174.6 497.28,174.4 497.34,164.2 497.40,166.0 497.46,179.8 497.52,172.1 497.58,162.0 497.64,160.9 497.70,168.9 497.76,172.9 497.82,178.8 497.88,167.3 497.94,171.3 498.00,177.4 498.06,178.3 498.12,178.8 498.18,173.7 498.24,172.6 498.30,176.2 498.36,168.6 498.42,175.9 498.48,163.0 498.54,177.8 498.60,173.5 498.66,161.9 498.72,173.7 498.78,170.0 498.84,172.4 498.90,175.4 498.96,161.3 499.02,159.9 499.08,165.0 499.14,162.4 499.20,164.1 499.26,174.7 499.32,165.6 499.38,174.4 499.44,165.8 499.50,175.7 499.56,164.5 499.62,172.9 499.68,171.1 499.74,176.6 499.80,179.0 499.86,174.3 499.92,162.6 499.98,176.6" fill="none" stroke="#ef4242" stroke-width="1.2" stroke-linejoin="bevel"/>
<polyline points="63.00,338.0 63.06,337.7 63.12,344.4 63.18,336.8 63.24,341.4 63.30,342.1 63.36,336.2 63.42,335.2 63.48,337.0 63.54,343.5 63.60,339.3 63.66,336.1 63.72,339.5 63.78,342.8 63.84,340.0 63.90,341.5 63.96,345.8 64.02,341.6 64.08,338.1 64.14,336.5 64.20,338.2 64.26,340.5 64.32,344.2 64.38,342.1 64.44,338.6 64.50,345.9 64.56,339.8 64.62,343.1 64.68,334.8 64.74,336.3 64.80,335.8 64.86,345.1 64.92,342.3 64.98,345.2 65.04,342.4 65.10,339.7 65.16,340.4 65.22,342.5 65.28,345.9 65.34,338.9 65.40,344.9 65.46,341.9 65.52,344.3 65.58,339.4 65.64,342.1 65.70,337.7 65.76,339.6 65.82,336.5 65.88,335.7 65.94,334.2 66.00,341.3 66.06,339.2 66.12,344.3 66.18,344.1 66.24,339.8 66.30,346.6 66.36,338.8 66.42,346.1 66.48,340.4 66.54,335.6 66.60,336.6 66.66,335.6 66.72,343.2 66.78,334.7 66.84,335.4 66.90,344.0 66.96,336.0 67.02,339.6 67.08,338.8 67.14,340.0 67.20,340.1 67.26,345.1 67.32,342.6 67.38,342.0 67.44,341.4 67.50,339.7 67.56,347.2 67.62,337.1 67.68,342.1 67.74,340.2 67.80,334.3 67.86,336.9 67.92,344.3 67.98,342.7 68.04,333.4 68.10,336.6 68.16,334.6 68.22,342.4 68.28,335.6 68.34,335.9 68.40,345.2 68.46,339.4 68.52,339.1 68.58,335.4 68.64,338.0 68.70,338.5 68.76,340.2 68.82,335.4 68.88,337.7 68.94,336.2 69.00,340.0 69.06,338.6 69.12,342.0 69.18,335.9 69.24,343.9 69.30,344.7 69.36,334.2 69.42,335.6 69.48,341.4 69.54,343.5 69.60,334.9 69.66,334.3 69.72,340.3 69.78,340.6 69.84,345.3 69.90,344.0 69.96,344.1 70.02,334.5 70.08,345.9 70.14,340.8 70.20,336.0 70.26,337.9 70.32,341.6 70.38,340.2 70.44,339.0 70.50,341.0 70.56,346.0 70.62,342.8 70.68,344.1 70.74,338.4 70.80,345.5 70.86,339.4 70.92,344.5 70.98,334.3 71.04,344.6 71.10,340.4 71.16,343.3 71.22,337.0 71.28,340.9 71.34,337.0 71.40,335.6 71.46,335.3 71.52,344.9 71.58,343.2 71.64,336.5 71.70,338.0 71.76,338.9 71.82,342.9 71.88,335.5 71.94,347.1 72.00,344.4 72.06,337.1 72.12,342.2 72.18,339.4 72.24,343.0 72.30,335.5 72.36,339.9 72.42,342.0 72.48,343.2 72.54,343.7 72.60,344.2 72.66,336.2 72.72,336.1 72.78,339.9 72.84,342.3 72.90,345.5 72.96,341.8 73.02,342.3 73.08,346.2 73.14,337.4 73.20,339.6 73.26,338.9 73.32,336.0 73.38,344.2 73.44,346.6 73.50,335.3 73.56,339.6 73.62,341.2 73.68,341.0 73.74,344.9 73.80,343.5 73.86,343.6 73.92,335.5 73.98,338.0 74.04,334.3 74.10,343.3 74.16,346.8 74.22,334.6 74.28,343.6 74.34,342.0 74.40,344.7 74.46,336.3 74.52,344.4 74.58,337.5 74.64,335.8 74.70,342.6 74.76,334.3 74.82,342.4 74.88,336.9 74.94,339.9 75.00,344.1 75.06,337.8 75.12,339.4 75.18,339.4 75.24,337.9 75.30,339.7 75.36,336.4 75.42,343.9 75.48,340.7 75.54,338.3 75.60,346.6 75.66,337.0 75.72,342.9 75.78,343.0 75.84,337.2 75.90,334.5 75.96,344.4 76.02,346.2 76.08,336.2 76.14,337.8 76.20,339.8 76.26,342.5 76.32,345.3 76.38,345.6 76.44,347.2 76.50,337.3 76.56,341.0 76.62,341.2 76.68,336.2 76.74,336.3 76.80,336.5 76.86,340.3 76.92,336.1 76.98,336.2 77.04,336.9 77.10,341.5 77.16,342.9 77.22,338.2 77.28,341.0 77.34,339.7 77.40,342.7 77.46,345.4 77.52,339.4 77.58,342.3 77.64,336.9 77.70,346.3 77.76,341.9 77.82,335.4 77.88,337.9 77.94,335.4 78.00,336.5 78.06,337.7 78.12,344.1 78.18,340.4 78.24,338.8 78.30,339.4 78.36,338.1 78.42,342.9 78.48,335.9 78.54,339.1 78.60,339.9 78.66,336.3 78.72,344.1 78.78,336.8 78.84,338.4 78.90,333.8 78.96,344.5 79.02,338.3 79.08,341.9 79.14,337.3 79.20,337.0 79.26,337.6 79.32,343.0 79.38,343.2 79.44,338.7 79.50,344.2 79.56,336.2 79.62,341.1 79.68,337.5 79.74,340.3 79.80,337.6 79.86,345.6 79.92,338.7 79.98,346.2 80.04,336.6 80.10,340.6 80.16,338.8 80.22,343.4 80.28,339.2 80.34,340.4 80.40,336.4 80.46,338.1 80.52,341.6 80.58,335.5 80.64,340.7 80.70,338.4 80.76,337.1 80.82,335.8 80.88,344.6 80.94,343.3 81.00,339.6 81.06,339.5 81.12,343.5 81.18,341.4 81.24,345.8 81.30,345.4 81.36,341.1 81.42,342.4 81.48,339.4 81.54,338.5 81.60,340.9 81.66,343.4 81.72,342.5 81.78,341.7 81.84,341.8 81.90,346.3 81.96,345.2 82.02,337.6 82.08,343.2 82.14,344.9 82.20,345.0 82.26,340.0 82.32,340.3 82.38,337.3 82.44,336.4 82.50,340.3 82.56,346.2 82.62,344.9 82.68,342.3 82.74,346.5 82.80,342.7 82.86,337.9 82.92,344.7 82.98,338.0 83.04,346.3 83.10,339.6 83.16,336.4 83.22,344.9 83.28,335.8 83.34,346.4 83.40,339.8 83.46,345.4 83.52,335.1 83.58,340.7 83.64,344.0 83.70,336.0 83.76,342.4 83.82,336.8 83.88,339.3 83.94,340.8 84.00,342.2 84.06,338.3 84.12,338.3 84.18,344.7 84.24,344.6 84.30,340.5 84.36,339.8 84.42,343.2 84.48,340.8 84.54,340.3 84.60,345.2 84.66,336.2 84.72,345.0 84.78,341.9 84.84,342.6 84.90,344.3 84.96,342.5 85.02,346.2 85.08,346.7 85.14,340.1 85.20,336.7 85.26,344.3 85.32,338.2 85.38,338.9 85.44,344.1 85.50,347.0 85.56,343.7 85.62,341.8 85.68,338.7 85.74,345.8 85.80,343.8 85.86,342.8 85.92,336.5 85.98,338.6 86.04,336.0 86.10,347.6 86.16,338.3 86.22,336.4 86.28,343.4 86.34,338.9 86.40,342.1 86.46,346.6 86.52,344.8 86.58,339.4 86.64,346.9 86.70,341.6 86.76,340.7 86.82,339.4 86.88,345.8 86.94,339.6 87.00,344.4 87.06,343.4 87.12,344.0 87.18,337.7 87.24,342.2 87.30,346.6 87.36,341.9 87.42,339.1 87.48,335.1 87.54,339.1 87.60,342.2 87.66,336.8 87.72,337.2 87.78,344.2 87.84,345.8 87.90,340.9 87.96,343.9 88.02,339.7 88.08,339.2 88.14,341.0 88.20,340.1 88.26,341.1 88.32,338.1 88.38,344.4 88.44,343.6 88.50,338.6 88.56,338.8 88.62,343.3 88.68,339.8 88.74,339.8 88.80,336.6 88.86,343.5 88.92,342.4 88.98,344.7 89.04,337.7 89.10,345.5 89.16,344.8 89.22,345.4 89.28,345.5 89.34,341.8 89.40,338.0 89.46,343.2 89.52,337.8 89.58,338.5 89.64,340.4 89.70,338.5 89.76,339.7 89.82,345.5 89.88,338.9 89.94,345.7 90.00,346.5 90.06,337.4 90.12,341.7 90.18,345.0 90.24,344.9 90.30,340.4 90.36,345.9 90.42,341.1 90.48,339.6 90.54,342.5 90.60,342.6 90.66,345.9 90.72,345.0 90.78,337.6 90.84,342.2 90.90,339.6 90.96,344.9 91.02,337.0 91.08,344.0 91.14,343.6 91.20,336.6 91.26,338.5 91.32,347.6 91.38,347.8 91.44,338.3 91.50,346.4 91.56,341.5 91.62,343.5 91.68,341.7 91.74,340.7 91.80,346.5 91.86,343.2 91.92,346.7 91.98,343.9 92.04,345.9 92.10,343.3 92.16,342.2 92.22,342.6 92.28,338.4 92.34,345.0 92.40,339.9 92.46,348.2 92.52,338.3 92.58,344.6 92.64,346.0 92.70,342.9 92.76,339.0 92.82,345.8 92.88,339.5 92.94,340.1 93.00,345.2 93.06,347.3 93.12,338.8 93.18,341.3 93.24,343.0 93.30,341.1 93.36,348.1 93.42,344.3 93.48,337.6 93.54,338.5 93.60,339.0 93.66,341.3 93.72,346.5 93.78,339.1 93.84,340.0 93.90,341.9 93.96,343.5 94.02,341.3 94.08,341.8 94.14,340.0 94.20,345.0 94.26,342.9 94.32,346.3 94.38,339.6 94.44,343.3 94.50,341.9 94.56,346.1 94.62,345.1 94.68,343.0 94.74,340.7 94.80,345.2 94.86,347.8 94.92,345.0 94.98,348.3 95.04,344.0 95.10,342.2 95.16,339.2 95.22,345.9 95.28,346.1 95.34,343.6 95.40,347.1 95.46,342.1 95.52,346.2 95.58,344.5 95.64,339.8 95.70,344.4 95.76,344.5 95.82,341.1 95.88,347.7 95.94,346.8 96.00,339.4 96.06,340.6 96.12,337.4 96.18,347.0 96.24,339.7 96.30,346.5 96.36,343.8 96.42,338.7 96.48,339.9 96.54,341.1 96.60,344.6 96.66,340.1 96.72,339.3 96.78,348.1 96.84,342.8 96.90,339.1 96.96,348.4 97.02,345.0 97.08,344.6 97.14,339.5 97.20,345.3 97.26,338.8 97.32,348.3 97.38,345.5 97.44,344.7 97.50,345.6 97.56,346.2 97.62,343.0 97.68,346.4 97.74,339.4 97.80,345.0 97.86,344.9 97.92,340.5 97.98,339.2 98.04,346.5 98.10,346.9 98.16,339.4 98.22,344.4 98.28,339.7 98.34,340.3 98.40,346.7 98.46,343.4 98.52,345.4 98.58,340.8 98.64,345.1 98.70,344.3 98.76,341.6 98.82,343.6 98.88,342.0 98.94,343.0 99.00,340.0 99.06,342.1 99.12,346.6 99.18,343.8 99.24,344.6 99.30,339.4 99.36,347.0 99.42,344.9 99.48,347.6 99.54,347.7 99.60,348.2 99.66,343.3 99.72,345.0 99.78,338.5 99.84,338.3 99.90,345.7 99.96,343.5 100.02,349.2 100.08,341.7 100.14,343.7 100.20,346.3 100.26,344.5 100.32,346.6 100.38,341.4 100.44,346.4 100.50,346.1 100.56,347.5 100.62,342.8 100.68,346.7 100.74,341.1 100.80,344.2 100.86,347.5 100.92,345.0 100.98,343.3 101.04,340.8 101.10,343.0 101.16,343.6 101.22,345.0 101.28,344.1 101.34,341.3 101.40,340.2 101.46,348.7 101.52,346.1 101.58,340.4 101.64,342.2 101.70,345.4 101.76,341.1 101.82,347.2 101.88,342.8 101.94,345.4 102.00,345.9 102.06,339.3 102.12,348.9 102.18,347.1 102.24,339.5 102.30,343.0 102.36,343.9 102.42,341.0 102.48,342.0 102.54,341.7 102.60,345.6 102.66,343.0 102.72,338.5 102.78,340.4 102.84,339.8 102.90,346.0 102.96,344.3 103.02,342.1 103.08,342.8 103.14,344.0 103.20,341.3 103.26,338.5 103.32,348.3 103.38,340.3 103.44,342.0 103.50,345.2 103.56,347.6 103.62,339.6 103.68,343.1 103.74,346.9 103.80,338.8 103.86,340.7 103.92,343.5 103.98,346.7 104.04,339.5 104.10,342.1 104.16,343.5 104.22,344.9 104.28,343.4 104.34,348.1 104.40,349.6 104.46,340.5 104.52,340.7 104.58,342.7 104.64,340.9 104.70,340.0 104.76,344.2 104.82,348.1 104.88,341.3 104.94,340.2 105.00,344.0 105.06,341.1 105.12,338.6 105.18,339.1 105.24,348.4 105.30,340.6 105.36,343.8 105.42,343.0 105.48,346.4 105.54,343.1 105.60,341.0 105.66,342.1 105.72,340.8 105.78,341.8 105.84,341.2 105.90,341.7 105.96,344.0 106.02,344.4 106.08,339.5 106.14,342.3 106.20,347.7 106.26,347.9 106.32,342.0 106.38,340.5 106.44,341.1 106.50,340.0 106.56,341.9 106.62,347.4 106.68,348.5 106.74,342.2 106.80,343.0 106.86,346.1 106.92,345.3 106.98,345.0 107.04,345.4 107.10,345.5 107.16,341.4 107.22,346.1 107.28,346.2 107.34,340.3 107.40,340.5 107.46,345.3 107.52,342.8 107.58,347.7 107.64,341.4 107.70,344.9 107.76,345.0 107.82,340.3 107.88,339.7 107.94,342.6 108.00,340.3 108.06,339.9 108.12,340.7 108.18,344.0 108.24,339.5 108.30,345.0 108.36,342.9 108.42,341.8 108.48,340.5 108.54,347.5 108.60,340.3 108.66,347.8 108.72,344.0 108.78,348.0 108.84,344.0 108.90,341.8 108.96,342.5 109.02,348.4 109.08,343.6 109.14,342.2 109.20,340.5 109.26,340.8 109.32,343.4 109.38,343.9 109.44,346.9 109.50,341.8 109.56,343.0 109.62,340.5 109.68,340.7 109.74,343.9 109.80,346.3 109.86,339.2 109.92,340.7 109.98,346.0 110.04,344.5 110.10,338.6 110.16,346.0 110.22,347.9 110.28,348.0 110.34,348.0 110.40,345.4 110.46,342.1 110.52,347.6 110.58,344.3 110.64,339.3 110.70,341.9 110.76,347.9 110.82,344.0 110.88,344.0 110.94,346.1 111.00,345.3 111.06,340.3 111.12,343.4 111.18,346.4 111.24,340.3 111.30,343.8 111.36,339.9 111.42,340.7 111.48,347.2 111.54,342.2 111.60,346.6 111.66,346.3 111.72,344.0 111.78,340.6 111.84,343.7 111.90,347.3 111.96,343.5 112.02,340.3 112.08,344.4 112.14,342.9 112.20,344.7 112.26,342.3 112.32,346.3 112.38,345.1 112.44,347.9 112.50,348.1 112.56,348.1 112.62,346.0 112.68,338.6 112.74,338.8 112.80,341.7 112.86,344.9 112.92,342.2 112.98,342.3 113.04,348.6 113.10,343.0 113.16,341.7 113.22,344.6 113.28,347.5 113.34,345.3 113.40,349.0 113.46,339.5 113.52,346.3 113.58,343.3 113.64,343.7 113.70,343.4 113.76,342.0 113.82,346.8 113.88,342.6 113.94,343.4 114.00,342.1 114.06,344.8 114.12,345.2 114.18,340.3 114.24,347.0 114.30,345.6 114.36,340.5 114.42,344.3 114.48,347.3 114.54,347.7 114.60,342.6 114.66,342.5 114.72,348.0 114.78,346.4 114.84,345.1 114.90,341.9 114.96,347.4 115.02,340.4 115.08,347.8 115.14,347.7 115.20,344.1 115.26,342.2 115.32,346.5 115.38,342.9 115.44,343.9 115.50,342.6 115.56,346.7 115.62,342.1 115.68,344.4 115.74,344.2 115.80,348.8 115.86,339.9 115.92,345.0 115.98,341.4 116.04,349.2 116.10,340.3 116.16,348.3 116.22,346.0 116.28,342.5 116.34,343.1 116.40,342.3 116.46,343.5 116.52,346.7 116.58,343.8 116.64,349.6 116.70,348.8 116.76,341.7 116.82,340.4 116.88,346.8 116.94,343.2 117.00,342.5 117.06,348.6 117.12,346.0 117.18,342.6 117.24,344.9 117.30,344.6 117.36,347.0 117.42,343.5 117.48,343.8 117.54,340.6 117.60,348.8 117.66,349.0 117.72,339.5 117.78,346.8 117.84,348.6 117.90,348.1 117.96,347.0 118.02,341.8 118.08,349.1 118.14,344.1 118.20,347.6 118.26,347.0 118.32,344.7 118.38,348.1 118.44,348.6 118.50,343.3 118.56,342.8 118.62,347.5 118.68,343.9 118.74,347.5 118.80,341.9 118.86,341.7 118.92,343.7 118.98,343.4 119.04,345.2 119.10,342.4 119.16,341.4 119.22,344.1 119.28,340.7 119.34,341.6 119.40,344.7 119.46,348.6 119.52,343.0 119.58,346.3 119.64,349.4 119.70,344.4 119.76,342.3 119.82,346.7 119.88,347.3 119.94,342.5 120.00,346.5 120.06,344.5 120.12,343.8 120.18,345.6 120.24,344.7 120.30,343.0 120.36,342.0 120.42,340.4 120.48,348.3 120.54,346.6 120.60,349.5 120.66,342.8 120.72,344.1 120.78,343.7 120.84,342.4 120.90,345.4 120.96,346.2 121.02,344.6 121.08,343.8 121.14,343.7 121.20,341.2 121.26,346.6 121.32,341.6 121.38,341.3 121.44,348.7 121.50,347.9 121.56,342.5 121.62,344.6 121.68,342.1 121.74,349.9 121.80,342.7 121.86,347.3 121.92,346.6 121.98,339.8 122.04,341.2 122.10,344.7 122.16,339.2 122.22,349.1 122.28,348.5 122.34,346.1 122.40,342.3 122.46,343.1 122.52,340.5 122.58,344.9 122.64,342.0 122.70,341.6 122.76,347.1 122.82,347.4 122.88,346.4 122.94,349.7 123.00,346.1 123.06,344.7 123.12,343.9 123.18,341.4 123.24,347.6 123.30,344.8 123.36,349.6 123.42,344.6 123.48,348.6 123.54,346.6 123.60,345.6 123.66,347.2 123.72,346.7 123.78,341.3 123.84,347.3 123.90,341.1 123.96,344.9 124.02,344.5 124.08,347.5 124.14,342.8 124.20,345.4 124.26,346.7 124.32,343.4 124.38,345.6 124.44,343.0 124.50,347.6 124.56,349.6 124.62,344.8 124.68,340.2 124.74,347.9 124.80,345.4 124.86,341.5 124.92,346.9 124.98,344.5 125.04,340.8 125.10,343.9 125.16,346.1 125.22,342.6 125.28,342.3 125.34,341.9 125.40,343.3 125.46,347.2 125.52,343.1 125.58,343.7 125.64,347.4 125.70,344.9 125.76,349.1 125.82,347.4 125.88,348.5 125.94,344.7 126.00,346.7 126.06,350.1 126.12,340.5 126.18,345.5 126.24,346.2 126.30,342.1 126.36,340.4 126.42,344.4 126.48,341.1 126.54,342.3 126.60,342.3 126.66,346.6 126.72,341.2 126.78,348.6 126.84,345.1 126.90,343.8 126.96,341.4 127.02,345.2 127.08,342.9 127.14,348.6 127.20,344.6 127.26,340.9 127.32,348.7 127.38,348.9 127.44,349.2 127.50,342.3 127.56,345.8 127.62,346.5 127.68,341.0 127.74,343.6 127.80,342.7 127.86,347.6 127.92,339.4 127.98,348.2 128.04,340.9 128.10,349.6 128.16,344.9 128.22,342.4 128.28,343.9 128.34,348.0 128.40,342.8 128.46,348.1 128.52,348.4 128.58,342.9 128.64,345.9 128.70,345.5 128.76,347.6 128.82,342.2 128.88,344.1 128.94,346.7 129.00,340.9 129.06,342.3 129.12,346.7 129.18,346.5 129.24,347.0 129.30,348.5 129.36,343.0 129.42,347.7 129.48,342.8 129.54,348.9 129.60,346.7 129.66,346.4 129.72,345.4 129.78,347.1 129.84,343.5 129.90,347.2 129.96,342.0 130.02,346.2 130.08,350.1 130.14,347.1 130.20,342.3 130.26,349.5 130.32,345.4 130.38,343.5 130.44,343.1 130.50,344.4 130.56,344.8 130.62,348.2 130.68,347.3 130.74,340.9 130.80,347.3 130.86,345.4 130.92,349.6 130.98,343.0 131.04,347.7 131.10,344.4 131.16,339.7 131.22,341.7 131.28,348.5 131.34,340.2 131.40,341.9 131.46,343.6 131.52,342.6 131.58,345.4 131.64,342.3 131.70,346.7 131.76,344.4 131.82,346.4 131.88,349.7 131.94,341.8 132.00,343.0 132.06,342.3 132.12,341.6 132.18,345.0 132.24,345.2 132.30,340.8 132.36,347.5 132.42,346.3 132.48,344.4 132.54,348.2 132.60,344.5 132.66,349.4 132.72,347.6 132.78,343.3 132.84,350.0 132.90,346.7 132.96,343.5 133.02,346.1 133.08,347.1 133.14,348.5 133.20,349.0 133.26,349.4 133.32,343.6 133.38,340.9 133.44,341.1 133.50,343.4 133.56,341.3 133.62,344.6 133.68,341.0 133.74,343.0 133.80,342.7 133.86,347.9 133.92,345.5 133.98,340.9 134.04,347.5 134.10,348.1 134.16,346.6 134.22,339.3 134.28,348.6 134.34,341.7 134.40,347.4 134.46,349.5 134.52,345.1 134.58,340.5 134.64,343.1 134.70,340.9 134.76,347.2 134.82,339.6 134.88,343.3 134.94,347.0 135.00,346.9 135.06,343.8 135.12,340.5 135.18,348.6 135.24,343.1 135.30,344.9 135.36,338.5 135.42,342.8 135.48,348.4 135.54,347.2 135.60,346.5 135.66,345.8 135.72,339.9 135.78,343.0 135.84,348.5 135.90,340.8 135.96,345.5 136.02,342.5 136.08,347.0 136.14,340.7 136.20,341.4 136.26,345.6 136.32,342.7 136.38,347.3 136.44,348.7 136.50,340.3 136.56,341.0 136.62,340.9 136.68,343.8 136.74,340.7 136.80,345.2 136.86,342.7 136.92,343.5 136.98,347.2 137.04,347.2 137.10,339.7 137.16,340.3 137.22,343.0 137.28,344.6 137.34,340.0 137.40,345.6 137.46,347.3 137.52,343.4 137.58,340.0 137.64,346.5 137.70,338.8 137.76,338.5 137.82,343.9 137.88,342.8 137.94,349.4 138.00,342.4 138.06,339.8 138.12,342.0 138.18,348.3 138.24,346.6 138.30,338.2 138.36,341.1 138.42,348.4 138.48,344.5 138.54,343.6 138.60,338.9 138.66,341.3 138.72,338.7 138.78,347.3 138.84,347.6 138.90,344.4 138.96,347.6 139.02,340.2 139.08,341.3 139.14,344.4 139.20,345.2 139.26,344.4 139.32,340.3 139.38,347.5 139.44,340.1 139.50,345.5 139.56,347.3 139.62,340.4 139.68,343.4 139.74,344.2 139.80,348.3 139.86,346.1 139.92,343.5 139.98,344.5 140.04,344.3 140.10,339.1 140.16,340.6 140.22,345.3 140.28,345.7 140.34,343.1 140.40,341.3 140.46,339.5 140.52,345.3 140.58,340.5 140.64,345.6 140.70,348.0 140.76,346.2 140.82,346.1 140.88,339.4 140.94,346.4 141.00,348.2 141.06,341.9 141.12,346.8 141.18,343.8 141.24,346.4 141.30,345.3 141.36,341.9 141.42,344.2 141.48,338.8 141.54,339.0 141.60,340.2 141.66,345.9 141.72,343.1 141.78,347.4 141.84,344.3 141.90,347.4 141.96,346.5 142.02,343.3 142.08,339.8 142.14,342.1 142.20,342.0 142.26,338.9 142.32,338.4 142.38,349.4 142.44,345.8 142.50,342.9 142.56,339.0 142.62,340.6 142.68,343.4 142.74,348.3 142.80,339.1 142.86,344.5 142.92,347.3 142.98,346.6 143.04,344.2 143.10,345.1 143.16,344.6 143.22,337.5 143.28,339.8 143.34,347.4 143.40,338.7 143.46,340.6 143.52,344.1 143.58,345.5 143.64,342.3 143.70,343.6 143.76,347.9 143.82,347.0 143.88,336.4 143.94,343.4 144.00,337.5 144.06,347.6 144.12,344.5 144.18,347.3 144.24,343.1 144.30,337.5 144.36,339.4 144.42,339.1 144.48,346.5 144.54,347.7 144.60,342.1 144.66,346.6 144.72,340.3 144.78,342.6 144.84,341.5 144.90,343.0 144.96,337.3 145.02,338.2 145.08,340.3 145.14,343.0 145.20,341.5 145.26,347.5 145.32,343.4 145.38,339.7 145.44,337.9 145.50,343.3 145.56,345.9 145.62,337.7 145.68,342.2 145.74,346.4 145.80,345.4 145.86,338.8 145.92,342.5 145.98,345.7 146.04,343.1 146.10,335.9 146.16,339.5 146.22,339.6 146.28,340.9 146.34,346.5 146.40,345.0 146.46,346.0 146.52,345.2 146.58,346.1 146.64,340.1 146.70,345.2 146.76,342.1 146.82,346.4 146.88,339.2 146.94,344.6 147.00,341.9 147.06,346.0 147.12,339.9 147.18,340.7 147.24,343.7 147.30,344.7 147.36,344.5 147.42,338.8 147.48,341.0 147.54,345.6 147.60,344.7 147.66,345.7 147.72,340.2 147.78,344.7 147.84,340.2 147.90,343.0 147.96,345.0 148.02,343.2 148.08,337.7 148.14,339.4 148.20,343.4 148.26,342.9 148.32,344.1 148.38,344.1 148.44,343.4 148.50,346.3 148.56,347.2 148.62,338.5 148.68,345.1 148.74,344.4 148.80,337.1 148.86,340.3 148.92,341.7 148.98,341.2 149.04,347.1 149.10,334.5 149.16,335.5 149.22,343.6 149.28,339.2 149.34,340.8 149.40,337.2 149.46,345.0 149.52,341.5 149.58,336.0 149.64,344.6 149.70,339.3 149.76,338.4 149.82,335.8 149.88,333.1 149.94,345.7 150.00,337.1 150.06,335.7 150.12,341.7 150.18,336.0 150.24,342.2 150.30,341.6 150.36,341.8 150.42,339.8 150.48,337.3 150.54,343.4 150.60,345.5 150.66,340.6 150.72,345.3 150.78,334.9 150.84,341.7 150.90,335.5 150.96,338.1 151.02,336.6 151.08,345.6 151.14,335.9 151.20,336.9 151.26,338.7 151.32,339.0 151.38,343.0 151.44,336.2 151.50,334.9 151.56,336.4 151.62,344.9 151.68,344.9 151.74,344.6 151.80,340.4 151.86,333.5 151.92,340.6 151.98,337.7 152.04,336.0 152.10,337.6 152.16,343.1 152.22,340.1 152.28,341.2 152.34,339.8 152.40,340.9 152.46,338.7 152.52,343.4 152.58,341.9 152.64,342.3 152.70,337.0 152.76,335.2 152.82,343.3 152.88,340.3 152.94,342.3 153.00,337.2 153.06,333.4 153.12,342.8 153.18,335.6 153.24,342.0 153.30,333.9 153.36,334.7 153.42,333.0 153.48,335.8 153.54,343.2 153.60,332.6 153.66,336.5 153.72,340.5 153.78,339.3 153.84,341.4 153.90,340.2 153.96,335.6 154.02,333.8 154.08,342.4 154.14,335.9 154.20,334.5 154.26,337.0 154.32,334.6 154.38,341.5 154.44,336.1 154.50,339.4 154.56,337.2 154.62,339.3 154.68,342.8 154.74,339.9 154.80,332.5 154.86,341.0 154.92,336.6 154.98,334.7 155.04,343.4 155.10,336.2 155.16,336.8 155.22,337.6 155.28,343.0 155.34,339.9 155.40,338.7 155.46,332.7 155.52,332.6 155.58,333.4 155.64,345.3 155.70,337.0 155.76,338.3 155.82,341.0 155.88,339.0 155.94,332.7 156.00,341.1 156.06,334.5 156.12,337.2 156.18,331.9 156.24,339.1 156.30,342.1 156.36,336.2 156.42,332.1 156.48,336.0 156.54,334.9 156.60,334.8 156.66,340.9 156.72,338.5 156.78,339.3 156.84,335.9 156.90,340.1 156.96,338.6 157.02,339.1 157.08,333.2 157.14,342.4 157.20,338.1 157.26,343.8 157.32,341.8 157.38,336.3 157.44,338.6 157.50,337.1 157.56,340.2 157.62,343.1 157.68,332.5 157.74,343.3 157.80,335.6 157.86,333.1 157.92,340.7 157.98,334.7 158.04,337.0 158.10,334.1 158.16,332.7 158.22,337.6 158.28,334.2 158.34,342.9 158.40,332.9 158.46,333.9 158.52,342.1 158.58,333.9 158.64,340.1 158.70,332.0 158.76,341.9 158.82,337.6 158.88,341.0 158.94,340.8 159.00,339.4 159.06,335.8 159.12,337.7 159.18,341.6 159.24,335.8 159.30,339.6 159.36,332.9 159.42,342.6 159.48,339.5 159.54,332.6 159.60,334.8 159.66,335.4 159.72,331.2 159.78,337.9 159.84,338.9 159.90,337.0 159.96,336.6 160.02,335.0 160.08,340.8 160.14,334.7 160.20,330.9 160.26,341.5 160.32,332.2 160.38,338.6 160.44,337.7 160.50,342.1 160.56,341.5 160.62,334.4 160.68,338.5 160.74,331.9 160.80,336.2 160.86,332.6 160.92,335.2 160.98,336.6 161.04,340.6 161.10,338.0 161.16,338.3 161.22,337.4 161.28,336.4 161.34,343.6 161.40,335.3 161.46,331.4 161.52,333.1 161.58,340.7 161.64,334.4 161.70,340.2 161.76,338.3 161.82,342.8 161.88,333.3 161.94,343.1 162.00,333.5 162.06,335.9 162.12,343.5 162.18,335.5 162.24,338.0 162.30,335.1 162.36,331.2 162.42,335.7 162.48,331.6 162.54,330.8 162.60,336.4 162.66,334.5 162.72,342.3 162.78,334.7 162.84,334.3 162.90,334.1 162.96,342.8 163.02,340.1 163.08,338.1 163.14,331.4 163.20,336.3 163.26,329.9 163.32,331.2 163.38,336.0 163.44,329.4 163.50,329.5 163.56,336.0 163.62,338.6 163.68,332.3 163.74,338.7 163.80,332.5 163.86,335.5 163.92,332.4 163.98,339.6 164.04,335.7 164.10,336.9 164.16,330.5 164.22,331.3 164.28,330.2 164.34,340.3 164.40,341.5 164.46,341.3 164.52,338.7 164.58,339.6 164.64,337.9 164.70,338.2 164.76,329.4 164.82,329.8 164.88,329.8 164.94,340.2 165.00,337.5 165.06,330.7 165.12,331.7 165.18,327.7 165.24,341.5 165.30,339.6 165.36,338.5 165.42,336.5 165.48,337.0 165.54,334.7 165.60,329.6 165.66,336.0 165.72,335.9 165.78,335.7 165.84,329.0 165.90,342.5 165.96,335.8 166.02,336.6 166.08,330.8 166.14,334.1 166.20,336.8 166.26,330.8 166.32,335.2 166.38,336.3 166.44,339.6 166.50,333.7 166.56,335.0 166.62,340.2 166.68,335.6 166.74,326.4 166.80,327.0 166.86,330.9 166.92,333.8 166.98,336.3 167.04,331.2 167.10,332.6 167.16,327.7 167.22,338.6 167.28,332.3 167.34,338.3 167.40,341.2 167.46,338.1 167.52,334.4 167.58,326.3 167.64,331.9 167.70,331.6 167.76,328.3 167.82,327.4 167.88,337.6 167.94,336.6 168.00,326.9 168.06,324.2 168.12,336.3 168.18,333.6 168.24,327.6 168.30,326.4 168.36,326.4 168.42,332.7 168.48,338.9 168.54,335.7 168.60,326.7 168.66,328.8 168.72,330.2 168.78,333.4 168.84,327.6 168.90,330.0 168.96,331.9 169.02,332.3 169.08,334.8 169.14,332.1 169.20,324.7 169.26,324.7 169.32,330.5 169.38,328.3 169.44,338.3 169.50,328.9 169.56,337.3 169.62,324.0 169.68,336.5 169.74,333.2 169.80,337.8 169.86,332.9 169.92,335.5 169.98,337.9 170.04,326.8 170.10,329.5 170.16,324.1 170.22,325.8 170.28,337.2 170.34,323.6 170.40,327.2 170.46,324.7 170.52,333.1 170.58,322.9 170.64,332.9 170.70,322.6 170.76,334.8 170.82,321.8 170.88,330.7 170.94,337.3 171.00,329.3 171.06,329.7 171.12,334.9 171.18,327.6 171.24,323.0 171.30,330.5 171.36,334.4 171.42,323.5 171.48,328.9 171.54,333.2 171.60,323.9 171.66,325.3 171.72,323.5 171.78,322.1 171.84,333.7 171.90,330.2 171.96,330.6 172.02,332.1 172.08,334.2 172.14,328.4 172.20,333.7 172.26,316.2 172.32,324.4 172.38,323.1 172.44,329.8 172.50,331.2 172.56,334.3 172.62,333.9 172.68,332.7 172.74,330.1 172.80,326.3 172.86,328.0 172.92,319.3 172.98,327.3 173.04,330.2 173.10,320.3 173.16,324.6 173.22,319.6 173.28,317.0 173.34,324.5 173.40,322.9 173.46,320.7 173.52,329.0 173.58,330.4 173.64,334.8 173.70,331.3 173.76,317.9 173.82,317.7 173.88,334.1 173.94,321.1 174.00,321.2 174.06,326.1 174.12,330.8 174.18,323.5 174.24,316.5 174.30,323.6 174.36,335.8 174.42,321.6 174.48,324.6 174.54,321.3 174.60,315.3 174.66,321.3 174.72,322.4 174.78,331.3 174.84,319.5 174.90,331.0 174.96,318.9 175.02,321.2 175.08,323.6 175.14,334.3 175.20,322.3 175.26,320.4 175.32,317.8 175.38,318.4 175.44,328.9 175.50,328.2 175.56,324.0 175.62,330.8 175.68,317.9 175.74,325.8 175.80,320.6 175.86,323.5 175.92,320.2 175.98,317.3 176.04,318.1 176.10,317.4 176.16,324.9 176.22,331.7 176.28,316.3 176.34,327.6 176.40,325.4 176.46,320.3 176.52,317.0 176.58,318.4 176.64,331.3 176.70,325.5 176.76,329.2 176.82,316.4 176.88,312.5 176.94,321.2 177.00,314.7 177.06,319.5 177.12,324.8 177.18,329.4 177.24,324.4 177.30,314.1 177.36,314.4 177.42,314.6 177.48,322.0 177.54,322.5 177.60,323.1 177.66,329.6 177.72,317.0 177.78,322.0 177.84,326.2 177.90,322.7 177.96,319.7 178.02,312.5 178.08,313.5 178.14,327.0 178.20,315.9 178.26,313.8 178.32,325.7 178.38,322.5 178.44,317.8 178.50,321.3 178.56,313.1 178.62,319.4 178.68,316.1 178.74,314.1 178.80,323.7 178.86,317.4 178.92,316.3 178.98,316.7 179.04,321.9 179.10,324.9 179.16,322.3 179.22,313.4 179.28,310.5 179.34,322.0 179.40,313.6 179.46,315.1 179.52,325.4 179.58,313.1 179.64,314.8 179.70,311.1 179.76,318.1 179.82,318.2 179.88,315.3 179.94,324.8 180.00,317.2 180.06,311.3 180.12,321.4 180.18,321.2 180.24,313.2 180.30,321.2 180.36,320.8 180.42,314.4 180.48,326.9 180.54,321.5 180.60,306.7 180.66,313.4 180.72,304.9 180.78,320.9 180.84,308.1 180.90,315.3 180.96,316.3 181.02,308.0 181.08,321.8 181.14,326.5 181.20,325.9 181.26,313.5 181.32,309.1 181.38,308.4 181.44,322.7 181.50,320.9 181.56,307.6 181.62,308.6 181.68,320.2 181.74,310.7 181.80,312.7 181.86,318.6 181.92,320.1 181.98,313.5 182.04,320.1 182.10,311.0 182.16,311.9 182.22,314.7 182.28,315.1 182.34,308.0 182.40,316.4 182.46,316.5 182.52,304.0 182.58,313.8 182.64,310.1 182.70,312.6 182.76,313.8 182.82,314.8 182.88,310.2 182.94,313.2 183.00,318.3 183.06,304.4 183.12,317.1 183.18,303.4 183.24,300.2 183.30,319.1 183.36,301.7 183.42,300.6 183.48,315.4 183.54,305.0 183.60,310.2 183.66,309.4 183.72,309.3 183.78,314.4 183.84,308.9 183.90,315.6 183.96,305.2 184.02,302.7 184.08,315.5 184.14,317.2 184.20,315.9 184.26,299.9 184.32,306.4 184.38,310.1 184.44,306.7 184.50,313.0 184.56,313.1 184.62,309.4 184.68,312.8 184.74,303.9 184.80,303.9 184.86,311.5 184.92,297.6 184.98,303.5 185.04,305.3 185.10,299.3 185.16,305.3 185.22,307.6 185.28,302.5 185.34,295.6 185.40,296.1 185.46,303.1 185.52,294.8 185.58,306.6 185.64,301.9 185.70,292.7 185.76,303.1 185.82,303.9 185.88,303.8 185.94,300.7 186.00,302.8 186.06,291.8 186.12,293.3 186.18,300.6 186.24,299.6 186.30,291.9 186.36,297.8 186.42,288.6 186.48,299.1 186.54,299.4 186.60,287.8 186.66,300.7 186.72,289.2 186.78,289.7 186.84,290.4 186.90,301.4 186.96,289.4 187.02,299.5 187.08,301.1 187.14,293.0 187.20,295.2 187.26,296.9 187.32,293.2 187.38,280.6 187.44,287.7 187.50,287.3 187.56,280.8 187.62,291.0 187.68,284.0 187.74,280.8 187.80,280.8 187.86,285.5 187.92,288.7 187.98,297.8 188.04,278.4 188.10,288.1 188.16,280.5 188.22,293.1 188.28,283.4 188.34,290.3 188.40,286.6 188.46,291.1 188.52,294.8 188.58,284.9 188.64,285.1 188.70,281.1 188.76,282.8 188.82,293.8 188.88,277.2 188.94,285.9 189.00,280.7 189.06,288.6 189.12,279.2 189.18,277.3 189.24,284.3 189.30,282.9 189.36,274.3 189.42,271.3 189.48,279.9 189.54,272.5 189.60,283.5 189.66,279.3 189.72,281.3 189.78,287.2 189.84,277.2 189.90,285.4 189.96,275.3 190.02,269.4 190.08,276.7 190.14,273.1 190.20,274.4 190.26,273.8 190.32,282.9 190.38,280.9 190.44,278.7 190.50,268.6 190.56,277.2 190.62,277.2 190.68,265.0 190.74,280.4 190.80,269.8 190.86,277.8 190.92,270.2 190.98,269.2 191.04,273.2 191.10,273.1 191.16,264.2 191.22,272.8 191.28,257.1 191.34,262.0 191.40,262.0 191.46,252.2 191.52,270.8 191.58,263.7 191.64,257.0 191.70,265.4 191.76,257.1 191.82,256.1 191.88,255.1 191.94,254.1 192.00,250.0 192.06,268.8 192.12,251.2 192.18,255.0 192.24,254.7 192.30,257.0 192.36,262.6 192.42,244.5 192.48,262.5 192.54,245.0 192.60,246.8 192.66,249.7 192.72,252.2 192.78,253.7 192.84,243.4 192.90,260.9 192.96,256.2 193.02,251.7 193.08,255.8 193.14,243.5 193.20,251.2 193.26,246.3 193.32,237.2 193.38,253.4 193.44,240.3 193.50,235.9 193.56,237.9 193.62,249.4 193.68,245.7 193.74,249.1 193.80,238.7 193.86,235.1 193.92,249.1 193.98,235.0 194.04,229.4 194.10,244.8 194.16,230.0 194.22,240.8 194.28,235.0 194.34,245.5 194.40,237.1 194.46,241.1 194.52,231.3 194.58,225.4 194.64,233.2 194.70,225.7 194.76,228.0 194.82,228.9 194.88,227.8 194.94,227.8 195.00,229.5 195.06,236.7 195.12,220.2 195.18,239.8 195.24,223.5 195.30,236.0 195.36,239.4 195.42,234.1 195.48,230.0 195.54,223.3 195.60,241.7 195.66,233.6 195.72,226.4 195.78,225.8 195.84,244.1 195.90,234.9 195.96,240.2 196.02,242.4 196.08,223.1 196.14,246.3 196.20,242.2 196.26,233.9 196.32,239.0 196.38,235.7 196.44,245.0 196.50,235.1 196.56,228.5 196.62,232.6 196.68,243.9 196.74,236.1 196.80,237.3 196.86,249.4 196.92,240.9 196.98,234.5 197.04,243.0 197.10,241.5 197.16,252.4 197.22,232.9 197.28,248.3 197.34,248.8 197.40,234.1 197.46,250.5 197.52,241.5 197.58,235.2 197.64,258.5 197.70,256.5 197.76,247.1 197.82,237.4 197.88,234.6 197.94,256.2 198.00,246.5 198.06,260.2 198.12,246.8 198.18,253.0 198.24,246.8 198.30,245.9 198.36,252.2 198.42,241.8 198.48,249.2 198.54,251.2 198.60,240.1 198.66,244.6 198.72,245.6 198.78,247.7 198.84,255.9 198.90,243.6 198.96,261.1 199.02,246.7 199.08,245.5 199.14,250.7 199.20,251.6 199.26,248.1 199.32,245.2 199.38,243.6 199.44,261.8 199.50,264.8 199.56,266.1 199.62,259.0 199.68,251.1 199.74,256.5 199.80,260.8 199.86,255.9 199.92,261.3 199.98,260.9 200.04,264.7 200.10,266.3 200.16,265.9 200.22,264.4 200.28,271.2 200.34,267.1 200.40,253.8 200.46,274.1 200.52,272.2 200.58,260.2 200.64,260.1 200.70,278.9 200.76,267.4 200.82,272.2 200.88,271.5 200.94,275.1 201.00,267.3 201.06,276.6 201.12,270.9 201.18,268.7 201.24,270.5 201.30,281.8 201.36,271.8 201.42,278.9 201.48,276.6 201.54,271.2 201.60,265.4 201.66,279.9 201.72,268.9 201.78,284.0 201.84,270.3 201.90,287.2 201.96,270.5 202.02,269.4 202.08,283.0 202.14,273.9 202.20,276.0 202.26,284.3 202.32,285.1 202.38,277.8 202.44,289.6 202.50,274.7 202.56,276.6 202.62,293.4 202.68,283.9 202.74,277.1 202.80,276.9 202.86,281.3 202.92,283.6 202.98,294.6 203.04,283.4 203.10,283.9 203.16,287.0 203.22,282.9 203.28,288.6 203.34,297.5 203.40,299.2 203.46,289.3 203.52,281.1 203.58,292.3 203.64,285.7 203.70,298.1 203.76,295.3 203.82,289.4 203.88,285.1 203.94,292.4 204.00,299.8 204.06,296.8 204.12,288.1 204.18,294.9 204.24,285.7 204.30,290.1 204.36,296.7 204.42,301.0 204.48,298.3 204.54,289.8 204.60,288.8 204.66,301.3 204.72,289.5 204.78,300.4 204.84,301.8 204.90,283.9 204.96,306.7 205.02,302.4 205.08,289.1 205.14,292.6 205.20,305.3 205.26,290.8 205.32,293.7 205.38,287.5 205.44,303.4 205.50,295.2 205.56,304.0 205.62,308.3 205.68,296.9 205.74,294.7 205.80,288.4 205.86,301.5 205.92,304.6 205.98,287.5 206.04,301.5 206.10,291.6 206.16,296.6 206.22,295.1 206.28,298.1 206.34,292.6 206.40,305.8 206.46,289.4 206.52,301.1 206.58,302.0 206.64,305.6 206.70,299.3 206.76,297.6 206.82,292.6 206.88,294.2 206.94,304.3 207.00,288.8 207.06,308.0 207.12,304.4 207.18,301.7 207.24,306.1 207.30,296.5 207.36,294.1 207.42,307.5 207.48,304.5 207.54,292.5 207.60,303.4 207.66,295.6 207.72,290.1 207.78,305.5 207.84,297.1 207.90,306.8 207.96,304.8 208.02,299.6 208.08,307.5 208.14,311.5 208.20,301.4 208.26,297.1 208.32,296.9 208.38,308.8 208.44,298.0 208.50,299.9 208.56,291.5 208.62,296.4 208.68,306.2 208.74,312.4 208.80,312.2 208.86,298.8 208.92,304.8 208.98,303.8 209.04,311.7 209.10,299.3 209.16,308.4 209.22,298.3 209.28,300.5 209.34,301.6 209.40,295.8 209.46,307.2 209.52,309.0 209.58,304.4 209.64,309.3 209.70,306.8 209.76,310.3 209.82,303.7 209.88,300.6 209.94,307.8 210.00,299.2 210.06,311.1 210.12,310.9 210.18,298.0 210.24,309.0 210.30,303.6 210.36,310.8 210.42,296.3 210.48,298.9 210.54,301.4 210.60,311.7 210.66,298.0 210.72,302.2 210.78,304.6 210.84,308.9 210.90,310.7 210.96,296.5 211.02,303.3 211.08,311.8 211.14,304.4 211.20,299.6 211.26,300.7 211.32,305.4 211.38,306.8 211.44,313.2 211.50,312.7 211.56,311.5 211.62,296.6 211.68,296.3 211.74,299.3 211.80,307.5 211.86,307.1 211.92,313.2 211.98,304.4 212.04,315.0 212.10,307.0 212.16,302.2 212.22,301.8 212.28,310.2 212.34,303.2 212.40,301.1 212.46,297.8 212.52,307.3 212.58,299.9 212.64,294.0 212.70,302.9 212.76,304.5 212.82,307.4 212.88,310.7 212.94,292.3 213.00,303.6 213.06,297.6 213.12,299.9 213.18,303.8 213.24,303.7 213.30,291.9 213.36,293.1 213.42,307.3 213.48,296.1 213.54,292.9 213.60,300.4 213.66,300.5 213.72,292.6 213.78,306.7 213.84,305.8 213.90,300.2 213.96,307.0 214.02,309.1 214.08,294.0 214.14,293.0 214.20,296.3 214.26,299.5 214.32,304.9 214.38,302.4 214.44,302.7 214.50,297.5 214.56,304.3 214.62,294.8 214.68,288.8 214.74,289.4 214.80,296.3 214.86,297.4 214.92,305.8 214.98,302.5 215.04,302.6 215.10,288.7 215.16,301.8 215.22,291.4 215.28,300.3 215.34,288.5 215.40,289.3 215.46,286.2 215.52,296.1 215.58,294.6 215.64,301.7 215.70,290.3 215.76,290.2 215.82,288.2 215.88,296.1 215.94,287.6 216.00,297.0 216.06,293.4 216.12,290.6 216.18,286.9 216.24,297.1 216.30,299.3 216.36,286.5 216.42,293.4 216.48,297.2 216.54,284.1 216.60,280.6 216.66,294.9 216.72,285.2 216.78,292.6 216.84,295.2 216.90,283.7 216.96,290.6 217.02,284.7 217.08,296.2 217.14,283.8 217.20,284.1 217.26,290.7 217.32,280.2 217.38,291.0 217.44,277.7 217.50,287.2 217.56,290.3 217.62,274.6 217.68,279.5 217.74,282.9 217.80,291.7 217.86,279.7 217.92,285.7 217.98,274.9 218.04,279.3 218.10,284.7 218.16,271.9 218.22,273.3 218.28,268.1 218.34,274.4 218.40,273.9 218.46,277.4 218.52,277.1 218.58,269.2 218.64,275.7 218.70,275.6 218.76,282.1 218.82,277.4 218.88,281.8 218.94,279.8 219.00,268.2 219.06,276.8 219.12,271.7 219.18,270.7 219.24,276.2 219.30,270.9 219.36,278.8 219.42,263.9 219.48,276.4 219.54,270.8 219.60,274.1 219.66,262.9 219.72,267.0 219.78,260.0 219.84,276.7 219.90,264.1 219.96,277.9 220.02,275.3 220.08,260.9 220.14,259.1 220.20,260.0 220.26,258.8 220.32,271.8 220.38,258.5 220.44,274.5 220.50,255.9 220.56,264.0 220.62,256.7 220.68,257.8 220.74,256.8 220.80,260.5 220.86,264.5 220.92,270.1 220.98,267.8 221.04,255.7 221.10,265.4 221.16,262.4 221.22,268.5 221.28,255.3 221.34,262.4 221.40,256.4 221.46,265.2 221.52,253.7 221.58,259.4 221.64,243.5 221.70,261.3 221.76,256.4 221.82,240.5 221.88,258.6 221.94,240.7 222.00,251.6 222.06,252.4 222.12,244.4 222.18,245.8 222.24,250.7 222.30,232.4 222.36,234.4 222.42,231.2 222.48,248.3 222.54,247.0 222.60,242.5 222.66,234.8 222.72,238.4 222.78,233.4 222.84,241.2 222.90,239.9 222.96,223.7 223.02,230.4 223.08,228.2 223.14,233.5 223.20,221.4 223.26,233.6 223.32,230.2 223.38,219.2 223.44,229.6 223.50,232.8 223.56,232.8 223.62,231.7 223.68,215.1 223.74,235.6 223.80,223.7 223.86,220.6 223.92,220.7 223.98,232.9 224.04,231.2 224.10,234.6 224.16,228.2 224.22,236.9 224.28,238.7 224.34,233.9 224.40,231.4 224.46,228.6 224.52,242.8 224.58,237.6 224.64,235.6 224.70,250.8 224.76,239.5 224.82,243.4 224.88,255.1 224.94,245.8 225.00,246.6 225.06,252.0 225.12,252.8 225.18,248.5 225.24,258.9 225.30,268.2 225.36,267.5 225.42,267.2 225.48,258.8 225.54,268.7 225.60,253.0 225.66,260.6 225.72,267.1 225.78,270.5 225.84,273.6 225.90,269.6 225.96,268.8 226.02,272.1 226.08,274.5 226.14,260.7 226.20,278.4 226.26,273.3 226.32,269.2 226.38,279.9 226.44,278.3 226.50,263.0 226.56,281.1 226.62,274.0 226.68,268.4 226.74,268.4 226.80,286.6 226.86,273.4 226.92,289.1 226.98,280.2 227.04,277.2 227.10,288.3 227.16,276.7 227.22,285.0 227.28,274.3 227.34,278.9 227.40,289.1 227.46,283.0 227.52,275.9 227.58,286.4 227.64,293.8 227.70,297.5 227.76,300.3 227.82,283.6 227.88,298.6 227.94,290.5 228.00,299.0 228.06,290.5 228.12,294.5 228.18,307.5 228.24,302.1 228.30,299.2 228.36,307.7 228.42,299.6 228.48,307.6 228.54,306.5 228.60,311.9 228.66,314.6 228.72,310.7 228.78,308.8 228.84,314.1 228.90,312.4 228.96,315.8 229.02,309.0 229.08,305.7 229.14,307.1 229.20,320.1 229.26,307.1 229.32,306.5 229.38,311.6 229.44,318.9 229.50,319.4 229.56,308.3 229.62,314.5 229.68,321.5 229.74,314.9 229.80,312.6 229.86,324.6 229.92,313.5 229.98,310.6 230.04,318.5 230.10,322.5 230.16,322.8 230.22,322.5 230.28,323.6 230.34,318.4 230.40,324.2 230.46,328.1 230.52,326.9 230.58,325.3 230.64,318.6 230.70,327.7 230.76,329.5 230.82,331.6 230.88,331.5 230.94,314.1 231.00,331.2 231.06,322.5 231.12,326.4 231.18,316.0 231.24,323.1 231.30,318.7 231.36,325.2 231.42,320.9 231.48,322.0 231.54,324.3 231.60,333.2 231.66,327.6 231.72,324.3 231.78,320.3 231.84,324.2 231.90,334.0 231.96,333.8 232.02,334.4 232.08,332.0 232.14,333.8 232.20,318.1 232.26,335.4 232.32,335.5 232.38,324.0 232.44,335.0 232.50,331.8 232.56,325.8 232.62,333.7 232.68,323.9 232.74,330.8 232.80,330.5 232.86,331.7 232.92,336.6 232.98,331.0 233.04,334.0 233.10,325.8 233.16,337.1 233.22,330.7 233.28,324.9 233.34,326.1 233.40,337.2 233.46,325.2 233.52,340.7 233.58,334.6 233.64,331.0 233.70,338.8 233.76,324.5 233.82,336.1 233.88,328.2 233.94,335.4 234.00,326.1 234.06,338.0 234.12,333.1 234.18,340.4 234.24,334.4 234.30,338.7 234.36,332.2 234.42,337.4 234.48,339.0 234.54,327.6 234.60,337.5 234.66,329.5 234.72,339.7 234.78,342.0 234.84,336.6 234.90,333.8 234.96,336.3 235.02,336.1 235.08,328.7 235.14,334.6 235.20,328.8 235.26,336.0 235.32,332.5 235.38,332.5 235.44,333.2 235.50,339.3 235.56,342.3 235.62,332.1 235.68,333.4 235.74,336.1 235.80,339.1 235.86,334.3 235.92,339.5 235.98,332.9 236.04,342.3 236.10,336.5 236.16,340.5 236.22,333.9 236.28,329.4 236.34,339.0 236.40,335.3 236.46,336.5 236.52,339.5 236.58,337.7 236.64,341.1 236.70,334.9 236.76,337.6 236.82,335.4 236.88,332.1 236.94,339.3 237.00,336.9 237.06,339.8 237.12,339.0 237.18,335.1 237.24,333.9 237.30,338.1 237.36,337.0 237.42,335.5 237.48,336.7 237.54,332.7 237.60,334.8 237.66,332.6 237.72,335.6 237.78,340.1 237.84,341.5 237.90,340.7 237.96,339.0 238.02,338.9 238.08,339.2 238.14,334.3 238.20,337.6 238.26,344.6 238.32,331.6 238.38,334.8 238.44,341.0 238.50,337.7 238.56,338.4 238.62,337.7 238.68,341.4 238.74,337.7 238.80,338.8 238.86,341.1 238.92,343.0 238.98,335.3 239.04,338.2 239.10,336.7 239.16,335.0 239.22,345.8 239.28,343.3 239.34,337.6 239.40,337.0 239.46,336.0 239.52,338.6 239.58,338.3 239.64,338.3 239.70,340.0 239.76,342.7 239.82,343.6 239.88,344.4 239.94,336.6 240.00,335.4 240.06,341.2 240.12,341.2 240.18,335.4 240.24,338.6 240.30,335.7 240.36,340.6 240.42,337.0 240.48,345.2 240.54,345.1 240.60,334.4 240.66,343.1 240.72,343.2 240.78,337.1 240.84,346.2 240.90,336.6 240.96,335.9 241.02,336.2 241.08,337.7 241.14,342.9 241.20,344.2 241.26,336.6 241.32,337.4 241.38,336.4 241.44,346.0 241.50,346.3 241.56,344.2 241.62,337.0 241.68,336.9 241.74,341.6 241.80,342.9 241.86,341.9 241.92,343.0 241.98,336.7 242.04,344.3 242.10,343.0 242.16,340.1 242.22,337.7 242.28,336.4 242.34,339.5 242.40,337.8 242.46,339.8 242.52,342.5 242.58,345.5 242.64,339.5 242.70,339.6 242.76,345.8 242.82,338.4 242.88,339.3 242.94,343.5 243.00,344.1 243.06,341.8 243.12,339.6 243.18,338.9 243.24,336.6 243.30,342.3 243.36,342.8 243.42,343.9 243.48,342.9 243.54,346.2 243.60,347.4 243.66,339.5 243.72,338.4 243.78,339.0 243.84,338.2 243.90,345.8 243.96,340.6 244.02,339.0 244.08,338.3 244.14,343.6 244.20,341.0 244.26,344.2 244.32,345.9 244.38,340.2 244.44,347.3 244.50,339.4 244.56,339.5 244.62,346.4 244.68,344.9 244.74,344.3 244.80,346.4 244.86,341.6 244.92,342.8 244.98,340.5 245.04,342.3 245.10,344.2 245.16,343.8 245.22,342.0 245.28,338.5 245.34,340.1 245.40,338.7 245.46,336.6 245.52,339.6 245.58,338.6 245.64,346.6 245.70,338.0 245.76,339.3 245.82,346.5 245.88,340.5 245.94,344.3 246.00,347.1 246.06,341.5 246.12,346.2 246.18,344.6 246.24,340.3 246.30,346.8 246.36,344.8 246.42,339.9 246.48,346.8 246.54,346.2 246.60,347.0 246.66,344.3 246.72,345.4 246.78,339.4 246.84,348.4 246.90,338.4 246.96,343.7 247.02,341.3 247.08,344.3 247.14,348.8 247.20,347.2 247.26,341.0 247.32,345.8 247.38,347.2 247.44,339.2 247.50,347.6 247.56,343.4 247.62,344.4 247.68,342.6 247.74,343.1 247.80,342.8 247.86,339.2 247.92,340.8 247.98,347.9 248.04,341.3 248.10,346.7 248.16,343.4 248.22,345.6 248.28,338.5 248.34,340.3 248.40,339.2 248.46,345.9 248.52,341.3 248.58,340.2 248.64,345.9 248.70,341.4 248.76,344.7 248.82,346.0 248.88,344.1 248.94,344.2 249.00,339.2 249.06,341.3 249.12,346.0 249.18,345.9 249.24,348.9 249.30,339.3 249.36,341.5 249.42,340.8 249.48,347.7 249.54,346.2 249.60,346.9 249.66,342.3 249.72,347.9 249.78,340.1 249.84,339.8 249.90,341.8 249.96,346.1 250.02,345.4 250.08,340.0 250.14,341.6 250.20,346.4 250.26,344.4 250.32,340.5 250.38,338.7 250.44,342.1 250.50,341.7 250.56,347.5 250.62,342.6 250.68,348.6 250.74,344.0 250.80,346.1 250.86,341.4 250.92,341.9 250.98,342.6 251.04,340.9 251.10,344.0 251.16,340.8 251.22,342.1 251.28,344.1 251.34,346.1 251.40,347.9 251.46,341.7 251.52,348.9 251.58,345.9 251.64,340.5 251.70,342.6 251.76,347.7 251.82,340.5 251.88,342.8 251.94,342.8 252.00,341.2 252.06,346.3 252.12,345.2 252.18,341.1 252.24,349.9 252.30,347.5 252.36,348.2 252.42,348.4 252.48,343.2 252.54,343.6 252.60,345.2 252.66,341.2 252.72,346.1 252.78,347.7 252.84,346.3 252.90,344.9 252.96,347.4 253.02,347.1 253.08,347.2 253.14,347.1 253.20,344.4 253.26,346.0 253.32,347.4 253.38,342.3 253.44,348.7 253.50,347.1 253.56,348.9 253.62,344.7 253.68,339.8 253.74,349.6 253.80,343.1 253.86,340.6 253.92,345.6 253.98,348.1 254.04,346.8 254.10,343.1 254.16,341.5 254.22,346.5 254.28,344.0 254.34,341.3 254.40,342.1 254.46,347.0 254.52,345.4 254.58,345.5 254.64,341.8 254.70,344.7 254.76,341.1 254.82,347.4 254.88,347.3 254.94,344.5 255.00,346.3 255.06,344.8 255.12,343.3 255.18,349.2 255.24,344.9 255.30,348.0 255.36,349.9 255.42,344.7 255.48,341.6 255.54,346.7 255.60,346.0 255.66,345.1 255.72,348.7 255.78,340.3 255.84,349.2 255.90,343.5 255.96,341.0 256.02,342.9 256.08,343.7 256.14,346.9 256.20,348.8 256.26,346.1 256.32,346.1 256.38,348.2 256.44,344.6 256.50,341.9 256.56,342.6 256.62,350.6 256.68,348.1 256.74,345.0 256.80,349.9 256.86,342.9 256.92,349.3 256.98,349.4 257.04,343.6 257.10,344.4 257.16,343.7 257.22,343.2 257.28,343.6 257.34,349.1 257.40,342.9 257.46,344.5 257.52,344.9 257.58,343.7 257.64,342.9 257.70,343.4 257.76,345.6 257.82,348.9 257.88,342.8 257.94,345.1 258.00,346.3 258.06,342.8 258.12,346.4 258.18,348.9 258.24,342.5 258.30,343.3 258.36,341.5 258.42,341.0 258.48,347.6 258.54,344.2 258.60,343.7 258.66,349.9 258.72,344.5 258.78,346.2 258.84,343.6 258.90,348.7 258.96,343.5 259.02,343.4 259.08,345.9 259.14,349.4 259.20,344.4 259.26,348.9 259.32,345.5 259.38,347.5 259.44,342.1 259.50,349.4 259.56,345.8 259.62,345.6 259.68,349.0 259.74,343.4 259.80,344.7 259.86,348.7 259.92,349.4 259.98,349.4 260.04,345.9 260.10,348.3 260.16,347.3 260.22,343.6 260.28,348.8 260.34,343.7 260.40,349.3 260.46,341.9 260.52,343.1 260.58,342.1 260.64,343.4 260.70,342.3 260.76,346.3 260.82,347.8 260.88,350.0 260.94,349.3 261.00,349.6 261.06,346.7 261.12,348.9 261.18,345.8 261.24,348.2 261.30,343.8 261.36,347.4 261.42,345.4 261.48,345.6 261.54,345.3 261.60,347.2 261.66,343.1 261.72,342.2 261.78,347.4 261.84,341.1 261.90,344.9 261.96,343.5 262.02,342.4 262.08,345.8 262.14,342.1 262.20,342.9 262.26,347.8 262.32,349.1 262.38,350.4 262.44,349.3 262.50,344.2 262.56,349.0 262.62,340.7 262.68,344.2 262.74,345.6 262.80,347.1 262.86,346.9 262.92,349.2 262.98,348.1 263.04,342.9 263.10,350.2 263.16,345.4 263.22,349.0 263.28,341.4 263.34,349.0 263.40,346.4 263.46,348.0 263.52,346.6 263.58,344.9 263.64,343.9 263.70,341.3 263.76,342.6 263.82,349.0 263.88,347.3 263.94,346.6 264.00,349.3 264.06,341.9 264.12,342.9 264.18,348.1 264.24,348.6 264.30,345.1 264.36,349.4 264.42,350.0 264.48,349.8 264.54,348.1 264.60,349.6 264.66,349.2 264.72,343.4 264.78,343.6 264.84,345.6 264.90,347.4 264.96,341.3 265.02,349.0 265.08,343.6 265.14,349.1 265.20,342.7 265.26,342.6 265.32,345.3 265.38,350.4 265.44,342.6 265.50,341.3 265.56,346.3 265.62,349.7 265.68,346.5 265.74,345.9 265.80,344.3 265.86,347.5 265.92,347.1 265.98,352.1 266.04,347.0 266.10,343.6 266.16,350.0 266.22,350.0 266.28,350.0 266.34,345.4 266.40,350.1 266.46,345.6 266.52,344.4 266.58,343.5 266.64,341.9 266.70,350.3 266.76,347.2 266.82,351.2 266.88,348.3 266.94,345.0 267.00,345.2 267.06,344.2 267.12,344.1 267.18,345.3 267.24,342.3 267.30,348.5 267.36,343.4 267.42,345.3 267.48,347.0 267.54,347.4 267.60,344.7 267.66,349.1 267.72,342.8 267.78,350.6 267.84,350.1 267.90,342.6 267.96,346.3 268.02,344.9 268.08,344.3 268.14,345.4 268.20,348.0 268.26,351.1 268.32,350.2 268.38,345.8 268.44,345.2 268.50,349.0 268.56,350.4 268.62,348.4 268.68,350.2 268.74,342.5 268.80,343.7 268.86,341.5 268.92,348.3 268.98,343.9 269.04,347.6 269.10,346.5 269.16,347.0 269.22,345.1 269.28,343.3 269.34,347.4 269.40,343.1 269.46,344.8 269.52,341.3 269.58,344.6 269.64,344.8 269.70,349.1 269.76,350.6 269.82,348.2 269.88,347.7 269.94,349.7 270.00,351.1 270.06,348.3 270.12,349.2 270.18,346.2 270.24,347.0 270.30,345.0 270.36,345.9 270.42,346.5 270.48,347.8 270.54,343.0 270.60,344.9 270.66,345.9 270.72,346.5 270.78,341.5 270.84,346.0 270.90,350.0 270.96,345.4 271.02,347.6 271.08,345.9 271.14,349.0 271.20,343.7 271.26,348.1 271.32,344.5 271.38,343.2 271.44,347.0 271.50,347.8 271.56,349.4 271.62,343.5 271.68,343.2 271.74,348.4 271.80,342.6 271.86,344.6 271.92,345.0 271.98,343.4 272.04,343.9 272.10,347.9 272.16,345.9 272.22,351.8 272.28,346.4 272.34,344.1 272.40,344.7 272.46,346.5 272.52,349.5 272.58,347.3 272.64,343.9 272.70,348.3 272.76,343.1 272.82,342.9 272.88,349.2 272.94,345.5 273.00,346.2 273.06,349.7 273.12,341.5 273.18,345.0 273.24,343.8 273.30,344.4 273.36,348.4 273.42,347.1 273.48,345.9 273.54,344.6 273.60,345.9 273.66,343.5 273.72,349.2 273.78,342.3 273.84,347.6 273.90,345.5 273.96,344.5 274.02,342.3 274.08,346.4 274.14,347.5 274.20,347.0 274.26,349.0 274.32,343.2 274.38,345.3 274.44,348.0 274.50,342.1 274.56,343.7 274.62,346.8 274.68,347.1 274.74,347.0 274.80,345.1 274.86,347.0 274.92,344.6 274.98,344.3 275.04,343.6 275.10,350.4 275.16,342.1 275.22,349.1 275.28,344.8 275.34,345.3 275.40,348.8 275.46,345.8 275.52,345.5 275.58,346.2 275.64,343.9 275.70,346.7 275.76,348.6 275.82,343.1 275.88,344.4 275.94,343.7 276.00,342.7 276.06,348.9 276.12,347.5 276.18,350.3 276.24,348.0 276.30,343.5 276.36,344.0 276.42,348.2 276.48,345.1 276.54,344.8 276.60,345.7 276.66,343.3 276.72,350.3 276.78,345.2 276.84,343.2 276.90,344.5 276.96,347.7 277.02,349.2 277.08,349.2 277.14,348.4 277.20,345.2 277.26,343.3 277.32,341.7 277.38,348.5 277.44,347.1 277.50,346.2 277.56,346.2 277.62,347.5 277.68,345.9 277.74,343.5 277.80,347.4 277.86,346.3 277.92,343.7 277.98,345.7 278.04,351.1 278.10,346.6 278.16,347.8 278.22,344.1 278.28,344.5 278.34,349.0 278.40,350.1 278.46,347.8 278.52,348.0 278.58,347.9 278.64,346.2 278.70,344.1 278.76,345.5 278.82,345.8 278.88,346.9 278.94,347.6 279.00,342.0 279.06,343.7 279.12,349.8 279.18,346.3 279.24,351.2 279.30,343.1 279.36,345.2 279.42,347.7 279.48,345.8 279.54,347.5 279.60,350.6 279.66,351.6 279.72,347.7 279.78,347.0 279.84,348.8 279.90,346.1 279.96,350.0 280.02,350.1 280.08,345.6 280.14,349.1 280.20,347.3 280.26,349.8 280.32,344.3 280.38,349.9 280.44,345.2 280.50,351.8 280.56,345.0 280.62,346.9 280.68,343.9 280.74,346.8 280.80,345.7 280.86,343.3 280.92,345.5 280.98,341.1 281.04,341.9 281.10,345.6 281.16,347.5 281.22,344.0 281.28,348.5 281.34,341.2 281.40,343.9 281.46,344.5 281.52,346.7 281.58,347.6 281.64,347.9 281.70,346.0 281.76,349.9 281.82,345.1 281.88,341.9 281.94,348.1 282.00,344.2 282.06,343.1 282.12,344.5 282.18,352.0 282.24,346.7 282.30,349.0 282.36,350.0 282.42,346.0 282.48,351.1 282.54,350.3 282.60,346.6 282.66,348.0 282.72,346.3 282.78,350.3 282.84,343.5 282.90,349.8 282.96,349.2 283.02,350.6 283.08,348.4 283.14,350.9 283.20,350.3 283.26,345.0 283.32,347.6 283.38,343.1 283.44,344.3 283.50,346.0 283.56,349.5 283.62,347.2 283.68,349.8 283.74,346.3 283.80,350.4 283.86,350.2 283.92,346.2 283.98,348.1 284.04,348.9 284.10,349.1 284.16,347.8 284.22,343.6 284.28,346.9 284.34,350.0 284.40,346.3 284.46,345.2 284.52,348.6 284.58,345.8 284.64,349.8 284.70,348.6 284.76,346.6 284.82,347.9 284.88,345.7 284.94,350.0 285.00,348.9 285.06,349.9 285.12,346.3 285.18,342.8 285.24,342.3 285.30,345.9 285.36,342.6 285.42,349.7 285.48,346.0 285.54,346.7 285.60,342.6 285.66,348.7 285.72,346.5 285.78,344.0 285.84,345.9 285.90,343.1 285.96,348.9 286.02,345.5 286.08,348.1 286.14,345.3 286.20,345.1 286.26,342.3 286.32,348.7 286.38,347.2 286.44,344.3 286.50,351.3 286.56,346.9 286.62,348.2 286.68,344.4 286.74,343.3 286.80,348.3 286.86,345.7 286.92,344.7 286.98,351.1 287.04,347.1 287.10,345.7 287.16,342.7 287.22,347.6 287.28,346.8 287.34,343.1 287.40,349.2 287.46,347.8 287.52,348.9 287.58,348.0 287.64,344.3 287.70,349.1 287.76,342.7 287.82,350.2 287.88,349.4 287.94,344.8 288.00,350.4 288.06,350.5 288.12,343.4 288.18,346.4 288.24,342.5 288.30,342.4 288.36,350.7 288.42,351.7 288.48,347.6 288.54,348.7 288.60,347.5 288.66,348.5 288.72,346.1 288.78,345.4 288.84,345.7 288.90,341.5 288.96,343.6 289.02,343.6 289.08,347.4 289.14,348.8 289.20,348.6 289.26,347.1 289.32,346.9 289.38,342.9 289.44,343.0 289.50,349.2 289.56,346.1 289.62,345.7 289.68,345.6 289.74,347.9 289.80,345.0 289.86,348.0 289.92,345.8 289.98,346.3 290.04,345.0 290.10,343.8 290.16,343.7 290.22,348.8 290.28,341.5 290.34,343.3 290.40,346.5 290.46,341.7 290.52,348.2 290.58,346.3 290.64,344.4 290.70,344.0 290.76,348.0 290.82,345.2 290.88,344.6 290.94,346.6 291.00,344.8 291.06,347.3 291.12,347.0 291.18,342.8 291.24,341.7 291.30,343.9 291.36,350.5 291.42,341.6 291.48,348.7 291.54,350.3 291.60,342.6 291.66,342.5 291.72,348.8 291.78,347.4 291.84,343.7 291.90,346.3 291.96,350.0 292.02,342.7 292.08,348.4 292.14,346.6 292.20,349.6 292.26,344.4 292.32,341.6 292.38,343.9 292.44,344.2 292.50,349.6 292.56,347.8 292.62,342.9 292.68,349.3 292.74,347.3 292.80,344.6 292.86,342.1 292.92,347.0 292.98,344.1 293.04,342.2 293.10,343.2 293.16,345.8 293.22,344.2 293.28,341.8 293.34,347.9 293.40,347.0 293.46,342.2 293.52,345.4 293.58,346.0 293.64,349.0 293.70,345.4 293.76,349.3 293.82,348.9 293.88,347.2 293.94,348.6 294.00,347.9 294.06,343.9 294.12,342.8 294.18,342.9 294.24,348.0 294.30,343.6 294.36,345.3 294.42,346.3 294.48,346.6 294.54,350.4 294.60,350.9 294.66,345.0 294.72,341.8 294.78,342.4 294.84,343.3 294.90,347.7 294.96,343.4 295.02,346.0 295.08,344.3 295.14,345.0 295.20,347.2 295.26,351.7 295.32,343.3 295.38,343.0 295.44,344.6 295.50,347.0 295.56,347.4 295.62,346.7 295.68,350.3 295.74,349.2 295.80,342.1 295.86,349.1 295.92,348.9 295.98,342.5 296.04,347.2 296.10,346.6 296.16,348.4 296.22,344.1 296.28,349.5 296.34,342.7 296.40,345.9 296.46,350.6 296.52,350.3 296.58,345.2 296.64,349.7 296.70,345.3 296.76,347.2 296.82,348.3 296.88,345.7 296.94,342.5 297.00,346.5 297.06,344.1 297.12,342.9 297.18,346.3 297.24,349.3 297.30,347.9 297.36,349.6 297.42,350.9 297.48,347.5 297.54,349.0 297.60,340.9 297.66,350.0 297.72,345.9 297.78,349.1 297.84,349.9 297.90,344.8 297.96,345.7 298.02,341.4 298.08,343.8 298.14,342.3 298.20,346.3 298.26,344.2 298.32,348.5 298.38,342.7 298.44,348.6 298.50,342.6 298.56,346.9 298.62,348.9 298.68,343.9 298.74,349.0 298.80,342.2 298.86,349.8 298.92,346.1 298.98,342.1 299.04,345.2 299.10,348.3 299.16,347.6 299.22,344.5 299.28,342.1 299.34,342.9 299.40,350.9 299.46,343.1 299.52,347.9 299.58,348.5 299.64,345.1 299.70,345.3 299.76,346.4 299.82,348.5 299.88,349.6 299.94,348.6 300.00,343.4 300.06,342.4 300.12,344.2 300.18,344.0 300.24,343.0 300.30,342.5 300.36,342.2 300.42,348.2 300.48,345.6 300.54,345.6 300.60,348.8 300.66,342.4 300.72,347.2 300.78,345.0 300.84,347.4 300.90,342.1 300.96,349.2 301.02,343.9 301.08,347.8 301.14,343.5 301.20,349.5 301.26,344.7 301.32,342.5 301.38,341.7 301.44,346.0 301.50,347.4 301.56,344.7 301.62,343.0 301.68,345.0 301.74,347.7 301.80,345.8 301.86,348.4 301.92,344.7 301.98,344.6 302.04,347.6 302.10,342.0 302.16,341.6 302.22,342.9 302.28,348.2 302.34,346.6 302.40,346.7 302.46,343.2 302.52,345.6 302.58,343.1 302.64,343.2 302.70,342.6 302.76,343.1 302.82,347.6 302.88,342.0 302.94,348.4 303.00,348.3 303.06,342.9 303.12,349.0 303.18,342.5 303.24,348.8 303.30,346.0 303.36,347.6 303.42,345.2 303.48,344.5 303.54,348.2 303.60,346.4 303.66,342.6 303.72,348.8 303.78,345.5 303.84,347.3 303.90,348.2 303.96,344.3 304.02,346.1 304.08,341.7 304.14,343.5 304.20,343.7 304.26,347.8 304.32,344.4 304.38,344.4 304.44,344.2 304.50,344.7 304.56,341.7 304.62,344.0 304.68,342.0 304.74,348.2 304.80,349.3 304.86,343.9 304.92,346.3 304.98,344.3 305.04,350.4 305.10,344.4 305.16,349.7 305.22,346.0 305.28,345.2 305.34,347.9 305.40,345.3 305.46,346.7 305.52,347.5 305.58,340.9 305.64,343.5 305.70,341.6 305.76,344.2 305.82,341.0 305.88,347.5 305.94,348.8 306.00,344.1 306.06,346.4 306.12,340.0 306.18,348.3 306.24,344.9 306.30,345.4 306.36,344.2 306.42,341.9 306.48,340.6 306.54,346.6 306.60,346.4 306.66,348.6 306.72,345.8 306.78,347.3 306.84,341.6 306.90,348.4 306.96,344.1 307.02,347.4 307.08,343.9 307.14,346.7 307.20,346.0 307.26,341.0 307.32,345.4 307.38,349.8 307.44,344.0 307.50,344.0 307.56,348.6 307.62,349.2 307.68,339.9 307.74,344.9 307.80,347.3 307.86,338.6 307.92,347.1 307.98,343.9 308.04,341.7 308.10,348.8 308.16,344.5 308.22,342.2 308.28,341.5 308.34,349.2 308.40,348.4 308.46,343.0 308.52,347.1 308.58,344.5 308.64,348.5 308.70,348.1 308.76,342.6 308.82,346.6 308.88,342.5 308.94,348.3 309.00,347.5 309.06,342.1 309.12,345.3 309.18,343.0 309.24,341.8 309.30,343.6 309.36,340.8 309.42,343.1 309.48,340.9 309.54,342.7 309.60,346.2 309.66,340.4 309.72,344.3 309.78,341.6 309.84,345.6 309.90,344.8 309.96,341.3 310.02,344.0 310.08,345.5 310.14,340.6 310.20,343.7 310.26,345.7 310.32,346.5 310.38,348.0 310.44,345.7 310.50,342.2 310.56,344.6 310.62,341.7 310.68,348.5 310.74,348.3 310.80,348.9 310.86,339.2 310.92,341.5 310.98,348.0 311.04,342.5 311.10,346.7 311.16,340.4 311.22,345.3 311.28,345.9 311.34,339.5 311.40,339.6 311.46,343.0 311.52,342.4 311.58,343.6 311.64,344.5 311.70,340.7 311.76,338.9 311.82,343.8 311.88,345.9 311.94,347.1 312.00,345.1 312.06,340.3 312.12,339.4 312.18,343.3 312.24,340.4 312.30,338.2 312.36,345.3 312.42,340.0 312.48,343.7 312.54,346.9 312.60,339.6 312.66,348.5 312.72,341.9 312.78,339.2 312.84,340.9 312.90,340.6 312.96,348.2 313.02,347.3 313.08,344.4 313.14,341.6 313.20,345.9 313.26,342.0 313.32,343.0 313.38,343.3 313.44,344.4 313.50,346.5 313.56,344.0 313.62,340.7 313.68,347.8 313.74,338.8 313.80,348.1 313.86,341.7 313.92,345.2 313.98,346.6 314.04,347.2 314.10,342.5 314.16,339.4 314.22,347.9 314.28,342.1 314.34,348.8 314.40,338.5 314.46,346.9 314.52,345.1 314.58,340.5 314.64,347.9 314.70,347.1 314.76,339.2 314.82,338.8 314.88,344.2 314.94,338.9 315.00,342.0 315.06,341.2 315.12,341.5 315.18,340.5 315.24,342.0 315.30,339.5 315.36,346.8 315.42,339.7 315.48,339.0 315.54,339.4 315.60,343.8 315.66,341.7 315.72,339.0 315.78,346.7 315.84,345.1 315.90,347.6 315.96,346.3 316.02,340.0 316.08,337.7 316.14,342.6 316.20,348.5 316.26,347.0 316.32,340.6 316.38,341.7 316.44,341.2 316.50,339.8 316.56,347.2 316.62,341.2 316.68,339.3 316.74,339.4 316.80,345.6 316.86,347.9 316.92,344.9 316.98,340.4 317.04,341.8 317.10,347.8 317.16,339.8 317.22,344.1 317.28,342.9 317.34,338.5 317.40,345.6 317.46,345.2 317.52,343.5 317.58,337.1 317.64,337.4 317.70,340.1 317.76,340.5 317.82,345.1 317.88,339.6 317.94,343.1 318.00,346.0 318.06,339.5 318.12,344.9 318.18,344.2 318.24,339.9 318.30,344.5 318.36,340.8 318.42,345.3 318.48,344.3 318.54,346.1 318.60,341.5 318.66,341.3 318.72,346.6 318.78,344.3 318.84,339.7 318.90,348.3 318.96,345.0 319.02,340.6 319.08,340.3 319.14,341.6 319.20,337.4 319.26,346.6 319.32,337.4 319.38,340.8 319.44,340.0 319.50,343.1 319.56,344.2 319.62,342.0 319.68,347.7 319.74,341.0 319.80,336.6 319.86,340.7 319.92,335.5 319.98,343.9 320.04,337.5 320.10,337.1 320.16,341.4 320.22,345.7 320.28,346.1 320.34,345.7 320.40,340.2 320.46,346.4 320.52,336.4 320.58,342.1 320.64,341.9 320.70,342.3 320.76,336.4 320.82,345.8 320.88,337.8 320.94,337.3 321.00,343.4 321.06,341.1 321.12,341.7 321.18,342.3 321.24,347.8 321.30,342.9 321.36,341.9 321.42,337.9 321.48,346.0 321.54,338.7 321.60,341.6 321.66,338.4 321.72,342.1 321.78,338.8 321.84,345.3 321.90,338.9 321.96,346.2 322.02,345.4 322.08,344.9 322.14,340.0 322.20,341.9 322.26,335.0 322.32,341.8 322.38,344.7 322.44,339.5 322.50,339.7 322.56,340.0 322.62,341.9 322.68,346.2 322.74,344.6 322.80,335.1 322.86,340.1 322.92,338.2 322.98,337.8 323.04,335.5 323.10,342.8 323.16,346.6 323.22,337.4 323.28,339.5 323.34,336.6 323.40,344.4 323.46,345.4 323.52,340.6 323.58,341.7 323.64,344.2 323.70,339.1 323.76,337.0 323.82,338.8 323.88,346.2 323.94,342.0 324.00,337.8 324.06,341.7 324.12,340.1 324.18,344.3 324.24,338.7 324.30,334.9 324.36,335.0 324.42,344.5 324.48,340.1 324.54,341.6 324.60,343.5 324.66,340.7 324.72,346.0 324.78,340.1 324.84,337.9 324.90,337.0 324.96,345.1 325.02,341.8 325.08,335.4 325.14,343.5 325.20,342.7 325.26,342.5 325.32,345.6 325.38,336.2 325.44,346.3 325.50,336.4 325.56,345.0 325.62,341.4 325.68,345.3 325.74,342.4 325.80,337.7 325.86,337.1 325.92,340.8 325.98,343.7 326.04,335.5 326.10,341.3 326.16,345.3 326.22,340.5 326.28,340.0 326.34,346.3 326.40,345.0 326.46,336.8 326.52,343.7 326.58,343.1 326.64,339.7 326.70,341.1 326.76,342.2 326.82,338.1 326.88,336.6 326.94,344.8 327.00,336.9 327.06,343.7 327.12,343.5 327.18,345.5 327.24,343.3 327.30,345.6 327.36,341.4 327.42,343.0 327.48,339.6 327.54,342.8 327.60,338.4 327.66,344.6 327.72,336.7 327.78,337.6 327.84,345.9 327.90,344.8 327.96,341.2 328.02,342.5 328.08,343.3 328.14,341.8 328.20,335.8 328.26,336.0 328.32,337.7 328.38,336.3 328.44,341.6 328.50,339.6 328.56,343.6 328.62,336.5 328.68,336.0 328.74,344.2 328.80,334.6 328.86,339.4 328.92,335.3 328.98,343.7 329.04,340.8 329.10,342.8 329.16,335.0 329.22,344.2 329.28,339.0 329.34,339.1 329.40,335.5 329.46,341.1 329.52,333.8 329.58,336.3 329.64,336.2 329.70,338.9 329.76,344.5 329.82,341.5 329.88,344.0 329.94,339.3 330.00,337.9 330.06,344.6 330.12,343.1 330.18,336.2 330.24,335.1 330.30,336.6 330.36,343.3 330.42,333.8 330.48,338.3 330.54,337.9 330.60,345.9 330.66,335.7 330.72,346.3 330.78,344.6 330.84,344.5 330.90,340.9 330.96,342.2 331.02,342.4 331.08,338.1 331.14,344.5 331.20,341.7 331.26,338.8 331.32,337.1 331.38,335.5 331.44,341.7 331.50,341.7 331.56,344.7 331.62,342.2 331.68,334.1 331.74,345.9 331.80,343.1 331.86,341.3 331.92,337.4 331.98,336.9 332.04,343.9 332.10,343.2 332.16,339.8 332.22,335.0 332.28,337.3 332.34,343.5 332.40,342.5 332.46,341.8 332.52,341.2 332.58,339.8 332.64,338.2 332.70,344.6 332.76,333.9 332.82,341.0 332.88,343.2 332.94,335.2 333.00,342.5 333.06,331.8 333.12,338.3 333.18,345.0 333.24,344.0 333.30,341.7 333.36,343.0 333.42,340.4 333.48,344.5 333.54,344.3 333.60,335.9 333.66,346.3 333.72,341.0 333.78,343.7 333.84,335.6 333.90,336.0 333.96,335.6 334.02,339.9 334.08,334.5 334.14,338.9 334.20,332.9 334.26,340.4 334.32,343.6 334.38,338.1 334.44,332.3 334.50,338.5 334.56,340.9 334.62,345.5 334.68,334.2 334.74,338.8 334.80,335.1 334.86,335.7 334.92,343.4 334.98,343.7 335.04,341.8 335.10,338.8 335.16,344.2 335.22,342.5 335.28,343.4 335.34,339.4 335.40,338.8 335.46,337.1 335.52,336.8 335.58,341.4 335.64,335.8 335.70,339.3 335.76,341.4 335.82,340.5 335.88,336.5 335.94,342.2 336.00,337.2 336.06,343.6 336.12,343.3 336.18,338.6 336.24,342.1 336.30,344.2 336.36,334.9 336.42,337.9 336.48,336.9 336.54,331.2 336.60,337.9 336.66,336.2 336.72,333.0 336.78,334.3 336.84,334.4 336.90,332.0 336.96,341.7 337.02,338.1 337.08,343.0 337.14,337.9 337.20,331.6 337.26,343.3 337.32,332.1 337.38,343.9 337.44,339.4 337.50,338.3 337.56,342.8 337.62,334.7 337.68,342.0 337.74,335.6 337.80,340.1 337.86,336.8 337.92,336.5 337.98,339.0 338.04,337.7 338.10,342.8 338.16,335.7 338.22,339.3 338.28,333.9 338.34,334.5 338.40,342.9 338.46,335.2 338.52,335.5 338.58,333.9 338.64,343.6 338.70,340.7 338.76,338.3 338.82,333.3 338.88,340.6 338.94,335.8 339.00,333.0 339.06,341.3 339.12,336.6 339.18,344.2 339.24,334.4 339.30,342.4 339.36,339.5 339.42,336.0 339.48,332.5 339.54,338.4 339.60,333.4 339.66,332.6 339.72,336.8 339.78,330.1 339.84,336.1 339.90,341.7 339.96,335.7 340.02,342.1 340.08,336.5 340.14,335.3 340.20,338.9 340.26,335.1 340.32,339.7 340.38,342.8 340.44,338.0 340.50,336.8 340.56,332.3 340.62,338.0 340.68,335.4 340.74,333.2 340.80,338.1 340.86,342.0 340.92,332.2 340.98,330.8 341.04,332.3 341.10,339.2 341.16,336.4 341.22,335.0 341.28,336.7 341.34,342.2 341.40,339.6 341.46,331.0 341.52,336.2 341.58,330.8 341.64,331.2 341.70,333.4 341.76,329.7 341.82,335.2 341.88,336.5 341.94,342.7 342.00,340.9 342.06,338.3 342.12,330.1 342.18,336.6 342.24,335.8 342.30,340.4 342.36,342.4 342.42,339.0 342.48,340.2 342.54,331.8 342.60,334.3 342.66,340.2 342.72,340.5 342.78,331.9 342.84,329.9 342.90,336.1 342.96,331.6 343.02,330.4 343.08,330.1 343.14,342.1 343.20,336.8 343.26,338.1 343.32,333.9 343.38,337.4 343.44,331.6 343.50,333.9 343.56,332.7 343.62,331.0 343.68,334.9 343.74,331.7 343.80,335.1 343.86,334.8 343.92,333.7 343.98,338.2 344.04,339.8 344.10,332.1 344.16,339.9 344.22,331.6 344.28,338.6 344.34,339.6 344.40,331.5 344.46,330.4 344.52,339.7 344.58,337.8 344.64,332.5 344.70,328.4 344.76,328.3 344.82,328.4 344.88,332.5 344.94,330.7 345.00,335.2 345.06,336.2 345.12,330.4 345.18,332.5 345.24,340.2 345.30,328.5 345.36,335.4 345.42,329.1 345.48,339.5 345.54,331.8 345.60,329.4 345.66,335.3 345.72,338.1 345.78,339.4 345.84,336.0 345.90,332.7 345.96,342.1 346.02,334.4 346.08,330.4 346.14,337.5 346.20,334.2 346.26,336.8 346.32,330.1 346.38,335.0 346.44,338.2 346.50,331.3 346.56,340.4 346.62,334.0 346.68,331.9 346.74,340.3 346.80,341.8 346.86,339.9 346.92,338.6 346.98,331.1 347.04,332.5 347.10,336.9 347.16,336.4 347.22,340.5 347.28,332.6 347.34,329.8 347.40,328.0 347.46,340.3 347.52,333.0 347.58,328.0 347.64,328.1 347.70,339.0 347.76,338.5 347.82,327.7 347.88,338.8 347.94,336.4 348.00,329.2 348.06,326.2 348.12,337.9 348.18,335.6 348.24,337.6 348.30,337.6 348.36,335.2 348.42,338.8 348.48,341.4 348.54,330.1 348.60,332.2 348.66,331.2 348.72,329.2 348.78,335.2 348.84,331.8 348.90,336.2 348.96,340.7 349.02,334.2 349.08,326.9 349.14,335.0 349.20,339.4 349.26,339.5 349.32,334.6 349.38,328.2 349.44,329.7 349.50,324.7 349.56,338.9 349.62,330.0 349.68,332.8 349.74,337.5 349.80,328.6 349.86,336.9 349.92,330.7 349.98,331.0 350.04,328.7 350.10,338.0 350.16,336.7 350.22,340.1 350.28,330.1 350.34,332.5 350.40,335.5 350.46,328.9 350.52,339.3 350.58,332.9 350.64,337.8 350.70,331.5 350.76,326.3 350.82,338.4 350.88,337.0 350.94,336.5 351.00,339.6 351.06,327.9 351.12,325.2 351.18,335.5 351.24,340.2 351.30,334.6 351.36,329.0 351.42,332.1 351.48,331.6 351.54,325.5 351.60,328.2 351.66,331.4 351.72,332.9 351.78,335.0 351.84,336.9 351.90,326.7 351.96,335.8 352.02,338.2 352.08,330.3 352.14,333.0 352.20,334.9 352.26,339.4 352.32,332.4 352.38,339.7 352.44,327.4 352.50,338.8 352.56,340.9 352.62,331.9 352.68,331.2 352.74,328.8 352.80,334.5 352.86,339.1 352.92,329.8 352.98,330.2 353.04,337.6 353.10,329.4 353.16,335.6 353.22,332.5 353.28,330.1 353.34,327.6 353.40,327.4 353.46,329.1 353.52,335.5 353.58,326.9 353.64,334.7 353.70,332.9 353.76,336.3 353.82,330.1 353.88,333.2 353.94,336.5 354.00,337.9 354.06,332.4 354.12,331.1 354.18,329.7 354.24,331.9 354.30,330.4 354.36,340.4 354.42,338.2 354.48,330.3 354.54,332.5 354.60,330.9 354.66,334.6 354.72,333.1 354.78,328.9 354.84,336.5 354.90,331.6 354.96,332.6 355.02,331.7 355.08,331.6 355.14,328.3 355.20,337.9 355.26,332.2 355.32,337.1 355.38,337.2 355.44,339.7 355.50,339.0 355.56,331.2 355.62,333.1 355.68,336.5 355.74,337.6 355.80,330.5 355.86,325.1 355.92,329.3 355.98,336.3 356.04,330.4 356.10,335.1 356.16,339.6 356.22,329.5 356.28,328.0 356.34,331.5 356.40,329.8 356.46,329.9 356.52,340.1 356.58,337.4 356.64,328.5 356.70,337.1 356.76,332.8 356.82,337.4 356.88,332.9 356.94,332.5 357.00,331.1 357.06,330.9 357.12,337.4 357.18,329.6 357.24,332.4 357.30,337.2 357.36,335.0 357.42,330.9 357.48,338.3 357.54,341.1 357.60,336.0 357.66,324.6 357.72,330.0 357.78,334.4 357.84,337.2 357.90,328.6 357.96,325.6 358.02,332.5 358.08,328.4 358.14,332.5 358.20,339.3 358.26,330.4 358.32,328.2 358.38,335.8 358.44,339.3 358.50,334.3 358.56,331.9 358.62,338.1 358.68,328.0 358.74,339.3 358.80,335.6 358.86,333.3 358.92,336.4 358.98,326.4 359.04,338.0 359.10,329.0 359.16,332.0 359.22,323.3 359.28,333.6 359.34,327.2 359.40,334.0 359.46,330.0 359.52,329.8 359.58,332.2 359.64,335.5 359.70,339.8 359.76,333.7 359.82,337.3 359.88,325.8 359.94,330.4 360.00,336.1 360.06,326.3 360.12,333.4 360.18,329.8 360.24,332.2 360.30,327.2 360.36,332.1 360.42,325.3 360.48,333.3 360.54,325.1 360.60,334.6 360.66,336.2 360.72,328.1 360.78,328.2 360.84,324.0 360.90,326.0 360.96,339.1 361.02,328.4 361.08,334.4 361.14,334.7 361.20,337.0 361.26,328.3 361.32,325.7 361.38,337.8 361.44,330.6 361.50,336.4 361.56,331.6 361.62,326.5 361.68,330.7 361.74,334.4 361.80,336.7 361.86,324.6 361.92,331.1 361.98,334.3 362.04,330.0 362.10,327.2 362.16,328.3 362.22,339.7 362.28,337.2 362.34,328.4 362.40,337.2 362.46,325.7 362.52,333.6 362.58,338.5 362.64,327.0 362.70,336.6 362.76,328.2 362.82,329.8 362.88,336.3 362.94,340.0 363.00,339.3 363.06,327.4 363.12,326.8 363.18,329.6 363.24,335.5 363.30,331.9 363.36,339.8 363.42,328.2 363.48,336.2 363.54,330.3 363.60,328.0 363.66,334.3 363.72,332.8 363.78,335.8 363.84,325.3 363.90,338.6 363.96,330.3 364.02,329.2 364.08,338.8 364.14,332.6 364.20,326.1 364.26,329.7 364.32,332.0 364.38,335.0 364.44,338.9 364.50,336.7 364.56,325.0 364.62,331.0 364.68,334.6 364.74,331.0 364.80,337.9 364.86,334.5 364.92,328.0 364.98,333.3 365.04,329.3 365.10,326.4 365.16,336.2 365.22,327.4 365.28,327.0 365.34,335.0 365.40,327.2 365.46,326.5 365.52,337.4 365.58,329.9 365.64,329.2 365.70,332.5 365.76,325.4 365.82,328.1 365.88,332.2 365.94,335.5 366.00,327.4 366.06,328.7 366.12,339.3 366.18,336.2 366.24,331.2 366.30,334.9 366.36,332.0 366.42,335.0 366.48,325.8 366.54,333.0 366.60,335.8 366.66,333.4 366.72,332.4 366.78,325.0 366.84,335.6 366.90,332.5 366.96,332.1 367.02,333.9 367.08,334.0 367.14,328.8 367.20,338.1 367.26,327.9 367.32,341.9 367.38,331.1 367.44,327.1 367.50,327.0 367.56,326.1 367.62,325.0 367.68,338.3 367.74,327.7 367.80,340.2 367.86,336.5 367.92,336.7 367.98,337.1 368.04,336.0 368.10,333.4 368.16,332.2 368.22,328.8 368.28,337.9 368.34,326.5 368.40,334.2 368.46,331.3 368.52,337.7 368.58,332.8 368.64,336.6 368.70,329.1 368.76,324.1 368.82,330.6 368.88,327.5 368.94,339.0 369.00,339.0 369.06,333.9 369.12,331.0 369.18,336.8 369.24,326.8 369.30,334.4 369.36,337.0 369.42,329.2 369.48,335.9 369.54,339.4 369.60,325.7 369.66,330.3 369.72,333.5 369.78,326.8 369.84,337.9 369.90,333.2 369.96,329.0 370.02,340.1 370.08,326.4 370.14,330.5 370.20,330.0 370.26,325.2 370.32,326.6 370.38,335.6 370.44,323.3 370.50,337.1 370.56,331.5 370.62,335.2 370.68,326.5 370.74,334.8 370.80,339.1 370.86,328.7 370.92,335.1 370.98,339.0 371.04,325.7 371.10,323.8 371.16,340.9 371.22,333.9 371.28,324.3 371.34,337.1 371.40,328.5 371.46,337.7 371.52,335.8 371.58,336.1 371.64,335.8 371.70,339.2 371.76,327.2 371.82,337.8 371.88,328.5 371.94,335.1 372.00,336.0 372.06,334.6 372.12,336.4 372.18,333.9 372.24,324.5 372.30,338.1 372.36,335.6 372.42,334.8 372.48,329.5 372.54,328.6 372.60,337.1 372.66,327.3 372.72,333.1 372.78,333.3 372.84,334.3 372.90,336.4 372.96,338.3 373.02,330.8 373.08,324.5 373.14,325.9 373.20,335.7 373.26,328.7 373.32,329.7 373.38,335.0 373.44,324.5 373.50,335.5 373.56,336.0 373.62,326.3 373.68,337.8 373.74,333.7 373.80,330.7 373.86,330.6 373.92,325.3 373.98,332.2 374.04,338.4 374.10,337.9 374.16,326.1 374.22,335.4 374.28,326.6 374.34,334.2 374.40,338.7 374.46,332.8 374.52,335.5 374.58,328.4 374.64,328.6 374.70,328.1 374.76,339.3 374.82,336.9 374.88,334.5 374.94,333.0 375.00,337.7 375.06,324.8 375.12,325.8 375.18,329.6 375.24,338.4 375.30,335.6 375.36,327.5 375.42,335.6 375.48,323.1 375.54,324.6 375.60,328.2 375.66,335.1 375.72,330.4 375.78,323.9 375.84,329.4 375.90,329.7 375.96,325.5 376.02,337.0 376.08,331.9 376.14,327.1 376.20,338.8 376.26,334.6 376.32,324.5 376.38,333.3 376.44,326.0 376.50,331.2 376.56,337.0 376.62,329.1 376.68,336.8 376.74,333.9 376.80,327.6 376.86,338.6 376.92,329.9 376.98,330.2 377.04,335.7 377.10,326.5 377.16,326.7 377.22,323.9 377.28,324.4 377.34,337.0 377.40,328.6 377.46,324.6 377.52,331.3 377.58,330.3 377.64,340.7 377.70,336.7 377.76,333.2 377.82,338.3 377.88,339.7 377.94,324.4 378.00,335.0 378.06,334.5 378.12,335.4 378.18,334.7 378.24,336.2 378.30,330.9 378.36,325.1 378.42,327.8 378.48,338.5 378.54,330.9 378.60,325.6 378.66,334.0 378.72,328.4 378.78,326.4 378.84,337.5 378.90,333.3 378.96,330.2 379.02,334.2 379.08,335.5 379.14,329.0 379.20,339.9 379.26,335.2 379.32,337.3 379.38,325.8 379.44,330.0 379.50,338.5 379.56,339.8 379.62,339.5 379.68,339.7 379.74,324.2 379.80,327.0 379.86,330.6 379.92,325.8 379.98,338.9 380.04,325.4 380.10,338.4 380.16,336.5 380.22,327.4 380.28,335.8 380.34,334.6 380.40,336.6 380.46,335.6 380.52,333.5 380.58,330.3 380.64,326.5 380.70,328.5 380.76,328.0 380.82,334.2 380.88,328.1 380.94,330.8 381.00,335.9 381.06,336.3 381.12,331.7 381.18,332.4 381.24,328.0 381.30,335.7 381.36,328.8 381.42,332.8 381.48,337.5 381.54,337.6 381.60,327.9 381.66,340.2 381.72,337.6 381.78,326.8 381.84,337.8 381.90,338.4 381.96,333.6 382.02,338.8 382.08,326.8 382.14,330.8 382.20,331.6 382.26,337.9 382.32,333.4 382.38,330.1 382.44,337.9 382.50,340.5 382.56,342.3 382.62,342.0 382.68,335.7 382.74,340.1 382.80,339.5 382.86,336.4 382.92,334.1 382.98,332.5 383.04,327.8 383.10,339.2 383.16,335.1 383.22,337.7 383.28,335.8 383.34,328.7 383.40,341.1 383.46,338.3 383.52,337.3 383.58,329.2 383.64,336.9 383.70,339.7 383.76,335.2 383.82,334.8 383.88,340.3 383.94,337.4 384.00,332.1 384.06,331.8 384.12,337.0 384.18,333.7 384.24,329.2 384.30,329.8 384.36,332.7 384.42,337.8 384.48,333.4 384.54,338.6 384.60,331.8 384.66,336.3 384.72,334.5 384.78,334.6 384.84,333.1 384.90,333.5 384.96,337.9 385.02,335.3 385.08,335.8 385.14,339.2 385.20,335.1 385.26,331.2 385.32,335.6 385.38,342.1 385.44,333.0 385.50,336.3 385.56,339.6 385.62,333.4 385.68,340.5 385.74,334.1 385.80,336.8 385.86,335.5 385.92,333.3 385.98,339.3 386.04,339.0 386.10,336.9 386.16,334.4 386.22,334.8 386.28,340.5 386.34,334.8 386.40,337.5 386.46,333.4 386.52,336.9 386.58,336.5 386.64,338.5 386.70,330.8 386.76,342.1 386.82,334.9 386.88,339.3 386.94,334.6 387.00,333.7 387.06,341.6 387.12,336.5 387.18,334.4 387.24,337.1 387.30,336.2 387.36,331.5 387.42,336.6 387.48,337.0 387.54,331.3 387.60,342.7 387.66,334.3 387.72,342.1 387.78,336.2 387.84,342.2 387.90,341.1 387.96,337.4 388.02,336.1 388.08,342.3 388.14,333.8 388.20,339.4 388.26,336.4 388.32,334.5 388.38,335.4 388.44,332.7 388.50,335.1 388.56,335.6 388.62,341.9 388.68,343.8 388.74,336.8 388.80,335.2 388.86,333.9 388.92,337.2 388.98,341.6 389.04,332.9 389.10,332.6 389.16,336.5 389.22,334.1 389.28,334.4 389.34,341.2 389.40,335.9 389.46,333.0 389.52,337.7 389.58,337.0 389.64,333.2 389.70,345.4 389.76,335.9 389.82,332.5 389.88,335.6 389.94,335.0 390.00,341.3 390.06,337.4 390.12,330.1 390.18,335.2 390.24,335.6 390.30,332.5 390.36,345.4 390.42,341.8 390.48,339.3 390.54,341.4 390.60,338.1 390.66,338.3 390.72,334.1 390.78,341.2 390.84,341.3 390.90,338.3 390.96,342.0 391.02,339.8 391.08,338.3 391.14,342.7 391.20,333.7 391.26,336.6 391.32,337.7 391.38,340.5 391.44,345.0 391.50,338.6 391.56,334.4 391.62,339.8 391.68,336.7 391.74,330.6 391.80,336.4 391.86,338.0 391.92,340.5 391.98,336.1 392.04,337.4 392.10,337.1 392.16,335.6 392.22,338.9 392.28,331.6 392.34,340.7 392.40,342.9 392.46,337.8 392.52,340.9 392.58,334.6 392.64,335.4 392.70,340.1 392.76,333.7 392.82,336.4 392.88,338.3 392.94,342.6 393.00,337.7 393.06,335.2 393.12,331.7 393.18,343.1 393.24,342.8 393.30,337.0 393.36,333.8 393.42,340.5 393.48,343.2 393.54,335.8 393.60,337.8 393.66,335.9 393.72,336.9 393.78,341.0 393.84,343.9 393.90,337.2 393.96,335.9 394.02,344.0 394.08,340.4 394.14,341.1 394.20,333.8 394.26,343.3 394.32,333.2 394.38,333.4 394.44,340.6 394.50,343.2 394.56,332.6 394.62,341.8 394.68,337.1 394.74,339.7 394.80,341.5 394.86,334.0 394.92,339.5 394.98,335.3 395.04,332.3 395.10,334.6 395.16,334.1 395.22,338.6 395.28,336.1 395.34,335.6 395.40,338.5 395.46,337.0 395.52,335.9 395.58,344.5 395.64,334.1 395.70,341.2 395.76,334.0 395.82,341.6 395.88,333.7 395.94,345.7 396.00,338.3 396.06,340.6 396.12,342.6 396.18,343.4 396.24,342.3 396.30,334.2 396.36,340.7 396.42,338.6 396.48,343.0 396.54,343.5 396.60,336.3 396.66,339.1 396.72,338.2 396.78,340.2 396.84,342.9 396.90,333.3 396.96,344.1 397.02,342.6 397.08,345.0 397.14,336.5 397.20,335.3 397.26,338.5 397.32,345.6 397.38,344.1 397.44,338.2 397.50,343.7 397.56,333.3 397.62,333.3 397.68,335.5 397.74,341.2 397.80,344.0 397.86,337.1 397.92,332.7 397.98,338.9 398.04,336.3 398.10,340.5 398.16,336.3 398.22,332.0 398.28,345.4 398.34,338.5 398.40,337.4 398.46,344.2 398.52,346.0 398.58,345.5 398.64,345.3 398.70,339.5 398.76,340.5 398.82,348.2 398.88,344.8 398.94,342.3 399.00,341.0 399.06,334.6 399.12,337.8 399.18,341.2 399.24,338.3 399.30,334.9 399.36,338.2 399.42,340.0 399.48,339.0 399.54,340.8 399.60,337.5 399.66,346.0 399.72,334.7 399.78,342.7 399.84,337.5 399.90,344.4 399.96,337.3 400.02,341.9 400.08,344.9 400.14,344.8 400.20,341.8 400.26,341.9 400.32,340.3 400.38,338.3 400.44,340.3 400.50,334.5 400.56,344.4 400.62,343.6 400.68,343.1 400.74,346.0 400.80,339.2 400.86,345.0 400.92,340.8 400.98,334.7 401.04,338.3 401.10,344.9 401.16,335.8 401.22,338.0 401.28,345.4 401.34,338.1 401.40,342.4 401.46,341.5 401.52,343.6 401.58,338.9 401.64,339.3 401.70,346.6 401.76,344.1 401.82,339.4 401.88,346.8 401.94,344.8 402.00,341.9 402.06,341.9 402.12,340.4 402.18,344.3 402.24,343.8 402.30,338.8 402.36,341.7 402.42,344.0 402.48,343.6 402.54,344.1 402.60,345.3 402.66,348.0 402.72,336.8 402.78,339.5 402.84,338.1 402.90,338.0 402.96,335.2 403.02,346.2 403.08,336.0 403.14,344.2 403.20,341.0 403.26,341.5 403.32,340.7 403.38,335.4 403.44,336.3 403.50,340.3 403.56,343.6 403.62,341.6 403.68,338.1 403.74,340.3 403.80,338.1 403.86,340.4 403.92,343.7 403.98,336.9 404.04,336.3 404.10,338.8 404.16,347.0 404.22,335.3 404.28,340.1 404.34,342.8 404.40,344.4 404.46,341.0 404.52,339.9 404.58,337.0 404.64,340.6 404.70,338.1 404.76,345.8 404.82,345.2 404.88,340.2 404.94,341.8 405.00,340.3 405.06,340.0 405.12,341.3 405.18,345.4 405.24,348.2 405.30,343.7 405.36,336.7 405.42,338.0 405.48,344.9 405.54,339.8 405.60,345.5 405.66,342.5 405.72,341.6 405.78,338.0 405.84,343.4 405.90,346.2 405.96,344.2 406.02,340.8 406.08,339.3 406.14,341.4 406.20,337.7 406.26,336.5 406.32,335.7 406.38,344.8 406.44,339.4 406.50,336.6 406.56,335.4 406.62,338.3 406.68,344.6 406.74,343.2 406.80,343.5 406.86,336.9 406.92,344.0 406.98,348.1 407.04,346.6 407.10,339.2 407.16,347.1 407.22,338.1 407.28,347.1 407.34,338.4 407.40,347.2 407.46,343.4 407.52,341.5 407.58,343.3 407.64,341.5 407.70,340.1 407.76,344.5 407.82,340.3 407.88,347.1 407.94,336.9 408.00,340.5 408.06,340.7 408.12,338.8 408.18,342.3 408.24,341.7 408.30,346.9 408.36,346.0 408.42,338.8 408.48,347.0 408.54,342.4 408.60,344.0 408.66,347.0 408.72,345.7 408.78,346.7 408.84,345.1 408.90,347.0 408.96,347.7 409.02,338.4 409.08,339.2 409.14,349.5 409.20,346.6 409.26,341.7 409.32,342.3 409.38,336.3 409.44,340.6 409.50,347.6 409.56,342.9 409.62,338.5 409.68,340.2 409.74,346.1 409.80,349.4 409.86,345.9 409.92,345.6 409.98,342.2 410.04,343.5 410.10,346.2 410.16,349.0 410.22,343.3 410.28,344.6 410.34,347.6 410.40,345.1 410.46,340.6 410.52,347.7 410.58,349.3 410.64,346.3 410.70,345.3 410.76,339.4 410.82,343.9 410.88,344.7 410.94,338.9 411.00,348.1 411.06,340.7 411.12,339.4 411.18,346.8 411.24,347.1 411.30,344.0 411.36,343.9 411.42,348.0 411.48,346.6 411.54,348.6 411.60,348.2 411.66,346.8 411.72,346.5 411.78,339.1 411.84,340.4 411.90,339.1 411.96,340.4 412.02,346.9 412.08,339.5 412.14,344.0 412.20,350.3 412.26,344.9 412.32,345.9 412.38,338.7 412.44,341.3 412.50,339.9 412.56,340.8 412.62,347.8 412.68,343.4 412.74,342.5 412.80,346.6 412.86,344.5 412.92,346.7 412.98,341.6 413.04,339.5 413.10,350.2 413.16,339.1 413.22,346.8 413.28,341.3 413.34,346.1 413.40,348.4 413.46,342.2 413.52,349.1 413.58,344.2 413.64,347.4 413.70,340.2 413.76,348.6 413.82,347.1 413.88,340.5 413.94,343.0 414.00,348.9 414.06,343.3 414.12,348.3 414.18,341.9 414.24,346.9 414.30,344.1 414.36,347.0 414.42,340.8 414.48,347.8 414.54,342.5 414.60,347.8 414.66,342.3 414.72,346.6 414.78,346.3 414.84,342.2 414.90,346.5 414.96,347.4 415.02,349.4 415.08,340.3 415.14,341.5 415.20,348.6 415.26,340.9 415.32,349.3 415.38,340.2 415.44,346.7 415.50,347.7 415.56,340.4 415.62,347.1 415.68,342.1 415.74,347.0 415.80,341.7 415.86,348.9 415.92,346.7 415.98,348.1 416.04,344.0 416.10,344.8 416.16,347.9 416.22,345.4 416.28,344.8 416.34,346.5 416.40,341.2 416.46,346.6 416.52,348.3 416.58,342.3 416.64,342.6 416.70,347.8 416.76,344.6 416.82,344.6 416.88,351.2 416.94,345.6 417.00,341.1 417.06,347.7 417.12,351.5 417.18,342.9 417.24,346.8 417.30,345.6 417.36,344.9 417.42,341.8 417.48,341.3 417.54,344.0 417.60,346.3 417.66,341.2 417.72,342.0 417.78,349.3 417.84,342.5 417.90,343.2 417.96,349.4 418.02,350.2 418.08,341.3 418.14,348.0 418.20,346.8 418.26,345.1 418.32,345.6 418.38,342.8 418.44,348.8 418.50,345.6 418.56,341.7 418.62,346.9 418.68,342.6 418.74,342.8 418.80,347.6 418.86,343.1 418.92,344.2 418.98,341.8 419.04,346.2 419.10,343.3 419.16,347.7 419.22,349.7 419.28,350.0 419.34,346.1 419.40,349.8 419.46,349.5 419.52,347.0 419.58,341.0 419.64,342.9 419.70,346.5 419.76,348.2 419.82,342.1 419.88,343.7 419.94,344.2 420.00,344.6 420.06,344.1 420.12,346.6 420.18,344.4 420.24,346.9 420.30,350.3 420.36,341.7 420.42,348.3 420.48,341.7 420.54,343.9 420.60,346.5 420.66,346.4 420.72,342.3 420.78,342.2 420.84,344.1 420.90,348.6 420.96,344.1 421.02,346.2 421.08,346.7 421.14,340.6 421.20,348.8 421.26,347.1 421.32,346.1 421.38,343.0 421.44,346.5 421.50,348.1 421.56,351.3 421.62,347.5 421.68,342.7 421.74,349.5 421.80,342.3 421.86,343.3 421.92,342.1 421.98,344.3 422.04,346.2 422.10,341.7 422.16,349.8 422.22,350.8 422.28,349.1 422.34,345.1 422.40,341.3 422.46,350.3 422.52,346.1 422.58,349.2 422.64,348.9 422.70,342.6 422.76,341.1 422.82,348.8 422.88,350.0 422.94,344.5 423.00,346.7 423.06,351.5 423.12,341.8 423.18,340.8 423.24,342.2 423.30,350.6 423.36,348.6 423.42,341.7 423.48,342.3 423.54,348.7 423.60,348.5 423.66,350.8 423.72,340.5 423.78,350.9 423.84,344.5 423.90,343.7 423.96,346.8 424.02,344.7 424.08,350.6 424.14,346.8 424.20,351.7 424.26,345.4 424.32,344.8 424.38,347.6 424.44,347.5 424.50,342.3 424.56,350.3 424.62,352.0 424.68,341.2 424.74,345.4 424.80,344.8 424.86,344.3 424.92,345.8 424.98,352.6 425.04,352.7 425.10,351.6 425.16,349.4 425.22,345.6 425.28,347.7 425.34,347.7 425.40,344.8 425.46,347.0 425.52,350.1 425.58,347.8 425.64,343.8 425.70,352.0 425.76,341.3 425.82,342.7 425.88,345.0 425.94,343.8 426.00,348.6 426.06,347.8 426.12,350.2 426.18,347.9 426.24,343.6 426.30,348.0 426.36,347.1 426.42,351.0 426.48,345.0 426.54,350.3 426.60,345.5 426.66,349.0 426.72,342.9 426.78,344.4 426.84,341.8 426.90,341.4 426.96,342.5 427.02,347.8 427.08,342.1 427.14,346.1 427.20,350.4 427.26,348.9 427.32,349.1 427.38,345.7 427.44,347.5 427.50,352.0 427.56,343.4 427.62,350.4 427.68,346.8 427.74,348.6 427.80,343.2 427.86,341.0 427.92,346.3 427.98,343.2 428.04,353.3 428.10,347.9 428.16,350.6 428.22,351.7 428.28,349.9 428.34,346.9 428.40,342.6 428.46,347.0 428.52,346.6 428.58,348.4 428.64,345.7 428.70,343.1 428.76,349.1 428.82,351.9 428.88,348.0 428.94,350.2 429.00,349.5 429.06,353.3 429.12,351.2 429.18,347.6 429.24,349.4 429.30,343.6 429.36,350.8 429.42,347.1 429.48,343.6 429.54,343.6 429.60,348.9 429.66,341.9 429.72,351.6 429.78,348.3 429.84,348.1 429.90,349.4 429.96,350.4 430.02,349.0 430.08,345.6 430.14,348.0 430.20,351.4 430.26,348.9 430.32,353.0 430.38,349.1 430.44,345.6 430.50,346.5 430.56,346.3 430.62,345.9 430.68,345.6 430.74,352.1 430.80,342.0 430.86,348.4 430.92,341.2 430.98,345.8 431.04,347.9 431.10,351.2 431.16,342.8 431.22,343.8 431.28,346.0 431.34,352.5 431.40,352.8 431.46,346.5 431.52,345.3 431.58,351.1 431.64,350.5 431.70,348.4 431.76,344.9 431.82,345.7 431.88,344.4 431.94,344.4 432.00,343.0 432.06,346.8 432.12,343.3 432.18,343.9 432.24,345.3 432.30,344.9 432.36,352.3 432.42,346.2 432.48,344.5 432.54,345.1 432.60,349.2 432.66,344.3 432.72,347.1 432.78,351.3 432.84,351.9 432.90,345.1 432.96,341.9 433.02,348.7 433.08,346.9 433.14,347.2 433.20,350.3 433.26,342.4 433.32,346.0 433.38,347.4 433.44,347.6 433.50,350.6 433.56,348.3 433.62,350.7 433.68,343.3 433.74,343.2 433.80,345.9 433.86,343.6 433.92,343.9 433.98,344.7 434.04,345.8 434.10,342.2 434.16,351.0 434.22,348.1 434.28,347.2 434.34,347.7 434.40,352.8 434.46,346.7 434.52,344.0 434.58,351.0 434.64,342.0 434.70,346.2 434.76,346.6 434.82,346.5 434.88,343.6 434.94,352.1 435.00,350.5 435.06,343.8 435.12,349.3 435.18,351.7 435.24,347.4 435.30,351.3 435.36,342.0 435.42,352.1 435.48,350.2 435.54,351.1 435.60,350.6 435.66,349.4 435.72,347.5 435.78,343.2 435.84,348.9 435.90,350.7 435.96,344.3 436.02,344.3 436.08,346.0 436.14,351.7 436.20,348.4 436.26,344.0 436.32,350.4 436.38,344.8 436.44,350.8 436.50,351.9 436.56,343.0 436.62,349.1 436.68,349.3 436.74,351.5 436.80,350.6 436.86,347.8 436.92,345.6 436.98,352.9 437.04,347.8 437.10,345.6 437.16,348.0 437.22,344.3 437.28,348.1 437.34,343.8 437.40,348.9 437.46,347.5 437.52,351.8 437.58,346.8 437.64,346.2 437.70,345.9 437.76,342.9 437.82,351.0 437.88,345.5 437.94,351.8 438.00,346.2 438.06,341.6 438.12,348.3 438.18,344.0 438.24,350.1 438.30,346.3 438.36,347.8 438.42,345.2 438.48,348.5 438.54,349.8 438.60,347.1 438.66,343.7 438.72,348.3 438.78,350.8 438.84,344.8 438.90,347.2 438.96,348.9 439.02,345.7 439.08,351.2 439.14,347.1 439.20,352.9 439.26,350.5 439.32,348.2 439.38,350.3 439.44,350.2 439.50,346.1 439.56,351.0 439.62,352.6 439.68,353.6 439.74,350.4 439.80,347.0 439.86,348.9 439.92,351.0 439.98,352.7 440.04,344.9 440.10,346.6 440.16,351.5 440.22,349.2 440.28,345.8 440.34,352.3 440.40,344.2 440.46,351.3 440.52,343.9 440.58,345.8 440.64,348.0 440.70,348.3 440.76,349.1 440.82,346.6 440.88,345.1 440.94,345.8 441.00,349.7 441.06,344.6 441.12,345.1 441.18,344.0 441.24,344.3 441.30,351.8 441.36,345.3 441.42,351.1 441.48,347.2 441.54,352.9 441.60,351.2 441.66,346.6 441.72,351.3 441.78,347.8 441.84,342.8 441.90,344.7 441.96,349.5 442.02,344.1 442.08,346.2 442.14,343.6 442.20,349.7 442.26,344.5 442.32,347.6 442.38,352.8 442.44,346.3 442.50,343.0 442.56,350.6 442.62,352.4 442.68,345.3 442.74,345.9 442.80,348.2 442.86,346.4 442.92,343.2 442.98,344.6 443.04,350.6 443.10,346.2 443.16,348.3 443.22,345.4 443.28,344.9 443.34,340.5 443.40,342.6 443.46,351.5 443.52,350.1 443.58,348.0 443.64,349.4 443.70,347.3 443.76,349.1 443.82,350.9 443.88,346.8 443.94,345.6 444.00,348.6 444.06,343.9 444.12,349.7 444.18,351.2 444.24,347.0 444.30,350.7 444.36,346.6 444.42,346.7 444.48,351.7 444.54,345.9 444.60,351.6 444.66,353.3 444.72,345.7 444.78,345.5 444.84,350.0 444.90,344.7 444.96,346.8 445.02,343.9 445.08,351.5 445.14,347.6 445.20,344.4 445.26,344.8 445.32,346.4 445.38,350.6 445.44,345.1 445.50,352.5 445.56,345.0 445.62,348.3 445.68,349.0 445.74,345.9 445.80,351.3 445.86,346.9 445.92,348.5 445.98,346.2 446.04,351.0 446.10,349.7 446.16,350.1 446.22,344.6 446.28,344.0 446.34,351.6 446.40,350.5 446.46,347.1 446.52,349.7 446.58,346.9 446.64,343.2 446.70,352.6 446.76,345.0 446.82,348.7 446.88,343.0 446.94,354.2 447.00,349.7 447.06,349.0 447.12,347.9 447.18,351.1 447.24,347.2 447.30,350.1 447.36,354.3 447.42,347.7 447.48,352.0 447.54,351.8 447.60,345.0 447.66,343.2 447.72,350.1 447.78,344.3 447.84,348.6 447.90,353.2 447.96,351.2 448.02,350.9 448.08,348.9 448.14,352.1 448.20,351.9 448.26,347.4 448.32,345.8 448.38,350.5 448.44,351.1 448.50,350.3 448.56,348.0 448.62,346.0 448.68,351.4 448.74,346.5 448.80,353.1 448.86,348.7 448.92,350.2 448.98,344.1 449.04,351.3 449.10,348.5 449.16,344.6 449.22,352.0 449.28,349.2 449.34,353.6 449.40,351.8 449.46,353.4 449.52,348.0 449.58,349.4 449.64,343.4 449.70,352.5 449.76,346.3 449.82,352.6 449.88,345.0 449.94,347.3 450.00,354.0 450.06,348.9 450.12,344.3 450.18,352.2 450.24,349.3 450.30,348.6 450.36,349.9 450.42,349.7 450.48,347.2 450.54,345.6 450.60,345.4 450.66,344.4 450.72,343.4 450.78,348.3 450.84,348.6 450.90,352.4 450.96,351.7 451.02,351.8 451.08,352.9 451.14,351.4 451.20,345.1 451.26,348.1 451.32,342.9 451.38,351.3 451.44,350.4 451.50,345.6 451.56,346.9 451.62,346.3 451.68,350.6 451.74,350.8 451.80,343.7 451.86,346.1 451.92,346.6 451.98,344.1 452.04,346.1 452.10,350.2 452.16,342.2 452.22,349.6 452.28,353.2 452.34,352.1 452.40,344.8 452.46,353.8 452.52,344.2 452.58,343.5 452.64,341.7 452.70,352.5 452.76,349.6 452.82,347.8 452.88,346.7 452.94,343.4 453.00,344.4 453.06,343.9 453.12,345.1 453.18,347.6 453.24,348.3 453.30,352.5 453.36,353.7 453.42,342.9 453.48,349.2 453.54,351.7 453.60,350.7 453.66,343.4 453.72,342.5 453.78,344.0 453.84,353.0 453.90,352.8 453.96,351.1 454.02,352.0 454.08,345.6 454.14,345.8 454.20,343.1 454.26,346.5 454.32,351.7 454.38,352.8 454.44,352.2 454.50,343.7 454.56,351.4 454.62,343.3 454.68,349.7 454.74,344.0 454.80,344.6 454.86,345.1 454.92,347.6 454.98,343.0 455.04,352.7 455.10,346.0 455.16,342.6 455.22,343.2 455.28,348.3 455.34,350.9 455.40,349.9 455.46,346.1 455.52,343.3 455.58,344.3 455.64,346.3 455.70,350.4 455.76,342.6 455.82,344.3 455.88,344.8 455.94,342.3 456.00,343.5 456.06,351.6 456.12,346.6 456.18,347.5 456.24,347.3 456.30,351.5 456.36,343.0 456.42,346.2 456.48,346.9 456.54,352.0 456.60,350.0 456.66,347.2 456.72,344.8 456.78,345.3 456.84,353.4 456.90,348.4 456.96,351.6 457.02,344.1 457.08,343.8 457.14,342.8 457.20,352.2 457.26,350.9 457.32,349.5 457.38,349.1 457.44,349.7 457.50,349.3 457.56,345.3 457.62,347.3 457.68,351.4 457.74,344.4 457.80,349.8 457.86,348.5 457.92,349.4 457.98,342.7 458.04,344.5 458.10,348.3 458.16,343.5 458.22,342.8 458.28,347.6 458.34,344.5 458.40,347.4 458.46,343.5 458.52,349.5 458.58,347.1 458.64,344.1 458.70,351.1 458.76,346.1 458.82,350.6 458.88,342.9 458.94,350.3 459.00,352.0 459.06,351.4 459.12,348.6 459.18,345.9 459.24,350.1 459.30,346.7 459.36,347.1 459.42,341.3 459.48,346.6 459.54,346.9 459.60,347.3 459.66,342.4 459.72,347.1 459.78,343.7 459.84,350.0 459.90,344.0 459.96,350.8 460.02,351.9 460.08,343.1 460.14,353.0 460.20,349.3 460.26,345.8 460.32,343.2 460.38,352.6 460.44,348.3 460.50,350.1 460.56,342.0 460.62,344.3 460.68,350.5 460.74,350.9 460.80,344.1 460.86,349.5 460.92,353.3 460.98,343.2 461.04,350.4 461.10,347.9 461.16,349.1 461.22,345.6 461.28,353.9 461.34,349.7 461.40,345.8 461.46,351.9 461.52,345.6 461.58,343.3 461.64,344.8 461.70,348.3 461.76,352.9 461.82,351.7 461.88,343.0 461.94,349.0 462.00,346.8 462.06,352.3 462.12,347.8 462.18,343.0 462.24,351.5 462.30,351.7 462.36,346.0 462.42,346.5 462.48,347.5 462.54,346.8 462.60,352.2 462.66,353.8 462.72,348.7 462.78,350.2 462.84,352.4 462.90,353.6 462.96,344.2 463.02,342.0 463.08,347.6 463.14,346.3 463.20,353.1 463.26,350.9 463.32,342.4 463.38,341.8 463.44,352.6 463.50,347.5 463.56,352.0 463.62,349.0 463.68,345.5 463.74,349.3 463.80,352.0 463.86,350.4 463.92,345.7 463.98,346.6 464.04,344.7 464.10,350.2 464.16,342.3 464.22,351.4 464.28,344.3 464.34,345.6 464.40,346.2 464.46,350.9 464.52,346.9 464.58,344.4 464.64,347.3 464.70,352.0 464.76,350.8 464.82,351.5 464.88,352.4 464.94,349.5 465.00,344.1 465.06,345.4 465.12,353.4 465.18,345.4 465.24,351.3 465.30,342.6 465.36,347.9 465.42,345.1 465.48,347.6 465.54,349.6 465.60,352.1 465.66,343.6 465.72,351.6 465.78,342.1 465.84,346.8 465.90,344.5 465.96,350.2 466.02,348.5 466.08,351.9 466.14,344.4 466.20,352.4 466.26,354.3 466.32,349.0 466.38,349.0 466.44,352.9 466.50,347.3 466.56,348.0 466.62,343.8 466.68,348.2 466.74,348.6 466.80,353.3 466.86,342.2 466.92,344.1 466.98,346.1 467.04,350.8 467.10,349.6 467.16,343.4 467.22,345.8 467.28,344.4 467.34,350.7 467.40,343.8 467.46,349.4 467.52,346.0 467.58,343.4 467.64,347.8 467.70,345.2 467.76,352.4 467.82,345.5 467.88,345.0 467.94,346.0 468.00,350.2 468.06,344.0 468.12,347.8 468.18,348.1 468.24,348.9 468.30,343.9 468.36,352.7 468.42,348.9 468.48,344.4 468.54,352.7 468.60,350.8 468.66,349.7 468.72,349.8 468.78,349.4 468.84,348.4 468.90,345.6 468.96,353.3 469.02,342.8 469.08,353.4 469.14,349.6 469.20,349.8 469.26,344.3 469.32,351.8 469.38,343.0 469.44,343.4 469.50,345.8 469.56,350.8 469.62,350.9 469.68,350.0 469.74,348.8 469.80,350.8 469.86,351.6 469.92,344.8 469.98,344.8 470.04,350.7 470.10,346.8 470.16,347.6 470.22,343.9 470.28,346.0 470.34,350.8 470.40,347.6 470.46,347.7 470.52,348.0 470.58,345.1 470.64,347.8 470.70,344.8 470.76,349.4 470.82,349.3 470.88,352.4 470.94,344.7 471.00,344.8 471.06,343.5 471.12,346.3 471.18,343.3 471.24,349.6 471.30,353.2 471.36,353.0 471.42,349.1 471.48,349.6 471.54,347.4 471.60,349.2 471.66,351.0 471.72,349.0 471.78,352.3 471.84,347.2 471.90,348.8 471.96,348.4 472.02,346.2 472.08,350.5 472.14,343.2 472.20,346.6 472.26,345.1 472.32,345.7 472.38,343.4 472.44,349.5 472.50,344.6 472.56,352.1 472.62,349.6 472.68,351.2 472.74,346.4 472.80,348.0 472.86,351.0 472.92,349.2 472.98,346.8 473.04,344.2 473.10,347.8 473.16,344.8 473.22,345.7 473.28,350.9 473.34,352.7 473.40,350.2 473.46,346.7 473.52,347.0 473.58,352.7 473.64,344.5 473.70,348.8 473.76,347.4 473.82,343.8 473.88,352.6 473.94,349.6 474.00,347.4 474.06,346.7 474.12,346.1 474.18,346.0 474.24,342.9 474.30,350.8 474.36,345.0 474.42,344.8 474.48,348.2 474.54,343.6 474.60,345.5 474.66,351.6 474.72,344.7 474.78,349.6 474.84,353.3 474.90,346.1 474.96,344.6 475.02,343.6 475.08,343.1 475.14,351.4 475.20,349.7 475.26,344.5 475.32,350.6 475.38,346.6 475.44,347.0 475.50,347.7 475.56,344.6 475.62,343.4 475.68,344.8 475.74,350.7 475.80,345.7 475.86,352.4 475.92,346.7 475.98,347.2 476.04,343.3 476.10,348.5 476.16,348.1 476.22,344.9 476.28,342.1 476.34,349.9 476.40,346.2 476.46,344.8 476.52,349.4 476.58,344.0 476.64,351.8 476.70,349.0 476.76,344.0 476.82,349.2 476.88,351.7 476.94,346.0 477.00,351.2 477.06,349.1 477.12,347.4 477.18,347.7 477.24,345.4 477.30,352.7 477.36,348.8 477.42,343.5 477.48,348.9 477.54,351.1 477.60,345.9 477.66,351.4 477.72,344.7 477.78,344.1 477.84,350.3 477.90,346.7 477.96,345.6 478.02,349.3 478.08,342.8 478.14,348.1 478.20,347.0 478.26,344.2 478.32,351.0 478.38,351.6 478.44,351.6 478.50,350.9 478.56,351.8 478.62,348.9 478.68,343.4 478.74,352.8 478.80,346.4 478.86,345.8 478.92,349.8 478.98,348.0 479.04,348.1 479.10,348.1 479.16,349.1 479.22,342.6 479.28,350.9 479.34,344.7 479.40,342.1 479.46,348.6 479.52,344.4 479.58,347.8 479.64,344.0 479.70,351.6 479.76,349.0 479.82,350.3 479.88,348.3 479.94,346.2 480.00,344.4 480.06,346.6 480.12,347.8 480.18,351.0 480.24,348.2 480.30,346.3 480.36,344.6 480.42,345.4 480.48,343.3 480.54,348.8 480.60,349.3 480.66,353.4 480.72,345.0 480.78,352.3 480.84,345.4 480.90,349.3 480.96,345.3 481.02,346.2 481.08,349.5 481.14,348.6 481.20,351.9 481.26,348.1 481.32,351.3 481.38,352.8 481.44,347.7 481.50,352.4 481.56,350.6 481.62,345.7 481.68,347.7 481.74,348.4 481.80,346.9 481.86,350.6 481.92,351.5 481.98,351.3 482.04,352.2 482.10,352.8 482.16,348.1 482.22,342.7 482.28,352.6 482.34,347.6 482.40,349.9 482.46,351.4 482.52,348.0 482.58,345.1 482.64,353.8 482.70,342.2 482.76,348.6 482.82,349.9 482.88,343.6 482.94,343.0 483.00,342.8 483.06,349.1 483.12,348.5 483.18,351.8 483.24,348.8 483.30,345.8 483.36,348.0 483.42,345.3 483.48,350.7 483.54,346.1 483.60,342.5 483.66,345.5 483.72,351.2 483.78,350.9 483.84,350.6 483.90,348.3 483.96,347.7 484.02,348.5 484.08,346.1 484.14,349.8 484.20,350.5 484.26,351.9 484.32,346.6 484.38,350.9 484.44,349.0 484.50,345.6 484.56,347.9 484.62,350.5 484.68,343.3 484.74,351.4 484.80,343.9 484.86,343.2 484.92,349.4 484.98,345.4 485.04,344.8 485.10,347.0 485.16,343.9 485.22,351.0 485.28,350.4 485.34,348.8 485.40,343.2 485.46,350.8 485.52,350.1 485.58,348.8 485.64,344.1 485.70,351.2 485.76,349.9 485.82,351.2 485.88,350.3 485.94,350.7 486.00,345.0 486.06,345.6 486.12,344.6 486.18,350.0 486.24,344.2 486.30,351.7 486.36,341.7 486.42,344.1 486.48,352.0 486.54,351.8 486.60,342.9 486.66,346.7 486.72,344.3 486.78,351.0 486.84,343.1 486.90,347.5 486.96,345.3 487.02,342.1 487.08,352.7 487.14,350.0 487.20,352.0 487.26,350.8 487.32,349.9 487.38,348.1 487.44,348.0 487.50,343.6 487.56,351.3 487.62,352.2 487.68,342.7 487.74,350.9 487.80,345.8 487.86,350.4 487.92,344.7 487.98,347.6 488.04,345.8 488.10,344.3 488.16,343.0 488.22,351.6 488.28,341.7 488.34,347.1 488.40,347.0 488.46,350.8 488.52,345.8 488.58,343.8 488.64,347.9 488.70,349.2 488.76,342.2 488.82,347.4 488.88,350.2 488.94,347.8 489.00,346.4 489.06,343.4 489.12,346.2 489.18,350.2 489.24,342.9 489.30,343.5 489.36,346.3 489.42,352.5 489.48,349.3 489.54,343.9 489.60,348.6 489.66,347.4 489.72,345.9 489.78,350.5 489.84,346.8 489.90,341.4 489.96,350.1 490.02,344.9 490.08,342.2 490.14,347.0 490.20,344.0 490.26,347.3 490.32,342.5 490.38,350.3 490.44,349.7 490.50,352.6 490.56,344.6 490.62,343.1 490.68,349.3 490.74,350.6 490.80,344.8 490.86,347.6 490.92,345.3 490.98,349.7 491.04,349.8 491.10,351.7 491.16,346.6 491.22,342.6 491.28,349.4 491.34,349.7 491.40,345.1 491.46,352.1 491.52,347.5 491.58,342.4 491.64,344.8 491.70,349.2 491.76,348.2 491.82,346.2 491.88,344.2 491.94,347.0 492.00,346.5 492.06,347.6 492.12,344.0 492.18,345.9 492.24,347.0 492.30,342.0 492.36,342.6 492.42,348.0 492.48,351.5 492.54,353.1 492.60,350.8 492.66,350.9 492.72,349.7 492.78,344.1 492.84,342.4 492.90,345.9 492.96,344.4 493.02,352.0 493.08,345.1 493.14,345.4 493.20,348.1 493.26,347.8 493.32,348.5 493.38,347.1 493.44,348.9 493.50,341.6 493.56,343.0 493.62,346.8 493.68,351.2 493.74,345.4 493.80,346.4 493.86,349.6 493.92,341.9 493.98,351.2 494.04,349.5 494.10,345.8 494.16,346.2 494.22,345.3 494.28,343.8 494.34,348.5 494.40,349.5 494.46,349.7 494.52,347.8 494.58,343.3 494.64,342.1 494.70,342.7 494.76,348.8 494.82,344.4 494.88,351.6 494.94,348.9 495.00,341.6 495.06,340.9 495.12,347.4 495.18,350.1 495.24,345.1 495.30,345.3 495.36,348.9 495.42,348.4 495.48,351.5 495.54,343.0 495.60,350.1 495.66,346.1 495.72,350.9 495.78,346.3 495.84,341.6 495.90,341.8 495.96,342.5 496.02,350.2 496.08,348.3 496.14,349.4 496.20,350.1 496.26,341.9 496.32,344.9 496.38,342.8 496.44,345.8 496.50,342.9 496.56,342.2 496.62,345.5 496.68,346.0 496.74,346.8 496.80,348.0 496.86,341.3 496.92,345.9 496.98,342.0 497.04,347.0 497.10,341.2 497.16,346.8 497.22,342.3 497.28,343.2 497.34,343.8 497.40,347.6 497.46,349.0 497.52,346.0 497.58,344.6 497.64,345.4 497.70,344.4 497.76,349.0 497.82,344.6 497.88,349.6 497.94,340.3 498.00,346.2 498.06,349.0 498.12,345.3 498.18,341.7 498.24,340.9 498.30,347.4 498.36,341.4 498.42,345.5 498.48,347.3 498.54,345.6 498.60,341.6 498.66,340.2 498.72,344.2 498.78,342.8 498.84,348.1 498.90,343.8 498.96,346.5 499.02,348.3 499.08,345.9 499.14,349.0 499.20,347.1 499.26,349.5 499.32,346.6 499.38,344.7 499.44,348.7 499.50,346.8 499.56,343.0 499.62,343.9 499.68,348.0 499.74,350.5 499.80,345.3 499.86,343.8 499.92,341.3 499.98,348.4" fill="none" stroke="#0a0af2" stroke-width="1.2" stroke-linejoin="bevel"/>
<line x1="349.0" y1="153.5" x2="349.0" y2="376.9" stroke="#000" stroke-width="2.0" stroke-dasharray="8.5 8.43"/>
<line x1="373.0" y1="151.5" x2="373.0" y2="376.9" stroke="#000" stroke-width="2.0" stroke-dasharray="8.5 8.43"/>
<rect x="40.8" y="18.0" width="487.2" height="358.9" fill="none" stroke="#000" stroke-width="1.6"/>
<line x1="40.60" y1="376.9" x2="40.60" y2="383.9" stroke="#000" stroke-width="1.6"/>
<line x1="69.25" y1="376.9" x2="69.25" y2="380.7" stroke="#000" stroke-width="1.6"/>
<line x1="97.90" y1="376.9" x2="97.90" y2="383.9" stroke="#000" stroke-width="1.6"/>
<line x1="126.55" y1="376.9" x2="126.55" y2="380.7" stroke="#000" stroke-width="1.6"/>
<line x1="155.20" y1="376.9" x2="155.20" y2="383.9" stroke="#000" stroke-width="1.6"/>
<line x1="183.85" y1="376.9" x2="183.85" y2="380.7" stroke="#000" stroke-width="1.6"/>
<line x1="212.50" y1="376.9" x2="212.50" y2="383.9" stroke="#000" stroke-width="1.6"/>
<line x1="241.15" y1="376.9" x2="241.15" y2="380.7" stroke="#000" stroke-width="1.6"/>
<line x1="269.80" y1="376.9" x2="269.80" y2="383.9" stroke="#000" stroke-width="1.6"/>
<line x1="298.45" y1="376.9" x2="298.45" y2="380.7" stroke="#000" stroke-width="1.6"/>
<line x1="327.10" y1="376.9" x2="327.10" y2="383.9" stroke="#000" stroke-width="1.6"/>
<line x1="355.75" y1="376.9" x2="355.75" y2="380.7" stroke="#000" stroke-width="1.6"/>
<line x1="384.40" y1="376.9" x2="384.40" y2="383.9" stroke="#000" stroke-width="1.6"/>
<line x1="413.05" y1="376.9" x2="413.05" y2="380.7" stroke="#000" stroke-width="1.6"/>
<line x1="441.70" y1="376.9" x2="441.70" y2="383.9" stroke="#000" stroke-width="1.6"/>
<line x1="470.35" y1="376.9" x2="470.35" y2="380.7" stroke="#000" stroke-width="1.6"/>
<line x1="499.00" y1="376.9" x2="499.00" y2="383.9" stroke="#000" stroke-width="1.6"/>
<line x1="527.65" y1="376.9" x2="527.65" y2="380.7" stroke="#000" stroke-width="1.6"/>
<g font-family="&quot;Liberation Sans&quot;, sans-serif" font-size="18.7" fill="#000"><text x="40.60" y="403.3" text-anchor="middle">0</text><text x="97.90" y="403.3" text-anchor="middle">500</text><text x="155.20" y="403.3" text-anchor="middle">1000</text><text x="212.50" y="403.3" text-anchor="middle">1500</text><text x="269.80" y="403.3" text-anchor="middle">2000</text><text x="327.10" y="403.3" text-anchor="middle">2500</text><text x="384.40" y="403.3" text-anchor="middle">3000</text><text x="441.70" y="403.3" text-anchor="middle">3500</text><text x="499.00" y="403.3" text-anchor="middle">4000</text></g>
<g font-family="&quot;Liberation Sans&quot;, sans-serif" font-size="11.7" fill="#000"><text x="170.1" y="390.6">1350</text><text x="230.2" y="389.3">1588</text><text x="329.5" y="387.6">2700</text><text x="359.0" y="387.6">2900</text></g>
<text x="200.3" y="428.7" font-family="&quot;Liberation Sans&quot;, sans-serif" font-weight="bold" font-size="18.4">Raman Shift (cm<tspan dx="1.8" dy="-8.2" font-size="13.6" font-weight="bold">-</tspan><tspan dx="1.2" font-size="14">1</tspan><tspan dx="1.6" dy="8.2">)</tspan></text>
<text transform="translate(27.1,259.1) rotate(-90)" x="0" y="0" font-family="&quot;Liberation Sans&quot;, sans-serif" font-weight="bold" font-size="18.6">Intensity (a.u.)</text>
<line x1="383.1" y1="248.6" x2="424.5" y2="248.6" stroke="#ef4242" stroke-width="1.8"/>
<line x1="383.1" y1="276.1" x2="424.5" y2="276.1" stroke="#0a0af2" stroke-width="1.8"/>
<g font-family="&quot;Liberation Sans&quot;, sans-serif" font-weight="bold" font-size="18.4" fill="#000"><text x="429.3" y="254.9">SnO<tspan dx="0.6" dy="5" font-size="13">2</tspan><tspan dx="0.9" dy="-5">-rGO</tspan></text><text x="429.8" y="282.6">rGO</text></g>
<rect x="326.1" y="25.1" width="185.29999999999995" height="108.4" fill="none" stroke="#8a8a8a" stroke-width="1.6"/>
<line x1="329.75" y1="133.5" x2="329.75" y2="134.7" stroke="#8a8a8a" stroke-width="1"/>
<line x1="348.40" y1="133.5" x2="348.40" y2="135.5" stroke="#8a8a8a" stroke-width="1"/>
<line x1="367.05" y1="133.5" x2="367.05" y2="134.7" stroke="#8a8a8a" stroke-width="1"/>
<line x1="385.70" y1="133.5" x2="385.70" y2="135.5" stroke="#8a8a8a" stroke-width="1"/>
<line x1="404.35" y1="133.5" x2="404.35" y2="134.7" stroke="#8a8a8a" stroke-width="1"/>
<line x1="423.00" y1="133.5" x2="423.00" y2="135.5" stroke="#8a8a8a" stroke-width="1"/>
<line x1="441.65" y1="133.5" x2="441.65" y2="134.7" stroke="#8a8a8a" stroke-width="1"/>
<line x1="460.30" y1="133.5" x2="460.30" y2="135.5" stroke="#8a8a8a" stroke-width="1"/>
<line x1="478.95" y1="133.5" x2="478.95" y2="134.7" stroke="#8a8a8a" stroke-width="1"/>
<line x1="497.60" y1="133.5" x2="497.60" y2="135.5" stroke="#8a8a8a" stroke-width="1"/>
<line x1="408.8" y1="25.1" x2="408.8" y2="133.5" stroke="#666" stroke-width="1.3" stroke-dasharray="3 2.7"/>
<polyline points="326.3,123.2 330.7,104.5 334.9,123.2 340.6,104 343.2,121.1 346.8,104 349.4,101.4 351.2,95.2 355.1,108.2 358.8,118.5 362.9,101.4 365,105.6 367,133.6 369.1,108.7 371.2,110.1 373,104 375.1,99.4 378.6,99.2 381.2,94.5 383.2,98.4 385.4,85.2 387.5,107.5 390.8,99.4 391.8,99.9 393.6,110.1 397.4,83.6 399.7,85.2 401.5,51.7 403.4,69 404.9,66 407.4,36.8 408.4,36.4 409.6,41.1 411.1,65.3 441.9,65.3 445.6,69.6 447.8,75.5 449.6,74.2 450.7,80.6 453.8,111.7 455.6,108.9 458.4,106.2 460.2,108.9 462,98.9 463.9,111.7 466.6,100.7 467.9,98.8 470.2,102.3 472.1,109.2 473.6,103.4 475.9,113.2 478.8,100 480.2,98.6 482.3,120.1 484.4,96.3 486,109.2 489.2,109.8 492.6,112.6 495.9,120.1 498.4,98.8 500.1,109.2 501.6,105.5 504.2,120.1 506.2,116.3 507.9,119.6 511.1,117.3" fill="none" stroke="#f25a5a" stroke-width="0.9" stroke-linejoin="round"/>
<g font-family="&quot;Liberation Sans&quot;, sans-serif" font-size="10.3" fill="#111"><text x="348.40" y="145.4" text-anchor="middle">500</text><text x="385.70" y="145.4" text-anchor="middle">510</text><text x="423.00" y="145.4" text-anchor="middle">520</text><text x="460.30" y="145.4" text-anchor="middle">530</text><text x="497.60" y="145.4" text-anchor="middle">540</text><text x="405.2" y="144.2" text-anchor="middle">516</text></g>
<text x="391.6" y="157.2" font-family="&quot;Liberation Sans&quot;, sans-serif" font-weight="bold" font-size="10" fill="#000">Raman Shift (cm<tspan dx="0.2" dy="-4.9" font-size="8.8">-</tspan><tspan dx="0.5" font-size="8.8">1</tspan><tspan dx="0.6" dy="4.9">)</tspan></text>
<text transform="translate(323,112.2) rotate(-90)" font-family="&quot;Liberation Sans&quot;, sans-serif" font-weight="bold" font-size="10" fill="#000">Intensity (a.u.)</text>
<line x1="448.0" y1="36.0" x2="465.3" y2="36.0" stroke="#f5a3a8" stroke-width="1.8"/>
<text x="467.8" y="38.8" font-family="&quot;Liberation Sans&quot;, sans-serif" font-weight="bold" font-size="8.0" fill="#000">SnO<tspan dy="2.2" font-size="5.5">2</tspan><tspan dy="-2.2">-rGO</tspan></text>
</svg>
</body></html>
